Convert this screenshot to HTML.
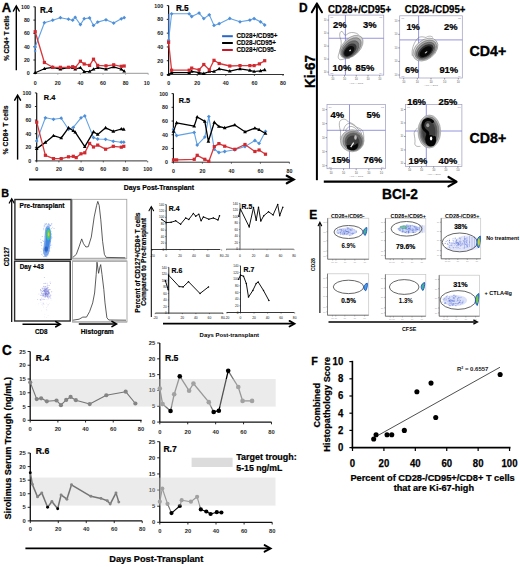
<!DOCTYPE html>
<html><head><meta charset="utf-8"><style>
html,body{margin:0;padding:0;background:#fff;}
body{width:520px;height:567px;overflow:hidden;}
svg{display:block;font-family:"Liberation Sans", sans-serif;}
</style></head><body>
<svg width="520" height="567" viewBox="0 0 520 567">
<defs><radialGradient id="gdark" cx="50%" cy="50%" r="50%"><stop offset="0" stop-color="#000" stop-opacity="1"/><stop offset="0.45" stop-color="#111" stop-opacity="1"/><stop offset="0.7" stop-color="#444" stop-opacity="0.9"/><stop offset="0.88" stop-color="#888" stop-opacity="0.6"/><stop offset="1" stop-color="#bbb" stop-opacity="0.2"/></radialGradient><radialGradient id="ggray" cx="50%" cy="50%" r="50%"><stop offset="0" stop-color="#222" stop-opacity="1"/><stop offset="0.5" stop-color="#555" stop-opacity="0.95"/><stop offset="0.8" stop-color="#999" stop-opacity="0.7"/><stop offset="1" stop-color="#ccc" stop-opacity="0.2"/></radialGradient></defs>
<rect width="520" height="567" fill="#fff"/>
<text x="1.70" y="11.50" font-size="13.65" font-weight="bold" fill="#000" textLength="9.39" lengthAdjust="spacingAndGlyphs" stroke="#000" stroke-width="0.34">A</text>
<line x1="16.30" y1="6.60" x2="16.30" y2="70.20" stroke="#000" stroke-width="1.4"/>
<polyline points="13.40,11.00 16.30,6.00 19.20,11.00" fill="none" stroke="#000" stroke-width="1.47" stroke-linecap="round" stroke-linejoin="miter"/>
<text x="9.30" y="38.20" font-size="6.66" font-weight="bold" text-anchor="middle" fill="#000" transform="rotate(-90 9.30 38.20)" textLength="45.28" lengthAdjust="spacingAndGlyphs" stroke="#000" stroke-width="0.17">% CD4+ T cells</text>
<line x1="17.60" y1="95.80" x2="17.60" y2="159.60" stroke="#000" stroke-width="1.4"/>
<polyline points="14.70,100.20 17.60,95.20 20.50,100.20" fill="none" stroke="#000" stroke-width="1.47" stroke-linecap="round" stroke-linejoin="miter"/>
<text x="8.40" y="129.90" font-size="7.2" font-weight="bold" text-anchor="middle" fill="#000" transform="rotate(-90 8.40 129.90)" textLength="48.99" lengthAdjust="spacingAndGlyphs" stroke="#000" stroke-width="0.18">% CD8+ T cells</text>
<line x1="35.20" y1="6.80" x2="35.20" y2="73.80" stroke="#111" stroke-width="1.2"/>
<line x1="33.40" y1="73.30" x2="35.20" y2="73.30" stroke="#111" stroke-width="0.9"/>
<text x="29.80" y="75.20" font-size="5.57" font-weight="bold" text-anchor="end" fill="#1a1a1a" textLength="2.95" lengthAdjust="spacingAndGlyphs">0</text>
<line x1="33.40" y1="60.00" x2="35.20" y2="60.00" stroke="#111" stroke-width="0.9"/>
<text x="29.80" y="61.90" font-size="5.57" font-weight="bold" text-anchor="end" fill="#1a1a1a" textLength="5.90" lengthAdjust="spacingAndGlyphs">20</text>
<line x1="33.40" y1="46.70" x2="35.20" y2="46.70" stroke="#111" stroke-width="0.9"/>
<text x="29.80" y="48.60" font-size="5.57" font-weight="bold" text-anchor="end" fill="#1a1a1a" textLength="5.90" lengthAdjust="spacingAndGlyphs">40</text>
<line x1="33.40" y1="33.40" x2="35.20" y2="33.40" stroke="#111" stroke-width="0.9"/>
<text x="29.80" y="35.30" font-size="5.57" font-weight="bold" text-anchor="end" fill="#1a1a1a" textLength="5.90" lengthAdjust="spacingAndGlyphs">60</text>
<line x1="33.40" y1="20.10" x2="35.20" y2="20.10" stroke="#111" stroke-width="0.9"/>
<text x="29.80" y="22.00" font-size="5.57" font-weight="bold" text-anchor="end" fill="#1a1a1a" textLength="5.90" lengthAdjust="spacingAndGlyphs">80</text>
<line x1="33.40" y1="6.80" x2="35.20" y2="6.80" stroke="#111" stroke-width="0.9"/>
<text x="29.80" y="8.70" font-size="5.57" font-weight="bold" text-anchor="end" fill="#1a1a1a" textLength="8.84" lengthAdjust="spacingAndGlyphs">100</text>
<line x1="35.20" y1="73.30" x2="148.20" y2="73.30" stroke="#999" stroke-width="1.0"/>
<line x1="35.20" y1="73.30" x2="35.20" y2="74.80" stroke="#999" stroke-width="0.8"/>
<text x="35.20" y="84.60" font-size="5.57" font-weight="bold" text-anchor="middle" fill="#1a1a1a" textLength="2.95" lengthAdjust="spacingAndGlyphs">0</text>
<line x1="57.80" y1="73.30" x2="57.80" y2="74.80" stroke="#999" stroke-width="0.8"/>
<text x="57.80" y="84.60" font-size="5.57" font-weight="bold" text-anchor="middle" fill="#1a1a1a" textLength="5.90" lengthAdjust="spacingAndGlyphs">20</text>
<line x1="80.40" y1="73.30" x2="80.40" y2="74.80" stroke="#999" stroke-width="0.8"/>
<text x="80.40" y="84.60" font-size="5.57" font-weight="bold" text-anchor="middle" fill="#1a1a1a" textLength="5.90" lengthAdjust="spacingAndGlyphs">40</text>
<line x1="103.00" y1="73.30" x2="103.00" y2="74.80" stroke="#999" stroke-width="0.8"/>
<text x="103.00" y="84.60" font-size="5.57" font-weight="bold" text-anchor="middle" fill="#1a1a1a" textLength="5.90" lengthAdjust="spacingAndGlyphs">60</text>
<line x1="125.60" y1="73.30" x2="125.60" y2="74.80" stroke="#999" stroke-width="0.8"/>
<text x="125.60" y="84.60" font-size="5.57" font-weight="bold" text-anchor="middle" fill="#1a1a1a" textLength="5.90" lengthAdjust="spacingAndGlyphs">80</text>
<line x1="148.20" y1="73.30" x2="148.20" y2="74.80" stroke="#999" stroke-width="0.8"/>
<text x="143.80" y="84.60" font-size="5.57" font-weight="bold" fill="#1a1a1a" textLength="5.90" lengthAdjust="spacingAndGlyphs">10</text>
<text x="40.00" y="13.00" font-size="8.4" font-weight="bold" fill="#000" textLength="12.45" lengthAdjust="spacingAndGlyphs" stroke="#000" stroke-width="0.21">R.4</text>
<polyline points="35.20,47.00 44.40,22.70 52.70,20.20 60.40,17.70 68.50,19.20 72.70,20.20 75.20,17.30 80.40,24.60 84.20,18.70 89.60,17.90 93.50,25.40 97.70,22.10 106.00,19.80 113.70,23.10 121.30,18.80 124.20,17.70" fill="none" stroke="#62a2e4" stroke-width="1.1" stroke-linejoin="round"/>
<polygon points="35.20,45.10 37.10,47.00 35.20,48.90 33.30,47.00" fill="#4f8fd8" stroke="none" stroke-width="1"/>
<polygon points="44.40,20.80 46.30,22.70 44.40,24.60 42.50,22.70" fill="#4f8fd8" stroke="none" stroke-width="1"/>
<polygon points="52.70,18.30 54.60,20.20 52.70,22.10 50.80,20.20" fill="#4f8fd8" stroke="none" stroke-width="1"/>
<polygon points="60.40,15.80 62.30,17.70 60.40,19.60 58.50,17.70" fill="#4f8fd8" stroke="none" stroke-width="1"/>
<polygon points="68.50,17.30 70.40,19.20 68.50,21.10 66.60,19.20" fill="#4f8fd8" stroke="none" stroke-width="1"/>
<polygon points="72.70,18.30 74.60,20.20 72.70,22.10 70.80,20.20" fill="#4f8fd8" stroke="none" stroke-width="1"/>
<polygon points="75.20,15.40 77.10,17.30 75.20,19.20 73.30,17.30" fill="#4f8fd8" stroke="none" stroke-width="1"/>
<polygon points="80.40,22.70 82.30,24.60 80.40,26.50 78.50,24.60" fill="#4f8fd8" stroke="none" stroke-width="1"/>
<polygon points="84.20,16.80 86.10,18.70 84.20,20.60 82.30,18.70" fill="#4f8fd8" stroke="none" stroke-width="1"/>
<polygon points="89.60,16.00 91.50,17.90 89.60,19.80 87.70,17.90" fill="#4f8fd8" stroke="none" stroke-width="1"/>
<polygon points="93.50,23.50 95.40,25.40 93.50,27.30 91.60,25.40" fill="#4f8fd8" stroke="none" stroke-width="1"/>
<polygon points="97.70,20.20 99.60,22.10 97.70,24.00 95.80,22.10" fill="#4f8fd8" stroke="none" stroke-width="1"/>
<polygon points="106.00,17.90 107.90,19.80 106.00,21.70 104.10,19.80" fill="#4f8fd8" stroke="none" stroke-width="1"/>
<polygon points="113.70,21.20 115.60,23.10 113.70,25.00 111.80,23.10" fill="#4f8fd8" stroke="none" stroke-width="1"/>
<polygon points="121.30,16.90 123.20,18.80 121.30,20.70 119.40,18.80" fill="#4f8fd8" stroke="none" stroke-width="1"/>
<polygon points="124.20,15.80 126.10,17.70 124.20,19.60 122.30,17.70" fill="#4f8fd8" stroke="none" stroke-width="1"/>
<polygon points="35.20,49.50 36.70,51.00 35.20,52.50 33.70,51.00" fill="#4f8fd8" stroke="none" stroke-width="1"/>
<polyline points="35.20,72.70 44.40,68.70 52.70,67.30 60.40,69.20 68.50,67.70 72.70,67.70 75.20,69.20 80.40,67.70 84.20,71.70 89.60,71.50 93.50,69.20 97.70,67.70 106.00,69.20 113.70,66.90 121.30,69.20 124.20,71.20" fill="none" stroke="#000" stroke-width="1.2" stroke-linejoin="round"/>
<polygon points="35.20,70.66 37.07,74.06 33.33,74.06" fill="#000" stroke="none" stroke-width="1"/>
<polygon points="44.40,66.66 46.27,70.06 42.53,70.06" fill="#000" stroke="none" stroke-width="1"/>
<polygon points="52.70,65.26 54.57,68.66 50.83,68.66" fill="#000" stroke="none" stroke-width="1"/>
<polygon points="60.40,67.16 62.27,70.56 58.53,70.56" fill="#000" stroke="none" stroke-width="1"/>
<polygon points="68.50,65.66 70.37,69.06 66.63,69.06" fill="#000" stroke="none" stroke-width="1"/>
<polygon points="72.70,65.66 74.57,69.06 70.83,69.06" fill="#000" stroke="none" stroke-width="1"/>
<polygon points="75.20,67.16 77.07,70.56 73.33,70.56" fill="#000" stroke="none" stroke-width="1"/>
<polygon points="80.40,65.66 82.27,69.06 78.53,69.06" fill="#000" stroke="none" stroke-width="1"/>
<polygon points="84.20,69.66 86.07,73.06 82.33,73.06" fill="#000" stroke="none" stroke-width="1"/>
<polygon points="89.60,69.46 91.47,72.86 87.73,72.86" fill="#000" stroke="none" stroke-width="1"/>
<polygon points="93.50,67.16 95.37,70.56 91.63,70.56" fill="#000" stroke="none" stroke-width="1"/>
<polygon points="97.70,65.66 99.57,69.06 95.83,69.06" fill="#000" stroke="none" stroke-width="1"/>
<polygon points="106.00,67.16 107.87,70.56 104.13,70.56" fill="#000" stroke="none" stroke-width="1"/>
<polygon points="113.70,64.86 115.57,68.26 111.83,68.26" fill="#000" stroke="none" stroke-width="1"/>
<polygon points="121.30,67.16 123.17,70.56 119.43,70.56" fill="#000" stroke="none" stroke-width="1"/>
<polygon points="124.20,69.16 126.07,72.56 122.33,72.56" fill="#000" stroke="none" stroke-width="1"/>
<polyline points="35.20,31.70 44.40,62.50 52.70,67.30 60.40,67.30 68.50,67.30 72.70,66.70 75.20,67.60 80.40,61.20 84.20,64.00 89.60,65.40 93.50,59.20 97.70,65.40 106.00,65.80 113.70,64.80 121.30,66.30 124.20,66.00" fill="none" stroke="#d8383c" stroke-width="1.3" stroke-linejoin="round"/>
<rect x="33.60" y="30.10" width="3.20" height="3.20" fill="#d02a30" stroke="none" stroke-width="1"/>
<rect x="42.80" y="60.90" width="3.20" height="3.20" fill="#d02a30" stroke="none" stroke-width="1"/>
<rect x="51.10" y="65.70" width="3.20" height="3.20" fill="#d02a30" stroke="none" stroke-width="1"/>
<rect x="58.80" y="65.70" width="3.20" height="3.20" fill="#d02a30" stroke="none" stroke-width="1"/>
<rect x="66.90" y="65.70" width="3.20" height="3.20" fill="#d02a30" stroke="none" stroke-width="1"/>
<rect x="71.10" y="65.10" width="3.20" height="3.20" fill="#d02a30" stroke="none" stroke-width="1"/>
<rect x="73.60" y="66.00" width="3.20" height="3.20" fill="#d02a30" stroke="none" stroke-width="1"/>
<rect x="78.80" y="59.60" width="3.20" height="3.20" fill="#d02a30" stroke="none" stroke-width="1"/>
<rect x="82.60" y="62.40" width="3.20" height="3.20" fill="#d02a30" stroke="none" stroke-width="1"/>
<rect x="88.00" y="63.80" width="3.20" height="3.20" fill="#d02a30" stroke="none" stroke-width="1"/>
<rect x="91.90" y="57.60" width="3.20" height="3.20" fill="#d02a30" stroke="none" stroke-width="1"/>
<rect x="96.10" y="63.80" width="3.20" height="3.20" fill="#d02a30" stroke="none" stroke-width="1"/>
<rect x="104.40" y="64.20" width="3.20" height="3.20" fill="#d02a30" stroke="none" stroke-width="1"/>
<rect x="112.10" y="63.20" width="3.20" height="3.20" fill="#d02a30" stroke="none" stroke-width="1"/>
<rect x="119.70" y="64.70" width="3.20" height="3.20" fill="#d02a30" stroke="none" stroke-width="1"/>
<rect x="122.60" y="64.40" width="3.20" height="3.20" fill="#d02a30" stroke="none" stroke-width="1"/>
<line x1="168.60" y1="5.60" x2="168.60" y2="75.00" stroke="#111" stroke-width="1.2"/>
<line x1="166.80" y1="74.50" x2="168.60" y2="74.50" stroke="#111" stroke-width="0.9"/>
<text x="163.20" y="76.40" font-size="5.57" font-weight="bold" text-anchor="end" fill="#1a1a1a" textLength="2.95" lengthAdjust="spacingAndGlyphs">0</text>
<line x1="166.80" y1="60.72" x2="168.60" y2="60.72" stroke="#111" stroke-width="0.9"/>
<text x="163.20" y="62.62" font-size="5.57" font-weight="bold" text-anchor="end" fill="#1a1a1a" textLength="5.90" lengthAdjust="spacingAndGlyphs">20</text>
<line x1="166.80" y1="46.94" x2="168.60" y2="46.94" stroke="#111" stroke-width="0.9"/>
<text x="163.20" y="48.84" font-size="5.57" font-weight="bold" text-anchor="end" fill="#1a1a1a" textLength="5.90" lengthAdjust="spacingAndGlyphs">40</text>
<line x1="166.80" y1="33.16" x2="168.60" y2="33.16" stroke="#111" stroke-width="0.9"/>
<text x="163.20" y="35.06" font-size="5.57" font-weight="bold" text-anchor="end" fill="#1a1a1a" textLength="5.90" lengthAdjust="spacingAndGlyphs">60</text>
<line x1="166.80" y1="19.38" x2="168.60" y2="19.38" stroke="#111" stroke-width="0.9"/>
<text x="163.20" y="21.28" font-size="5.57" font-weight="bold" text-anchor="end" fill="#1a1a1a" textLength="5.90" lengthAdjust="spacingAndGlyphs">80</text>
<line x1="166.80" y1="5.60" x2="168.60" y2="5.60" stroke="#111" stroke-width="0.9"/>
<text x="163.20" y="7.50" font-size="5.57" font-weight="bold" text-anchor="end" fill="#1a1a1a" textLength="8.84" lengthAdjust="spacingAndGlyphs">100</text>
<line x1="168.60" y1="74.50" x2="284.00" y2="74.50" stroke="#333" stroke-width="1.0"/>
<line x1="168.60" y1="74.50" x2="168.60" y2="76.00" stroke="#333" stroke-width="0.8"/>
<text x="168.60" y="84.80" font-size="5.57" font-weight="bold" text-anchor="middle" fill="#1a1a1a" textLength="2.95" lengthAdjust="spacingAndGlyphs">0</text>
<line x1="197.20" y1="74.50" x2="197.20" y2="76.00" stroke="#333" stroke-width="0.8"/>
<text x="197.20" y="84.80" font-size="5.57" font-weight="bold" text-anchor="middle" fill="#1a1a1a" textLength="5.90" lengthAdjust="spacingAndGlyphs">20</text>
<line x1="225.80" y1="74.50" x2="225.80" y2="76.00" stroke="#333" stroke-width="0.8"/>
<text x="225.80" y="84.80" font-size="5.57" font-weight="bold" text-anchor="middle" fill="#1a1a1a" textLength="5.90" lengthAdjust="spacingAndGlyphs">40</text>
<line x1="254.40" y1="74.50" x2="254.40" y2="76.00" stroke="#333" stroke-width="0.8"/>
<text x="254.40" y="84.80" font-size="5.57" font-weight="bold" text-anchor="middle" fill="#1a1a1a" textLength="5.90" lengthAdjust="spacingAndGlyphs">60</text>
<line x1="283.00" y1="74.50" x2="283.00" y2="76.00" stroke="#333" stroke-width="0.8"/>
<text x="283.00" y="84.80" font-size="5.57" font-weight="bold" text-anchor="middle" fill="#1a1a1a" textLength="5.90" lengthAdjust="spacingAndGlyphs">80</text>
<text x="175.90" y="10.90" font-size="8.61" font-weight="bold" fill="#000" textLength="12.76" lengthAdjust="spacingAndGlyphs" stroke="#000" stroke-width="0.22">R.5</text>
<line x1="168.60" y1="13.80" x2="168.60" y2="40.20" stroke="#2a5aa8" stroke-width="1.3"/>
<polyline points="168.60,40.20 171.60,13.80 189.20,13.80 191.70,16.50 199.10,13.10 203.80,18.60 209.30,14.80 214.00,25.40 219.20,23.70 229.80,18.40 240.00,21.80 249.90,20.10 254.10,18.60 260.50,21.80 264.70,25.00" fill="none" stroke="#62a2e4" stroke-width="1.1" stroke-linejoin="round"/>
<polygon points="168.60,38.30 170.50,40.20 168.60,42.10 166.70,40.20" fill="#4f8fd8" stroke="none" stroke-width="1"/>
<polygon points="171.60,11.90 173.50,13.80 171.60,15.70 169.70,13.80" fill="#4f8fd8" stroke="none" stroke-width="1"/>
<polygon points="189.20,11.90 191.10,13.80 189.20,15.70 187.30,13.80" fill="#4f8fd8" stroke="none" stroke-width="1"/>
<polygon points="191.70,14.60 193.60,16.50 191.70,18.40 189.80,16.50" fill="#4f8fd8" stroke="none" stroke-width="1"/>
<polygon points="199.10,11.20 201.00,13.10 199.10,15.00 197.20,13.10" fill="#4f8fd8" stroke="none" stroke-width="1"/>
<polygon points="203.80,16.70 205.70,18.60 203.80,20.50 201.90,18.60" fill="#4f8fd8" stroke="none" stroke-width="1"/>
<polygon points="209.30,12.90 211.20,14.80 209.30,16.70 207.40,14.80" fill="#4f8fd8" stroke="none" stroke-width="1"/>
<polygon points="214.00,23.50 215.90,25.40 214.00,27.30 212.10,25.40" fill="#4f8fd8" stroke="none" stroke-width="1"/>
<polygon points="219.20,21.80 221.10,23.70 219.20,25.60 217.30,23.70" fill="#4f8fd8" stroke="none" stroke-width="1"/>
<polygon points="229.80,16.50 231.70,18.40 229.80,20.30 227.90,18.40" fill="#4f8fd8" stroke="none" stroke-width="1"/>
<polygon points="240.00,19.90 241.90,21.80 240.00,23.70 238.10,21.80" fill="#4f8fd8" stroke="none" stroke-width="1"/>
<polygon points="249.90,18.20 251.80,20.10 249.90,22.00 248.00,20.10" fill="#4f8fd8" stroke="none" stroke-width="1"/>
<polygon points="254.10,16.70 256.00,18.60 254.10,20.50 252.20,18.60" fill="#4f8fd8" stroke="none" stroke-width="1"/>
<polygon points="260.50,19.90 262.40,21.80 260.50,23.70 258.60,21.80" fill="#4f8fd8" stroke="none" stroke-width="1"/>
<polygon points="264.70,23.10 266.60,25.00 264.70,26.90 262.80,25.00" fill="#4f8fd8" stroke="none" stroke-width="1"/>
<polyline points="168.60,74.50 171.60,72.60 189.20,72.60 191.70,71.30 199.10,72.60 203.80,73.60 209.30,71.50 214.00,71.50 219.20,68.80 229.80,71.10 240.00,68.80 249.90,70.40 254.10,71.50 260.50,70.90 264.70,69.80" fill="none" stroke="#000" stroke-width="1.2" stroke-linejoin="round"/>
<polygon points="168.60,72.46 170.47,75.86 166.73,75.86" fill="#000" stroke="none" stroke-width="1"/>
<polygon points="171.60,70.56 173.47,73.96 169.73,73.96" fill="#000" stroke="none" stroke-width="1"/>
<polygon points="189.20,70.56 191.07,73.96 187.33,73.96" fill="#000" stroke="none" stroke-width="1"/>
<polygon points="191.70,69.26 193.57,72.66 189.83,72.66" fill="#000" stroke="none" stroke-width="1"/>
<polygon points="199.10,70.56 200.97,73.96 197.23,73.96" fill="#000" stroke="none" stroke-width="1"/>
<polygon points="203.80,71.56 205.67,74.96 201.93,74.96" fill="#000" stroke="none" stroke-width="1"/>
<polygon points="209.30,69.46 211.17,72.86 207.43,72.86" fill="#000" stroke="none" stroke-width="1"/>
<polygon points="214.00,69.46 215.87,72.86 212.13,72.86" fill="#000" stroke="none" stroke-width="1"/>
<polygon points="219.20,66.76 221.07,70.16 217.33,70.16" fill="#000" stroke="none" stroke-width="1"/>
<polygon points="229.80,69.06 231.67,72.46 227.93,72.46" fill="#000" stroke="none" stroke-width="1"/>
<polygon points="240.00,66.76 241.87,70.16 238.13,70.16" fill="#000" stroke="none" stroke-width="1"/>
<polygon points="249.90,68.36 251.77,71.76 248.03,71.76" fill="#000" stroke="none" stroke-width="1"/>
<polygon points="254.10,69.46 255.97,72.86 252.23,72.86" fill="#000" stroke="none" stroke-width="1"/>
<polygon points="260.50,68.86 262.37,72.26 258.63,72.26" fill="#000" stroke="none" stroke-width="1"/>
<polygon points="264.70,67.76 266.57,71.16 262.83,71.16" fill="#000" stroke="none" stroke-width="1"/>
<polyline points="168.60,42.30 171.60,70.20 189.20,70.20 191.70,68.10 199.10,69.80 203.80,64.50 209.30,69.80 214.00,60.30 219.20,63.50 229.80,66.00 240.00,65.60 249.90,65.60 254.10,65.60 259.40,63.90 264.70,60.70" fill="none" stroke="#d8383c" stroke-width="1.3" stroke-linejoin="round"/>
<rect x="167.00" y="40.70" width="3.20" height="3.20" fill="#d02a30" stroke="none" stroke-width="1"/>
<rect x="170.00" y="68.60" width="3.20" height="3.20" fill="#d02a30" stroke="none" stroke-width="1"/>
<rect x="187.60" y="68.60" width="3.20" height="3.20" fill="#d02a30" stroke="none" stroke-width="1"/>
<rect x="190.10" y="66.50" width="3.20" height="3.20" fill="#d02a30" stroke="none" stroke-width="1"/>
<rect x="197.50" y="68.20" width="3.20" height="3.20" fill="#d02a30" stroke="none" stroke-width="1"/>
<rect x="202.20" y="62.90" width="3.20" height="3.20" fill="#d02a30" stroke="none" stroke-width="1"/>
<rect x="207.70" y="68.20" width="3.20" height="3.20" fill="#d02a30" stroke="none" stroke-width="1"/>
<rect x="212.40" y="58.70" width="3.20" height="3.20" fill="#d02a30" stroke="none" stroke-width="1"/>
<rect x="217.60" y="61.90" width="3.20" height="3.20" fill="#d02a30" stroke="none" stroke-width="1"/>
<rect x="228.20" y="64.40" width="3.20" height="3.20" fill="#d02a30" stroke="none" stroke-width="1"/>
<rect x="238.40" y="64.00" width="3.20" height="3.20" fill="#d02a30" stroke="none" stroke-width="1"/>
<rect x="248.30" y="64.00" width="3.20" height="3.20" fill="#d02a30" stroke="none" stroke-width="1"/>
<rect x="252.50" y="64.00" width="3.20" height="3.20" fill="#d02a30" stroke="none" stroke-width="1"/>
<rect x="257.80" y="62.30" width="3.20" height="3.20" fill="#d02a30" stroke="none" stroke-width="1"/>
<rect x="263.10" y="59.10" width="3.20" height="3.20" fill="#d02a30" stroke="none" stroke-width="1"/>
<line x1="222.10" y1="36.20" x2="232.80" y2="36.20" stroke="#2a66c8" stroke-width="2.0"/>
<line x1="222.10" y1="43.00" x2="232.80" y2="43.00" stroke="#000" stroke-width="2.0"/>
<line x1="222.10" y1="50.00" x2="232.80" y2="50.00" stroke="#c8182a" stroke-width="2.0"/>
<text x="236.50" y="38.40" font-size="6.56" font-weight="bold" fill="#000" textLength="41.00" lengthAdjust="spacingAndGlyphs" stroke="#000" stroke-width="0.16">CD28+/CD95+</text>
<text x="236.50" y="45.20" font-size="6.56" font-weight="bold" fill="#000" textLength="39.43" lengthAdjust="spacingAndGlyphs" stroke="#000" stroke-width="0.16">CD28-/CD95+</text>
<text x="236.50" y="52.20" font-size="6.56" font-weight="bold" fill="#000" textLength="39.43" lengthAdjust="spacingAndGlyphs" stroke="#000" stroke-width="0.16">CD28+/CD95-</text>
<line x1="36.70" y1="92.90" x2="36.70" y2="161.40" stroke="#111" stroke-width="1.2"/>
<line x1="34.90" y1="160.90" x2="36.70" y2="160.90" stroke="#111" stroke-width="0.9"/>
<text x="31.30" y="162.80" font-size="5.57" font-weight="bold" text-anchor="end" fill="#1a1a1a" textLength="2.95" lengthAdjust="spacingAndGlyphs">0</text>
<line x1="34.90" y1="147.30" x2="36.70" y2="147.30" stroke="#111" stroke-width="0.9"/>
<text x="31.30" y="149.20" font-size="5.57" font-weight="bold" text-anchor="end" fill="#1a1a1a" textLength="5.90" lengthAdjust="spacingAndGlyphs">20</text>
<line x1="34.90" y1="133.70" x2="36.70" y2="133.70" stroke="#111" stroke-width="0.9"/>
<text x="31.30" y="135.60" font-size="5.57" font-weight="bold" text-anchor="end" fill="#1a1a1a" textLength="5.90" lengthAdjust="spacingAndGlyphs">40</text>
<line x1="34.90" y1="120.10" x2="36.70" y2="120.10" stroke="#111" stroke-width="0.9"/>
<text x="31.30" y="122.00" font-size="5.57" font-weight="bold" text-anchor="end" fill="#1a1a1a" textLength="5.90" lengthAdjust="spacingAndGlyphs">60</text>
<line x1="34.90" y1="106.50" x2="36.70" y2="106.50" stroke="#111" stroke-width="0.9"/>
<text x="31.30" y="108.40" font-size="5.57" font-weight="bold" text-anchor="end" fill="#1a1a1a" textLength="5.90" lengthAdjust="spacingAndGlyphs">80</text>
<line x1="34.90" y1="92.90" x2="36.70" y2="92.90" stroke="#111" stroke-width="0.9"/>
<text x="31.30" y="94.80" font-size="5.57" font-weight="bold" text-anchor="end" fill="#1a1a1a" textLength="8.84" lengthAdjust="spacingAndGlyphs">100</text>
<line x1="36.70" y1="160.90" x2="147.10" y2="160.90" stroke="#333" stroke-width="1.0"/>
<line x1="36.70" y1="160.90" x2="36.70" y2="162.40" stroke="#333" stroke-width="0.8"/>
<text x="36.70" y="171.00" font-size="5.57" font-weight="bold" text-anchor="middle" fill="#1a1a1a" textLength="2.95" lengthAdjust="spacingAndGlyphs">0</text>
<line x1="58.90" y1="160.90" x2="58.90" y2="162.40" stroke="#333" stroke-width="0.8"/>
<text x="58.90" y="171.00" font-size="5.57" font-weight="bold" text-anchor="middle" fill="#1a1a1a" textLength="5.90" lengthAdjust="spacingAndGlyphs">20</text>
<line x1="81.10" y1="160.90" x2="81.10" y2="162.40" stroke="#333" stroke-width="0.8"/>
<text x="81.10" y="171.00" font-size="5.57" font-weight="bold" text-anchor="middle" fill="#1a1a1a" textLength="5.90" lengthAdjust="spacingAndGlyphs">40</text>
<line x1="103.30" y1="160.90" x2="103.30" y2="162.40" stroke="#333" stroke-width="0.8"/>
<text x="103.30" y="171.00" font-size="5.57" font-weight="bold" text-anchor="middle" fill="#1a1a1a" textLength="5.90" lengthAdjust="spacingAndGlyphs">60</text>
<line x1="125.50" y1="160.90" x2="125.50" y2="162.40" stroke="#333" stroke-width="0.8"/>
<text x="125.50" y="171.00" font-size="5.57" font-weight="bold" text-anchor="middle" fill="#1a1a1a" textLength="5.90" lengthAdjust="spacingAndGlyphs">80</text>
<line x1="147.70" y1="160.90" x2="147.70" y2="162.40" stroke="#333" stroke-width="0.8"/>
<text x="147.70" y="171.00" font-size="5.57" font-weight="bold" text-anchor="middle" fill="#1a1a1a" textLength="8.84" lengthAdjust="spacingAndGlyphs">100</text>
<text x="43.80" y="100.40" font-size="7.77" font-weight="bold" fill="#000" textLength="11.52" lengthAdjust="spacingAndGlyphs" stroke="#000" stroke-width="0.19">R.4</text>
<polyline points="36.70,140.90 45.40,117.80 53.50,119.30 61.20,118.20 68.50,129.30 73.30,127.40 81.00,117.80 84.80,115.90 93.50,137.60 97.70,139.00 105.60,139.30 113.30,141.30 121.30,142.20 123.80,142.20" fill="none" stroke="#62a2e4" stroke-width="1.1" stroke-linejoin="round"/>
<polygon points="36.70,139.00 38.60,140.90 36.70,142.80 34.80,140.90" fill="#4f8fd8" stroke="none" stroke-width="1"/>
<polygon points="45.40,115.90 47.30,117.80 45.40,119.70 43.50,117.80" fill="#4f8fd8" stroke="none" stroke-width="1"/>
<polygon points="53.50,117.40 55.40,119.30 53.50,121.20 51.60,119.30" fill="#4f8fd8" stroke="none" stroke-width="1"/>
<polygon points="61.20,116.30 63.10,118.20 61.20,120.10 59.30,118.20" fill="#4f8fd8" stroke="none" stroke-width="1"/>
<polygon points="68.50,127.40 70.40,129.30 68.50,131.20 66.60,129.30" fill="#4f8fd8" stroke="none" stroke-width="1"/>
<polygon points="73.30,125.50 75.20,127.40 73.30,129.30 71.40,127.40" fill="#4f8fd8" stroke="none" stroke-width="1"/>
<polygon points="81.00,115.90 82.90,117.80 81.00,119.70 79.10,117.80" fill="#4f8fd8" stroke="none" stroke-width="1"/>
<polygon points="84.80,114.00 86.70,115.90 84.80,117.80 82.90,115.90" fill="#4f8fd8" stroke="none" stroke-width="1"/>
<polygon points="93.50,135.70 95.40,137.60 93.50,139.50 91.60,137.60" fill="#4f8fd8" stroke="none" stroke-width="1"/>
<polygon points="97.70,137.10 99.60,139.00 97.70,140.90 95.80,139.00" fill="#4f8fd8" stroke="none" stroke-width="1"/>
<polygon points="105.60,137.40 107.50,139.30 105.60,141.20 103.70,139.30" fill="#4f8fd8" stroke="none" stroke-width="1"/>
<polygon points="113.30,139.40 115.20,141.30 113.30,143.20 111.40,141.30" fill="#4f8fd8" stroke="none" stroke-width="1"/>
<polygon points="121.30,140.30 123.20,142.20 121.30,144.10 119.40,142.20" fill="#4f8fd8" stroke="none" stroke-width="1"/>
<polygon points="123.80,140.30 125.70,142.20 123.80,144.10 121.90,142.20" fill="#4f8fd8" stroke="none" stroke-width="1"/>
<polyline points="36.70,148.60 45.40,142.40 53.50,135.70 61.20,138.00 68.50,127.80 73.30,130.70 75.20,132.20 84.80,146.70 93.50,131.80 97.70,134.50 105.60,127.80 113.30,131.30 121.30,129.00 123.80,129.30" fill="none" stroke="#000" stroke-width="1.3" stroke-linejoin="round"/>
<polygon points="36.70,146.56 38.57,149.96 34.83,149.96" fill="#000" stroke="none" stroke-width="1"/>
<polygon points="45.40,140.36 47.27,143.76 43.53,143.76" fill="#000" stroke="none" stroke-width="1"/>
<polygon points="53.50,133.66 55.37,137.06 51.63,137.06" fill="#000" stroke="none" stroke-width="1"/>
<polygon points="61.20,135.96 63.07,139.36 59.33,139.36" fill="#000" stroke="none" stroke-width="1"/>
<polygon points="68.50,125.76 70.37,129.16 66.63,129.16" fill="#000" stroke="none" stroke-width="1"/>
<polygon points="73.30,128.66 75.17,132.06 71.43,132.06" fill="#000" stroke="none" stroke-width="1"/>
<polygon points="75.20,130.16 77.07,133.56 73.33,133.56" fill="#000" stroke="none" stroke-width="1"/>
<polygon points="84.80,144.66 86.67,148.06 82.93,148.06" fill="#000" stroke="none" stroke-width="1"/>
<polygon points="93.50,129.76 95.37,133.16 91.63,133.16" fill="#000" stroke="none" stroke-width="1"/>
<polygon points="97.70,132.46 99.57,135.86 95.83,135.86" fill="#000" stroke="none" stroke-width="1"/>
<polygon points="105.60,125.76 107.47,129.16 103.73,129.16" fill="#000" stroke="none" stroke-width="1"/>
<polygon points="113.30,129.26 115.17,132.66 111.43,132.66" fill="#000" stroke="none" stroke-width="1"/>
<polygon points="121.30,126.96 123.17,130.36 119.43,130.36" fill="#000" stroke="none" stroke-width="1"/>
<polygon points="123.80,127.26 125.67,130.66 121.93,130.66" fill="#000" stroke="none" stroke-width="1"/>
<polyline points="36.70,122.20 45.40,155.30 53.50,158.60 61.20,158.60 68.50,156.80 73.30,156.30 76.20,157.60 81.00,153.80 84.80,152.80 89.60,143.40 93.50,147.00 97.70,145.10 105.60,149.20 113.30,146.30 121.30,147.20 123.80,146.30" fill="none" stroke="#d8383c" stroke-width="1.3" stroke-linejoin="round"/>
<rect x="35.10" y="120.60" width="3.20" height="3.20" fill="#d02a30" stroke="none" stroke-width="1"/>
<rect x="43.80" y="153.70" width="3.20" height="3.20" fill="#d02a30" stroke="none" stroke-width="1"/>
<rect x="51.90" y="157.00" width="3.20" height="3.20" fill="#d02a30" stroke="none" stroke-width="1"/>
<rect x="59.60" y="157.00" width="3.20" height="3.20" fill="#d02a30" stroke="none" stroke-width="1"/>
<rect x="66.90" y="155.20" width="3.20" height="3.20" fill="#d02a30" stroke="none" stroke-width="1"/>
<rect x="71.70" y="154.70" width="3.20" height="3.20" fill="#d02a30" stroke="none" stroke-width="1"/>
<rect x="74.60" y="156.00" width="3.20" height="3.20" fill="#d02a30" stroke="none" stroke-width="1"/>
<rect x="79.40" y="152.20" width="3.20" height="3.20" fill="#d02a30" stroke="none" stroke-width="1"/>
<rect x="83.20" y="151.20" width="3.20" height="3.20" fill="#d02a30" stroke="none" stroke-width="1"/>
<rect x="88.00" y="141.80" width="3.20" height="3.20" fill="#d02a30" stroke="none" stroke-width="1"/>
<rect x="91.90" y="145.40" width="3.20" height="3.20" fill="#d02a30" stroke="none" stroke-width="1"/>
<rect x="96.10" y="143.50" width="3.20" height="3.20" fill="#d02a30" stroke="none" stroke-width="1"/>
<rect x="104.00" y="147.60" width="3.20" height="3.20" fill="#d02a30" stroke="none" stroke-width="1"/>
<rect x="111.70" y="144.70" width="3.20" height="3.20" fill="#d02a30" stroke="none" stroke-width="1"/>
<rect x="119.70" y="145.60" width="3.20" height="3.20" fill="#d02a30" stroke="none" stroke-width="1"/>
<rect x="122.20" y="144.70" width="3.20" height="3.20" fill="#d02a30" stroke="none" stroke-width="1"/>
<line x1="173.40" y1="93.60" x2="173.40" y2="162.70" stroke="#111" stroke-width="1.2"/>
<line x1="171.60" y1="162.20" x2="173.40" y2="162.20" stroke="#111" stroke-width="0.9"/>
<text x="168.00" y="164.10" font-size="5.57" font-weight="bold" text-anchor="end" fill="#1a1a1a" textLength="2.95" lengthAdjust="spacingAndGlyphs">0</text>
<line x1="171.60" y1="148.48" x2="173.40" y2="148.48" stroke="#111" stroke-width="0.9"/>
<text x="168.00" y="150.38" font-size="5.57" font-weight="bold" text-anchor="end" fill="#1a1a1a" textLength="5.90" lengthAdjust="spacingAndGlyphs">20</text>
<line x1="171.60" y1="134.76" x2="173.40" y2="134.76" stroke="#111" stroke-width="0.9"/>
<text x="168.00" y="136.66" font-size="5.57" font-weight="bold" text-anchor="end" fill="#1a1a1a" textLength="5.90" lengthAdjust="spacingAndGlyphs">40</text>
<line x1="171.60" y1="121.04" x2="173.40" y2="121.04" stroke="#111" stroke-width="0.9"/>
<text x="168.00" y="122.94" font-size="5.57" font-weight="bold" text-anchor="end" fill="#1a1a1a" textLength="5.90" lengthAdjust="spacingAndGlyphs">60</text>
<line x1="171.60" y1="107.32" x2="173.40" y2="107.32" stroke="#111" stroke-width="0.9"/>
<text x="168.00" y="109.22" font-size="5.57" font-weight="bold" text-anchor="end" fill="#1a1a1a" textLength="5.90" lengthAdjust="spacingAndGlyphs">80</text>
<line x1="171.60" y1="93.60" x2="173.40" y2="93.60" stroke="#111" stroke-width="0.9"/>
<text x="168.00" y="95.50" font-size="5.57" font-weight="bold" text-anchor="end" fill="#1a1a1a" textLength="8.84" lengthAdjust="spacingAndGlyphs">100</text>
<line x1="173.40" y1="162.20" x2="289.50" y2="162.20" stroke="#333" stroke-width="1.0"/>
<line x1="173.40" y1="162.20" x2="173.40" y2="163.70" stroke="#333" stroke-width="0.8"/>
<text x="173.40" y="172.60" font-size="5.57" font-weight="bold" text-anchor="middle" fill="#1a1a1a" textLength="2.95" lengthAdjust="spacingAndGlyphs">0</text>
<line x1="202.40" y1="162.20" x2="202.40" y2="163.70" stroke="#333" stroke-width="0.8"/>
<text x="202.40" y="172.60" font-size="5.57" font-weight="bold" text-anchor="middle" fill="#1a1a1a" textLength="5.90" lengthAdjust="spacingAndGlyphs">20</text>
<line x1="231.40" y1="162.20" x2="231.40" y2="163.70" stroke="#333" stroke-width="0.8"/>
<text x="231.40" y="172.60" font-size="5.57" font-weight="bold" text-anchor="middle" fill="#1a1a1a" textLength="5.90" lengthAdjust="spacingAndGlyphs">40</text>
<line x1="260.40" y1="162.20" x2="260.40" y2="163.70" stroke="#333" stroke-width="0.8"/>
<text x="260.40" y="172.60" font-size="5.57" font-weight="bold" text-anchor="middle" fill="#1a1a1a" textLength="5.90" lengthAdjust="spacingAndGlyphs">60</text>
<line x1="289.40" y1="162.20" x2="289.40" y2="163.70" stroke="#333" stroke-width="0.8"/>
<text x="289.40" y="172.60" font-size="5.57" font-weight="bold" text-anchor="middle" fill="#1a1a1a" textLength="5.90" lengthAdjust="spacingAndGlyphs">80</text>
<text x="178.80" y="102.60" font-size="7.67" font-weight="bold" fill="#000" textLength="11.36" lengthAdjust="spacingAndGlyphs" stroke="#000" stroke-width="0.19">R.5</text>
<polyline points="173.50,129.30 176.60,135.60 194.20,132.40 197.20,145.10 204.80,137.10 208.80,116.60 214.30,149.30 218.90,152.50 224.70,151.50 234.80,149.80 245.00,146.60 254.90,140.50 259.10,143.40 265.50,131.40" fill="none" stroke="#62a2e4" stroke-width="1.1" stroke-linejoin="round"/>
<polygon points="173.50,127.40 175.40,129.30 173.50,131.20 171.60,129.30" fill="#4f8fd8" stroke="none" stroke-width="1"/>
<polygon points="176.60,133.70 178.50,135.60 176.60,137.50 174.70,135.60" fill="#4f8fd8" stroke="none" stroke-width="1"/>
<polygon points="194.20,130.50 196.10,132.40 194.20,134.30 192.30,132.40" fill="#4f8fd8" stroke="none" stroke-width="1"/>
<polygon points="197.20,143.20 199.10,145.10 197.20,147.00 195.30,145.10" fill="#4f8fd8" stroke="none" stroke-width="1"/>
<polygon points="204.80,135.20 206.70,137.10 204.80,139.00 202.90,137.10" fill="#4f8fd8" stroke="none" stroke-width="1"/>
<polygon points="208.80,114.70 210.70,116.60 208.80,118.50 206.90,116.60" fill="#4f8fd8" stroke="none" stroke-width="1"/>
<polygon points="214.30,147.40 216.20,149.30 214.30,151.20 212.40,149.30" fill="#4f8fd8" stroke="none" stroke-width="1"/>
<polygon points="218.90,150.60 220.80,152.50 218.90,154.40 217.00,152.50" fill="#4f8fd8" stroke="none" stroke-width="1"/>
<polygon points="224.70,149.60 226.60,151.50 224.70,153.40 222.80,151.50" fill="#4f8fd8" stroke="none" stroke-width="1"/>
<polygon points="234.80,147.90 236.70,149.80 234.80,151.70 232.90,149.80" fill="#4f8fd8" stroke="none" stroke-width="1"/>
<polygon points="245.00,144.70 246.90,146.60 245.00,148.50 243.10,146.60" fill="#4f8fd8" stroke="none" stroke-width="1"/>
<polygon points="254.90,138.60 256.80,140.50 254.90,142.40 253.00,140.50" fill="#4f8fd8" stroke="none" stroke-width="1"/>
<polygon points="259.10,141.50 261.00,143.40 259.10,145.30 257.20,143.40" fill="#4f8fd8" stroke="none" stroke-width="1"/>
<polygon points="265.50,129.50 267.40,131.40 265.50,133.30 263.60,131.40" fill="#4f8fd8" stroke="none" stroke-width="1"/>
<polyline points="173.50,131.40 176.60,122.90 194.20,126.10 197.20,117.00 204.80,121.40 208.40,141.30 214.30,122.30 218.90,126.50 224.70,127.80 234.80,125.00 245.00,131.80 254.90,128.20 259.10,129.70 265.50,133.50" fill="none" stroke="#000" stroke-width="1.3" stroke-linejoin="round"/>
<polygon points="173.50,129.36 175.37,132.76 171.63,132.76" fill="#000" stroke="none" stroke-width="1"/>
<polygon points="176.60,120.86 178.47,124.26 174.73,124.26" fill="#000" stroke="none" stroke-width="1"/>
<polygon points="194.20,124.06 196.07,127.46 192.33,127.46" fill="#000" stroke="none" stroke-width="1"/>
<polygon points="197.20,114.96 199.07,118.36 195.33,118.36" fill="#000" stroke="none" stroke-width="1"/>
<polygon points="204.80,119.36 206.67,122.76 202.93,122.76" fill="#000" stroke="none" stroke-width="1"/>
<polygon points="208.40,139.26 210.27,142.66 206.53,142.66" fill="#000" stroke="none" stroke-width="1"/>
<polygon points="214.30,120.26 216.17,123.66 212.43,123.66" fill="#000" stroke="none" stroke-width="1"/>
<polygon points="218.90,124.46 220.77,127.86 217.03,127.86" fill="#000" stroke="none" stroke-width="1"/>
<polygon points="224.70,125.76 226.57,129.16 222.83,129.16" fill="#000" stroke="none" stroke-width="1"/>
<polygon points="234.80,122.96 236.67,126.36 232.93,126.36" fill="#000" stroke="none" stroke-width="1"/>
<polygon points="245.00,129.76 246.87,133.16 243.13,133.16" fill="#000" stroke="none" stroke-width="1"/>
<polygon points="254.90,126.16 256.77,129.56 253.03,129.56" fill="#000" stroke="none" stroke-width="1"/>
<polygon points="259.10,127.66 260.97,131.06 257.23,131.06" fill="#000" stroke="none" stroke-width="1"/>
<polygon points="265.50,131.46 267.37,134.86 263.63,134.86" fill="#000" stroke="none" stroke-width="1"/>
<polyline points="173.50,159.90 176.60,159.90 194.20,159.30 197.20,155.30 204.80,159.30 208.80,161.40 214.30,146.60 218.90,143.60 224.70,146.20 234.80,149.30 245.00,144.50 254.90,151.50 259.10,150.00 265.50,154.20" fill="none" stroke="#d8383c" stroke-width="1.3" stroke-linejoin="round"/>
<rect x="171.90" y="158.30" width="3.20" height="3.20" fill="#d02a30" stroke="none" stroke-width="1"/>
<rect x="175.00" y="158.30" width="3.20" height="3.20" fill="#d02a30" stroke="none" stroke-width="1"/>
<rect x="192.60" y="157.70" width="3.20" height="3.20" fill="#d02a30" stroke="none" stroke-width="1"/>
<rect x="195.60" y="153.70" width="3.20" height="3.20" fill="#d02a30" stroke="none" stroke-width="1"/>
<rect x="203.20" y="157.70" width="3.20" height="3.20" fill="#d02a30" stroke="none" stroke-width="1"/>
<rect x="207.20" y="159.80" width="3.20" height="3.20" fill="#d02a30" stroke="none" stroke-width="1"/>
<rect x="212.70" y="145.00" width="3.20" height="3.20" fill="#d02a30" stroke="none" stroke-width="1"/>
<rect x="217.30" y="142.00" width="3.20" height="3.20" fill="#d02a30" stroke="none" stroke-width="1"/>
<rect x="223.10" y="144.60" width="3.20" height="3.20" fill="#d02a30" stroke="none" stroke-width="1"/>
<rect x="233.20" y="147.70" width="3.20" height="3.20" fill="#d02a30" stroke="none" stroke-width="1"/>
<rect x="243.40" y="142.90" width="3.20" height="3.20" fill="#d02a30" stroke="none" stroke-width="1"/>
<rect x="253.30" y="149.90" width="3.20" height="3.20" fill="#d02a30" stroke="none" stroke-width="1"/>
<rect x="257.50" y="148.40" width="3.20" height="3.20" fill="#d02a30" stroke="none" stroke-width="1"/>
<rect x="263.90" y="152.60" width="3.20" height="3.20" fill="#d02a30" stroke="none" stroke-width="1"/>
<line x1="29.00" y1="179.50" x2="293.00" y2="179.50" stroke="#000" stroke-width="2.2"/>
<polyline points="286.80,175.70 293.60,179.50 286.80,183.30" fill="none" stroke="#000" stroke-width="2.31" stroke-linecap="round" stroke-linejoin="miter"/>
<text x="123.80" y="190.20" font-size="7.21" font-weight="bold" fill="#000" textLength="70.25" lengthAdjust="spacingAndGlyphs" stroke="#000" stroke-width="0.18">Days Post-Transplant</text>
<text x="299.00" y="12.30" font-size="12.6" font-weight="bold" fill="#000" textLength="8.67" lengthAdjust="spacingAndGlyphs" stroke="#000" stroke-width="0.32">D</text>
<line x1="316.90" y1="4.00" x2="316.90" y2="180.20" stroke="#000" stroke-width="2.0"/>
<polyline points="311.8,12.3 316.9,3.4 322,12.3" fill="none" stroke="#000" stroke-width="2" stroke-linecap="round" stroke-linejoin="round"/>
<text x="314.50" y="71.50" font-size="14.07" font-weight="bold" text-anchor="middle" fill="#000" transform="rotate(-90 314.50 71.50)" textLength="32.77" lengthAdjust="spacingAndGlyphs" stroke="#000" stroke-width="0.35">Ki-67</text>
<line x1="323.80" y1="181.70" x2="455.50" y2="181.70" stroke="#000" stroke-width="2.2"/>
<polyline points="448.5,177 456.5,181.7 448.5,186.4" fill="none" stroke="#000" stroke-width="2.2" stroke-linecap="round" stroke-linejoin="round"/>
<text x="382.10" y="199.20" font-size="14.38" font-weight="bold" fill="#000" textLength="35.78" lengthAdjust="spacingAndGlyphs" stroke="#000" stroke-width="0.35">BCI-2</text>
<text x="328.00" y="12.60" font-size="10.09" font-weight="bold" fill="#000" textLength="63.03" lengthAdjust="spacingAndGlyphs" stroke="#000" stroke-width="0.25">CD28+/CD95+</text>
<text x="404.80" y="12.60" font-size="10.09" font-weight="bold" fill="#000" textLength="60.62" lengthAdjust="spacingAndGlyphs" stroke="#000" stroke-width="0.25">CD28-/CD95+</text>
<text x="469.50" y="55.50" font-size="14.91" font-weight="bold" fill="#000" textLength="36.70" lengthAdjust="spacingAndGlyphs" stroke="#000" stroke-width="0.35">CD4+</text>
<text x="469.50" y="143.00" font-size="14.91" font-weight="bold" fill="#000" textLength="36.70" lengthAdjust="spacingAndGlyphs" stroke="#000" stroke-width="0.35">CD8+</text>
<rect x="328.75" y="15.10" width="55.00" height="60.00" fill="none" stroke="#9a9ac0" stroke-width="0.7"/>
<line x1="345.40" y1="15.10" x2="345.40" y2="75.10" stroke="#7a7ad4" stroke-width="0.8"/>
<line x1="328.75" y1="38.25" x2="383.75" y2="38.25" stroke="#7a7ad4" stroke-width="0.8"/>
<line x1="327.25" y1="72.10" x2="328.75" y2="72.10" stroke="#555" stroke-width="0.6"/>
<text x="326.55" y="73.10" font-size="2.6" text-anchor="end" fill="#666">10</text>
<line x1="327.25" y1="59.10" x2="328.75" y2="59.10" stroke="#555" stroke-width="0.6"/>
<text x="326.55" y="60.10" font-size="2.6" text-anchor="end" fill="#666">10</text>
<line x1="327.25" y1="46.10" x2="328.75" y2="46.10" stroke="#555" stroke-width="0.6"/>
<text x="326.55" y="47.10" font-size="2.6" text-anchor="end" fill="#666">10</text>
<line x1="327.25" y1="33.10" x2="328.75" y2="33.10" stroke="#555" stroke-width="0.6"/>
<text x="326.55" y="34.10" font-size="2.6" text-anchor="end" fill="#666">10</text>
<line x1="327.25" y1="20.10" x2="328.75" y2="20.10" stroke="#555" stroke-width="0.6"/>
<text x="326.55" y="21.10" font-size="2.6" text-anchor="end" fill="#666">10</text>
<line x1="332.75" y1="75.10" x2="332.75" y2="76.60" stroke="#555" stroke-width="0.6"/>
<text x="332.75" y="79.90" font-size="2.8" text-anchor="middle" fill="#555">10</text>
<line x1="344.50" y1="75.10" x2="344.50" y2="76.60" stroke="#555" stroke-width="0.6"/>
<text x="344.50" y="79.90" font-size="2.8" text-anchor="middle" fill="#555">10</text>
<line x1="356.25" y1="75.10" x2="356.25" y2="76.60" stroke="#555" stroke-width="0.6"/>
<text x="356.25" y="79.90" font-size="2.8" text-anchor="middle" fill="#555">10</text>
<line x1="368.00" y1="75.10" x2="368.00" y2="76.60" stroke="#555" stroke-width="0.6"/>
<text x="368.00" y="79.90" font-size="2.8" text-anchor="middle" fill="#555">10</text>
<line x1="379.75" y1="75.10" x2="379.75" y2="76.60" stroke="#555" stroke-width="0.6"/>
<text x="379.75" y="79.90" font-size="2.8" text-anchor="middle" fill="#555">10</text>
<text x="356.25" y="83.50" font-size="2.4" text-anchor="middle" fill="#888">APC-A: BCl2</text>
<text x="330.25" y="18.10" font-size="2.2" fill="#8888bb">Q1</text>
<text x="382.25" y="18.10" font-size="2.2" text-anchor="end" fill="#8888bb">Q2</text>
<text x="330.25" y="74.10" font-size="2.2" fill="#8888bb">Q3</text>
<text x="382.25" y="74.10" font-size="2.2" text-anchor="end" fill="#8888bb">Q4</text>
<g transform="translate(351.50 46.80) rotate(-45)">
<ellipse cx="0.00" cy="0.00" rx="14.00" ry="8.60" fill="#cfcfcf" stroke="#6a6a6a" stroke-width="0.45"/>
<ellipse cx="-1.00" cy="0.40" rx="12.20" ry="7.40" fill="#a0a0a0" stroke="#555" stroke-width="0.45"/>
<ellipse cx="-2.40" cy="0.90" rx="10.20" ry="6.20" fill="#6e6e6e" stroke="#444" stroke-width="0.45"/>
<ellipse cx="-3.60" cy="1.20" rx="8.20" ry="5.00" fill="#383838"/>
<ellipse cx="-4.60" cy="1.40" rx="6.20" ry="3.80" fill="#0c0c0c"/>
<ellipse cx="-3.60" cy="1.60" rx="1.00" ry="0.60" fill="#f4f4f4"/>
</g>
<path d="M341.1,31.4 C339,33 339.5,37 341,40 C342,44 340,50 338.5,55 C337.5,58 339,60.5 342,59.5 C345,58.5 347,59 350,58 M341.1,31.4 C342.5,31 343.5,33 344.5,35 C346,36 347,34 349,33 C352,32 356,32.5 358.5,34.5" fill="none" stroke="#6a6a6a" stroke-width="0.5"/>
<text x="333.10" y="27.60" font-size="9.4" font-weight="bold" fill="#000" stroke="#000" stroke-width="0.24">2%</text>
<text x="363.10" y="27.60" font-size="9.4" font-weight="bold" fill="#000" stroke="#000" stroke-width="0.24">3%</text>
<text x="332.50" y="71.40" font-size="9.4" font-weight="bold" fill="#000" stroke="#000" stroke-width="0.24">10%</text>
<text x="355.60" y="71.40" font-size="9.4" font-weight="bold" fill="#000" stroke="#000" stroke-width="0.24">85%</text>
<rect x="399.70" y="15.80" width="62.60" height="62.20" fill="none" stroke="#9a9ac0" stroke-width="0.7"/>
<line x1="418.60" y1="15.80" x2="418.60" y2="78.00" stroke="#7a7ad4" stroke-width="0.8"/>
<line x1="399.70" y1="39.90" x2="462.30" y2="39.90" stroke="#7a7ad4" stroke-width="0.8"/>
<line x1="398.20" y1="75.00" x2="399.70" y2="75.00" stroke="#555" stroke-width="0.6"/>
<text x="397.50" y="76.00" font-size="2.6" text-anchor="end" fill="#666">10</text>
<line x1="398.20" y1="61.45" x2="399.70" y2="61.45" stroke="#555" stroke-width="0.6"/>
<text x="397.50" y="62.45" font-size="2.6" text-anchor="end" fill="#666">10</text>
<line x1="398.20" y1="47.90" x2="399.70" y2="47.90" stroke="#555" stroke-width="0.6"/>
<text x="397.50" y="48.90" font-size="2.6" text-anchor="end" fill="#666">10</text>
<line x1="398.20" y1="34.35" x2="399.70" y2="34.35" stroke="#555" stroke-width="0.6"/>
<text x="397.50" y="35.35" font-size="2.6" text-anchor="end" fill="#666">10</text>
<line x1="398.20" y1="20.80" x2="399.70" y2="20.80" stroke="#555" stroke-width="0.6"/>
<text x="397.50" y="21.80" font-size="2.6" text-anchor="end" fill="#666">10</text>
<line x1="403.70" y1="78.00" x2="403.70" y2="79.50" stroke="#555" stroke-width="0.6"/>
<text x="403.70" y="82.80" font-size="2.8" text-anchor="middle" fill="#555">10</text>
<line x1="417.35" y1="78.00" x2="417.35" y2="79.50" stroke="#555" stroke-width="0.6"/>
<text x="417.35" y="82.80" font-size="2.8" text-anchor="middle" fill="#555">10</text>
<line x1="431.00" y1="78.00" x2="431.00" y2="79.50" stroke="#555" stroke-width="0.6"/>
<text x="431.00" y="82.80" font-size="2.8" text-anchor="middle" fill="#555">10</text>
<line x1="444.65" y1="78.00" x2="444.65" y2="79.50" stroke="#555" stroke-width="0.6"/>
<text x="444.65" y="82.80" font-size="2.8" text-anchor="middle" fill="#555">10</text>
<line x1="458.30" y1="78.00" x2="458.30" y2="79.50" stroke="#555" stroke-width="0.6"/>
<text x="458.30" y="82.80" font-size="2.8" text-anchor="middle" fill="#555">10</text>
<text x="431.00" y="86.40" font-size="2.4" text-anchor="middle" fill="#888">APC-A: BCl2</text>
<text x="401.20" y="18.80" font-size="2.2" fill="#8888bb">Q1</text>
<text x="460.80" y="18.80" font-size="2.2" text-anchor="end" fill="#8888bb">Q2</text>
<text x="401.20" y="77.00" font-size="2.2" fill="#8888bb">Q3</text>
<text x="460.80" y="77.00" font-size="2.2" text-anchor="end" fill="#8888bb">Q4</text>
<g transform="translate(425.40 49.60) rotate(-38)">
<ellipse cx="0.00" cy="0.00" rx="14.00" ry="9.60" fill="#dadada" stroke="#666" stroke-width="0.45"/>
<ellipse cx="0.00" cy="0.50" rx="12.30" ry="8.20" fill="#acacac" stroke="#555" stroke-width="0.45"/>
<ellipse cx="-0.40" cy="1.00" rx="10.60" ry="6.80" fill="#767676" stroke="#444" stroke-width="0.45"/>
<ellipse cx="-0.70" cy="1.40" rx="9.00" ry="5.40" fill="#303030"/>
<ellipse cx="-1.00" cy="1.80" rx="7.20" ry="3.90" fill="#080808"/>
<ellipse cx="-1.20" cy="2.60" rx="1.60" ry="0.60" fill="#dcdcdc"/>
</g>
<path d="M412.4,56.2 C411,50 414,42 418,38 C420,36 424,37 426,37.5 C428,36 431,35.5 433,37.5" fill="none" stroke="#6a6a6a" stroke-width="0.5"/>
<text x="406.40" y="30.20" font-size="9.4" font-weight="bold" fill="#000" stroke="#000" stroke-width="0.24">1%</text>
<text x="444.10" y="30.20" font-size="9.4" font-weight="bold" fill="#000" stroke="#000" stroke-width="0.24">2%</text>
<text x="405.10" y="73.20" font-size="9.4" font-weight="bold" fill="#000" stroke="#000" stroke-width="0.24">6%</text>
<text x="439.40" y="73.20" font-size="9.4" font-weight="bold" fill="#000" stroke="#000" stroke-width="0.24">91%</text>
<rect x="327.00" y="104.60" width="58.40" height="64.10" fill="none" stroke="#9a9ac0" stroke-width="0.7"/>
<line x1="349.50" y1="104.60" x2="349.50" y2="168.70" stroke="#7a7ad4" stroke-width="0.8"/>
<line x1="327.00" y1="130.30" x2="385.40" y2="130.30" stroke="#7a7ad4" stroke-width="0.8"/>
<line x1="325.50" y1="165.70" x2="327.00" y2="165.70" stroke="#555" stroke-width="0.6"/>
<text x="324.80" y="166.70" font-size="2.6" text-anchor="end" fill="#666">10</text>
<line x1="325.50" y1="151.67" x2="327.00" y2="151.67" stroke="#555" stroke-width="0.6"/>
<text x="324.80" y="152.67" font-size="2.6" text-anchor="end" fill="#666">10</text>
<line x1="325.50" y1="137.65" x2="327.00" y2="137.65" stroke="#555" stroke-width="0.6"/>
<text x="324.80" y="138.65" font-size="2.6" text-anchor="end" fill="#666">10</text>
<line x1="325.50" y1="123.62" x2="327.00" y2="123.62" stroke="#555" stroke-width="0.6"/>
<text x="324.80" y="124.62" font-size="2.6" text-anchor="end" fill="#666">10</text>
<line x1="325.50" y1="109.60" x2="327.00" y2="109.60" stroke="#555" stroke-width="0.6"/>
<text x="324.80" y="110.60" font-size="2.6" text-anchor="end" fill="#666">10</text>
<line x1="331.00" y1="168.70" x2="331.00" y2="170.20" stroke="#555" stroke-width="0.6"/>
<text x="331.00" y="173.50" font-size="2.8" text-anchor="middle" fill="#555">10</text>
<line x1="343.60" y1="168.70" x2="343.60" y2="170.20" stroke="#555" stroke-width="0.6"/>
<text x="343.60" y="173.50" font-size="2.8" text-anchor="middle" fill="#555">10</text>
<line x1="356.20" y1="168.70" x2="356.20" y2="170.20" stroke="#555" stroke-width="0.6"/>
<text x="356.20" y="173.50" font-size="2.8" text-anchor="middle" fill="#555">10</text>
<line x1="368.80" y1="168.70" x2="368.80" y2="170.20" stroke="#555" stroke-width="0.6"/>
<text x="368.80" y="173.50" font-size="2.8" text-anchor="middle" fill="#555">10</text>
<line x1="381.40" y1="168.70" x2="381.40" y2="170.20" stroke="#555" stroke-width="0.6"/>
<text x="381.40" y="173.50" font-size="2.8" text-anchor="middle" fill="#555">10</text>
<text x="356.20" y="177.10" font-size="2.4" text-anchor="middle" fill="#888">APC-A: BCl2</text>
<text x="328.50" y="107.60" font-size="2.2" fill="#8888bb">Q1</text>
<text x="383.90" y="107.60" font-size="2.2" text-anchor="end" fill="#8888bb">Q2</text>
<text x="328.50" y="167.70" font-size="2.2" fill="#8888bb">Q3</text>
<text x="383.90" y="167.70" font-size="2.2" text-anchor="end" fill="#8888bb">Q4</text>
<path d="M341.4,119.9 C338.5,121 339,126 340.5,131 C341,134 340,137 340.5,140 M341.4,119.9 C344,118 347,120 348.5,122 C352,123 355,125 357,127.5 C359,128 361.5,129 362.8,131 C364,134 364,138 363.5,142 M343.5,131 C344,126 347,123 350,123.5 C353,124 356,127 358,129 C360,130 361.5,132 361.8,135 M345.5,131 C346.5,128 349,126 352,126.5 C355,127.5 357,129.5 358.5,131.5" fill="none" stroke="#6a6a6a" stroke-width="0.5"/>
<ellipse cx="352.2" cy="140.8" rx="11.8" ry="11.0" fill="#c4c4c4" stroke="#777" stroke-width="0.45"/>
<ellipse cx="353.0" cy="141.0" rx="10.0" ry="9.8" fill="#969696" stroke="#555" stroke-width="0.45"/>
<ellipse cx="353.4" cy="141.5" rx="8.4" ry="8.6" fill="#626262" stroke="#444" stroke-width="0.45"/>
<ellipse cx="353.0" cy="142.6" rx="6.6" ry="7.2" fill="#3c3c3c"/>
<path d="M346.5,145 C347,150 352,151.5 355.5,149.5 C358,148 358.5,145 357.5,143 C355,146 350,147 346.5,145 Z" fill="#050505"/>
<ellipse cx="350.2" cy="147.2" rx="3.2" ry="2.4" fill="#080808"/>
<path d="M350.2,146.8 L353.2,142.2 L354.2,143.0 L351.2,147.6 Z" fill="#f4f4f4"/>
<ellipse cx="355.5" cy="137.5" rx="1.3" ry="2.2" fill="#ddd" opacity="0.8"/>
<text x="330.50" y="117.70" font-size="9.4" font-weight="bold" fill="#000" stroke="#000" stroke-width="0.24">4%</text>
<text x="366.50" y="117.70" font-size="9.4" font-weight="bold" fill="#000" stroke="#000" stroke-width="0.24">5%</text>
<text x="331.20" y="163.40" font-size="9.4" font-weight="bold" fill="#000" stroke="#000" stroke-width="0.24">15%</text>
<text x="363.60" y="163.40" font-size="9.4" font-weight="bold" fill="#000" stroke="#000" stroke-width="0.24">76%</text>
<rect x="405.50" y="104.50" width="56.40" height="61.90" fill="none" stroke="#9a9ac0" stroke-width="0.7"/>
<line x1="426.30" y1="104.50" x2="426.30" y2="166.40" stroke="#7a7ad4" stroke-width="0.8"/>
<line x1="405.50" y1="131.00" x2="461.90" y2="131.00" stroke="#7a7ad4" stroke-width="0.8"/>
<line x1="404.00" y1="163.40" x2="405.50" y2="163.40" stroke="#555" stroke-width="0.6"/>
<text x="403.30" y="164.40" font-size="2.6" text-anchor="end" fill="#666">10</text>
<line x1="404.00" y1="149.93" x2="405.50" y2="149.93" stroke="#555" stroke-width="0.6"/>
<text x="403.30" y="150.93" font-size="2.6" text-anchor="end" fill="#666">10</text>
<line x1="404.00" y1="136.45" x2="405.50" y2="136.45" stroke="#555" stroke-width="0.6"/>
<text x="403.30" y="137.45" font-size="2.6" text-anchor="end" fill="#666">10</text>
<line x1="404.00" y1="122.97" x2="405.50" y2="122.97" stroke="#555" stroke-width="0.6"/>
<text x="403.30" y="123.97" font-size="2.6" text-anchor="end" fill="#666">10</text>
<line x1="404.00" y1="109.50" x2="405.50" y2="109.50" stroke="#555" stroke-width="0.6"/>
<text x="403.30" y="110.50" font-size="2.6" text-anchor="end" fill="#666">10</text>
<line x1="409.50" y1="166.40" x2="409.50" y2="167.90" stroke="#555" stroke-width="0.6"/>
<text x="409.50" y="171.20" font-size="2.8" text-anchor="middle" fill="#555">10</text>
<line x1="421.60" y1="166.40" x2="421.60" y2="167.90" stroke="#555" stroke-width="0.6"/>
<text x="421.60" y="171.20" font-size="2.8" text-anchor="middle" fill="#555">10</text>
<line x1="433.70" y1="166.40" x2="433.70" y2="167.90" stroke="#555" stroke-width="0.6"/>
<text x="433.70" y="171.20" font-size="2.8" text-anchor="middle" fill="#555">10</text>
<line x1="445.80" y1="166.40" x2="445.80" y2="167.90" stroke="#555" stroke-width="0.6"/>
<text x="445.80" y="171.20" font-size="2.8" text-anchor="middle" fill="#555">10</text>
<line x1="457.90" y1="166.40" x2="457.90" y2="167.90" stroke="#555" stroke-width="0.6"/>
<text x="457.90" y="171.20" font-size="2.8" text-anchor="middle" fill="#555">10</text>
<text x="433.70" y="174.80" font-size="2.4" text-anchor="middle" fill="#888">APC-A: BCl2</text>
<text x="407.00" y="107.50" font-size="2.2" fill="#8888bb">Q1</text>
<text x="460.40" y="107.50" font-size="2.2" text-anchor="end" fill="#8888bb">Q2</text>
<text x="407.00" y="165.40" font-size="2.2" fill="#8888bb">Q3</text>
<text x="460.40" y="165.40" font-size="2.2" text-anchor="end" fill="#8888bb">Q4</text>
<ellipse cx="429.3" cy="131.5" rx="11.4" ry="16.6" fill="#bdbdbd" stroke="#888" stroke-width="0.45"/>
<ellipse cx="429.3" cy="131.6" rx="9.8" ry="14.8" fill="#8c8c8c" stroke="#666" stroke-width="0.45"/>
<ellipse cx="429.0" cy="131.8" rx="8.2" ry="13.0" fill="#5c5c5c" stroke="#555" stroke-width="0.45"/>
<ellipse cx="428.8" cy="132.0" rx="6.6" ry="11.0" fill="#3e3e3e"/>
<path d="M432.5,121.5 C430,118.5 425,119 423.5,122.5 C422,126 423.5,129.5 426,131 C428.5,132.5 428,135 427,137 C426,140 427,144.5 430.5,145 C434,145.5 435.5,141 434.5,137.5" fill="none" stroke="#050505" stroke-width="3.0" stroke-linecap="round"/>
<ellipse cx="430.6" cy="139.5" rx="3.8" ry="4.6" fill="#050505"/>
<ellipse cx="431.1" cy="138.4" rx="1.2" ry="2.0" fill="#fff"/>
<ellipse cx="427.8" cy="125.2" rx="1.6" ry="2.0" fill="#9a9a9a"/>
<path d="M417.4,127.8 C416,130 414,131.5 414.1,133.7 C414.5,137 415.5,140 414.8,144 C415.5,147 418.5,146.5 420.4,146.3" fill="none" stroke="#6a6a6a" stroke-width="0.5"/>
<text x="407.20" y="105.20" font-size="9.4" font-weight="bold" fill="#000" stroke="#000" stroke-width="0.24">16%</text>
<text x="438.50" y="105.20" font-size="9.4" font-weight="bold" fill="#000" stroke="#000" stroke-width="0.24">25%</text>
<text x="408.60" y="163.60" font-size="9.4" font-weight="bold" fill="#000" stroke="#000" stroke-width="0.24">19%</text>
<text x="438.50" y="163.60" font-size="9.4" font-weight="bold" fill="#000" stroke="#000" stroke-width="0.24">40%</text>
<text x="1.30" y="196.50" font-size="11.34" font-weight="bold" fill="#000" textLength="7.80" lengthAdjust="spacingAndGlyphs" stroke="#000" stroke-width="0.28">B</text>
<line x1="11.70" y1="199.40" x2="11.70" y2="322.00" stroke="#000" stroke-width="1.2"/>
<polyline points="9.30,203.00 11.70,198.80 14.10,203.00" fill="none" stroke="#000" stroke-width="1.26" stroke-linecap="round" stroke-linejoin="miter"/>
<text x="8.60" y="256.60" font-size="6.54" font-weight="bold" text-anchor="middle" fill="#000" transform="rotate(-90 8.60 256.60)" textLength="19.39" lengthAdjust="spacingAndGlyphs" stroke="#000" stroke-width="0.16">CD127</text>
<rect x="14.90" y="199.50" width="56.20" height="60.00" fill="none" stroke="#2a2a2a" stroke-width="1.4"/>
<rect x="14.60" y="261.20" width="55.60" height="59.80" fill="none" stroke="#2a2a2a" stroke-width="1.4"/>
<rect x="72.20" y="199.30" width="54.60" height="59.30" fill="none" stroke="#9a9a9a" stroke-width="0.8"/>
<line x1="72.20" y1="258.60" x2="126.80" y2="258.60" stroke="#b0b0b0" stroke-width="1.8"/>
<rect x="72.40" y="260.90" width="54.60" height="61.10" fill="none" stroke="#9a9a9a" stroke-width="0.8"/>
<line x1="72.40" y1="261.20" x2="127.00" y2="261.20" stroke="#b0b0b0" stroke-width="1.6"/>
<line x1="72.40" y1="321.80" x2="127.00" y2="321.80" stroke="#b0b0b0" stroke-width="1.2"/>
<text x="19.60" y="207.80" font-size="6.94" font-weight="bold" fill="#000" textLength="44.81" lengthAdjust="spacingAndGlyphs" stroke="#000" stroke-width="0.17">Pre-transplant</text>
<text x="19.80" y="269.10" font-size="6.62" font-weight="bold" fill="#000" textLength="23.99" lengthAdjust="spacingAndGlyphs" stroke="#000" stroke-width="0.17">Day +43</text>
<circle cx="49.70" cy="234.01" r="0.5" fill="#7da0e8" opacity="0.55"/>
<circle cx="49.72" cy="250.92" r="0.5" fill="#7da0e8" opacity="0.55"/>
<circle cx="50.32" cy="235.43" r="0.5" fill="#7da0e8" opacity="0.55"/>
<circle cx="49.01" cy="225.92" r="0.5" fill="#9ab4ee" opacity="0.55"/>
<circle cx="50.23" cy="225.38" r="0.5" fill="#5a86e0" opacity="0.55"/>
<circle cx="49.31" cy="227.21" r="0.5" fill="#7da0e8" opacity="0.55"/>
<circle cx="46.17" cy="244.44" r="0.5" fill="#5a86e0" opacity="0.55"/>
<circle cx="46.91" cy="236.49" r="0.5" fill="#7da0e8" opacity="0.55"/>
<circle cx="49.33" cy="224.58" r="0.5" fill="#7da0e8" opacity="0.55"/>
<circle cx="45.46" cy="241.38" r="0.5" fill="#5a86e0" opacity="0.55"/>
<circle cx="48.19" cy="233.49" r="0.5" fill="#5a86e0" opacity="0.55"/>
<circle cx="45.58" cy="242.42" r="0.5" fill="#7da0e8" opacity="0.55"/>
<circle cx="46.52" cy="235.66" r="0.5" fill="#7da0e8" opacity="0.55"/>
<circle cx="46.72" cy="244.05" r="0.5" fill="#9ab4ee" opacity="0.55"/>
<circle cx="44.87" cy="246.13" r="0.5" fill="#5a86e0" opacity="0.55"/>
<circle cx="47.47" cy="254.40" r="0.5" fill="#9ab4ee" opacity="0.55"/>
<circle cx="48.65" cy="233.19" r="0.5" fill="#7da0e8" opacity="0.55"/>
<circle cx="44.04" cy="225.78" r="0.5" fill="#9ab4ee" opacity="0.55"/>
<circle cx="50.13" cy="240.86" r="0.5" fill="#9ab4ee" opacity="0.55"/>
<circle cx="44.04" cy="243.70" r="0.5" fill="#7da0e8" opacity="0.55"/>
<circle cx="44.04" cy="227.01" r="0.5" fill="#7da0e8" opacity="0.55"/>
<circle cx="48.62" cy="254.73" r="0.5" fill="#9ab4ee" opacity="0.55"/>
<circle cx="45.81" cy="224.33" r="0.5" fill="#5a86e0" opacity="0.55"/>
<circle cx="42.86" cy="249.83" r="0.5" fill="#9ab4ee" opacity="0.55"/>
<circle cx="45.68" cy="234.56" r="0.5" fill="#9ab4ee" opacity="0.55"/>
<circle cx="50.40" cy="225.34" r="0.5" fill="#7da0e8" opacity="0.55"/>
<circle cx="42.65" cy="255.12" r="0.5" fill="#7da0e8" opacity="0.55"/>
<circle cx="47.43" cy="247.86" r="0.5" fill="#9ab4ee" opacity="0.55"/>
<circle cx="51.78" cy="245.00" r="0.5" fill="#9ab4ee" opacity="0.55"/>
<circle cx="46.62" cy="247.37" r="0.5" fill="#5a86e0" opacity="0.55"/>
<circle cx="49.73" cy="234.80" r="0.5" fill="#5a86e0" opacity="0.55"/>
<circle cx="46.96" cy="226.98" r="0.5" fill="#7da0e8" opacity="0.55"/>
<circle cx="46.69" cy="230.42" r="0.5" fill="#9ab4ee" opacity="0.55"/>
<circle cx="51.53" cy="236.29" r="0.5" fill="#9ab4ee" opacity="0.55"/>
<circle cx="44.80" cy="225.74" r="0.5" fill="#7da0e8" opacity="0.55"/>
<circle cx="47.69" cy="250.86" r="0.5" fill="#5a86e0" opacity="0.55"/>
<circle cx="45.46" cy="232.47" r="0.5" fill="#9ab4ee" opacity="0.55"/>
<circle cx="47.67" cy="255.56" r="0.5" fill="#7da0e8" opacity="0.55"/>
<circle cx="50.12" cy="225.82" r="0.5" fill="#7da0e8" opacity="0.55"/>
<circle cx="50.33" cy="239.49" r="0.5" fill="#5a86e0" opacity="0.55"/>
<circle cx="47.45" cy="229.20" r="0.5" fill="#5a86e0" opacity="0.55"/>
<circle cx="48.85" cy="235.55" r="0.5" fill="#5a86e0" opacity="0.55"/>
<circle cx="51.14" cy="233.83" r="0.5" fill="#5a86e0" opacity="0.55"/>
<circle cx="50.59" cy="245.27" r="0.5" fill="#5a86e0" opacity="0.55"/>
<circle cx="51.61" cy="224.84" r="0.5" fill="#5a86e0" opacity="0.55"/>
<circle cx="44.02" cy="250.13" r="0.5" fill="#9ab4ee" opacity="0.55"/>
<circle cx="45.03" cy="236.53" r="0.5" fill="#9ab4ee" opacity="0.55"/>
<circle cx="49.78" cy="225.12" r="0.5" fill="#7da0e8" opacity="0.55"/>
<circle cx="45.21" cy="256.48" r="0.5" fill="#5a86e0" opacity="0.55"/>
<circle cx="48.42" cy="224.79" r="0.5" fill="#7da0e8" opacity="0.55"/>
<circle cx="40.91" cy="242.27" r="0.5" fill="#5a86e0" opacity="0.55"/>
<circle cx="46.56" cy="223.87" r="0.5" fill="#7da0e8" opacity="0.55"/>
<circle cx="48.19" cy="243.88" r="0.5" fill="#9ab4ee" opacity="0.55"/>
<circle cx="48.62" cy="243.48" r="0.5" fill="#9ab4ee" opacity="0.55"/>
<circle cx="52.62" cy="227.18" r="0.5" fill="#9ab4ee" opacity="0.55"/>
<circle cx="40.57" cy="239.33" r="0.5" fill="#9ab4ee" opacity="0.55"/>
<circle cx="49.81" cy="225.92" r="0.5" fill="#9ab4ee" opacity="0.55"/>
<circle cx="48.66" cy="239.27" r="0.5" fill="#5a86e0" opacity="0.55"/>
<circle cx="54.09" cy="228.49" r="0.5" fill="#5a86e0" opacity="0.55"/>
<circle cx="48.36" cy="235.30" r="0.5" fill="#5a86e0" opacity="0.55"/>
<circle cx="50.27" cy="241.47" r="0.5" fill="#5a86e0" opacity="0.55"/>
<circle cx="47.12" cy="252.35" r="0.5" fill="#5a86e0" opacity="0.55"/>
<circle cx="40.97" cy="251.75" r="0.5" fill="#9ab4ee" opacity="0.55"/>
<circle cx="46.08" cy="249.25" r="0.5" fill="#5a86e0" opacity="0.55"/>
<circle cx="43.43" cy="241.41" r="0.5" fill="#5a86e0" opacity="0.55"/>
<circle cx="46.61" cy="250.59" r="0.5" fill="#7da0e8" opacity="0.55"/>
<circle cx="48.46" cy="250.41" r="0.5" fill="#7da0e8" opacity="0.55"/>
<circle cx="43.83" cy="229.80" r="0.5" fill="#9ab4ee" opacity="0.55"/>
<circle cx="48.05" cy="235.09" r="0.5" fill="#9ab4ee" opacity="0.55"/>
<circle cx="47.36" cy="239.06" r="0.5" fill="#7da0e8" opacity="0.55"/>
<circle cx="49.60" cy="246.55" r="0.5" fill="#5a86e0" opacity="0.55"/>
<circle cx="45.61" cy="256.59" r="0.5" fill="#9ab4ee" opacity="0.55"/>
<circle cx="50.26" cy="225.74" r="0.5" fill="#9ab4ee" opacity="0.55"/>
<circle cx="49.46" cy="229.95" r="0.5" fill="#5a86e0" opacity="0.55"/>
<circle cx="46.25" cy="256.50" r="0.5" fill="#5a86e0" opacity="0.55"/>
<circle cx="47.36" cy="234.70" r="0.5" fill="#5a86e0" opacity="0.55"/>
<circle cx="44.87" cy="225.88" r="0.5" fill="#5a86e0" opacity="0.55"/>
<circle cx="41.95" cy="248.50" r="0.5" fill="#9ab4ee" opacity="0.55"/>
<circle cx="43.16" cy="253.23" r="0.5" fill="#7da0e8" opacity="0.55"/>
<circle cx="48.18" cy="250.23" r="0.5" fill="#5a86e0" opacity="0.55"/>
<circle cx="42.25" cy="236.46" r="0.5" fill="#5a86e0" opacity="0.55"/>
<circle cx="51.44" cy="228.40" r="0.5" fill="#7da0e8" opacity="0.55"/>
<circle cx="45.55" cy="223.94" r="0.5" fill="#5a86e0" opacity="0.55"/>
<circle cx="46.23" cy="227.97" r="0.5" fill="#5a86e0" opacity="0.55"/>
<circle cx="45.05" cy="256.33" r="0.5" fill="#5a86e0" opacity="0.55"/>
<circle cx="45.10" cy="241.64" r="0.5" fill="#7da0e8" opacity="0.55"/>
<circle cx="51.73" cy="223.48" r="0.5" fill="#5a86e0" opacity="0.55"/>
<circle cx="46.09" cy="248.48" r="0.5" fill="#7da0e8" opacity="0.55"/>
<circle cx="50.68" cy="237.75" r="0.5" fill="#7da0e8" opacity="0.55"/>
<circle cx="44.49" cy="223.95" r="0.5" fill="#7da0e8" opacity="0.55"/>
<circle cx="47.76" cy="232.96" r="0.5" fill="#9ab4ee" opacity="0.55"/>
<circle cx="50.57" cy="241.51" r="0.5" fill="#7da0e8" opacity="0.55"/>
<circle cx="47.60" cy="225.07" r="0.5" fill="#5a86e0" opacity="0.55"/>
<circle cx="41.52" cy="242.83" r="0.5" fill="#5a86e0" opacity="0.55"/>
<circle cx="50.00" cy="237.30" r="0.5" fill="#5a86e0" opacity="0.55"/>
<circle cx="46.28" cy="228.16" r="0.5" fill="#5a86e0" opacity="0.55"/>
<circle cx="46.48" cy="223.64" r="0.5" fill="#7da0e8" opacity="0.55"/>
<circle cx="47.34" cy="249.39" r="0.5" fill="#7da0e8" opacity="0.55"/>
<circle cx="43.64" cy="228.86" r="0.5" fill="#5a86e0" opacity="0.55"/>
<circle cx="48.64" cy="225.10" r="0.5" fill="#5a86e0" opacity="0.55"/>
<circle cx="42.89" cy="240.62" r="0.5" fill="#7da0e8" opacity="0.55"/>
<circle cx="44.99" cy="253.03" r="0.5" fill="#7da0e8" opacity="0.55"/>
<circle cx="46.87" cy="231.45" r="0.5" fill="#5a86e0" opacity="0.55"/>
<circle cx="51.69" cy="238.37" r="0.5" fill="#7da0e8" opacity="0.55"/>
<circle cx="49.16" cy="248.84" r="0.5" fill="#5a86e0" opacity="0.55"/>
<circle cx="44.92" cy="256.09" r="0.5" fill="#5a86e0" opacity="0.55"/>
<circle cx="46.17" cy="240.41" r="0.5" fill="#5a86e0" opacity="0.55"/>
<circle cx="44.01" cy="250.45" r="0.5" fill="#5a86e0" opacity="0.55"/>
<circle cx="44.78" cy="255.01" r="0.5" fill="#9ab4ee" opacity="0.55"/>
<circle cx="41.43" cy="254.37" r="0.5" fill="#7da0e8" opacity="0.55"/>
<circle cx="47.48" cy="251.56" r="0.5" fill="#9ab4ee" opacity="0.55"/>
<circle cx="48.52" cy="233.74" r="0.5" fill="#5a86e0" opacity="0.55"/>
<circle cx="51.11" cy="231.18" r="0.5" fill="#7da0e8" opacity="0.55"/>
<circle cx="48.24" cy="253.50" r="0.5" fill="#7da0e8" opacity="0.55"/>
<circle cx="44.91" cy="254.94" r="0.5" fill="#9ab4ee" opacity="0.55"/>
<circle cx="44.60" cy="253.02" r="0.5" fill="#9ab4ee" opacity="0.55"/>
<circle cx="50.18" cy="230.47" r="0.5" fill="#9ab4ee" opacity="0.55"/>
<circle cx="47.00" cy="228.54" r="0.5" fill="#5a86e0" opacity="0.55"/>
<circle cx="48.09" cy="251.30" r="0.5" fill="#5a86e0" opacity="0.55"/>
<circle cx="49.71" cy="236.73" r="0.5" fill="#9ab4ee" opacity="0.55"/>
<circle cx="45.98" cy="229.66" r="0.5" fill="#7da0e8" opacity="0.55"/>
<circle cx="51.26" cy="234.49" r="0.5" fill="#9ab4ee" opacity="0.55"/>
<circle cx="49.62" cy="237.98" r="0.5" fill="#5a86e0" opacity="0.55"/>
<circle cx="47.81" cy="233.05" r="0.5" fill="#7da0e8" opacity="0.55"/>
<circle cx="49.49" cy="226.84" r="0.5" fill="#7da0e8" opacity="0.55"/>
<circle cx="46.99" cy="225.86" r="0.5" fill="#9ab4ee" opacity="0.55"/>
<circle cx="48.36" cy="224.35" r="0.5" fill="#7da0e8" opacity="0.55"/>
<circle cx="44.63" cy="250.87" r="0.5" fill="#5a86e0" opacity="0.55"/>
<circle cx="46.58" cy="250.85" r="0.5" fill="#5a86e0" opacity="0.55"/>
<circle cx="48.56" cy="242.40" r="0.5" fill="#5a86e0" opacity="0.55"/>
<circle cx="46.65" cy="234.12" r="0.5" fill="#7da0e8" opacity="0.55"/>
<circle cx="51.91" cy="237.46" r="0.5" fill="#7da0e8" opacity="0.55"/>
<circle cx="48.71" cy="232.14" r="0.5" fill="#9ab4ee" opacity="0.55"/>
<circle cx="48.03" cy="225.85" r="0.5" fill="#7da0e8" opacity="0.55"/>
<circle cx="49.80" cy="225.27" r="0.5" fill="#9ab4ee" opacity="0.55"/>
<circle cx="44.19" cy="256.81" r="0.5" fill="#9ab4ee" opacity="0.55"/>
<circle cx="46.32" cy="254.51" r="0.5" fill="#5a86e0" opacity="0.55"/>
<circle cx="48.20" cy="247.12" r="0.5" fill="#7da0e8" opacity="0.55"/>
<circle cx="46.28" cy="255.95" r="0.5" fill="#9ab4ee" opacity="0.55"/>
<circle cx="48.62" cy="244.37" r="0.5" fill="#5a86e0" opacity="0.55"/>
<circle cx="46.00" cy="248.82" r="0.5" fill="#7da0e8" opacity="0.55"/>
<circle cx="50.56" cy="232.20" r="0.5" fill="#7da0e8" opacity="0.55"/>
<circle cx="46.85" cy="256.81" r="0.5" fill="#5a86e0" opacity="0.55"/>
<circle cx="47.23" cy="241.74" r="0.5" fill="#7da0e8" opacity="0.55"/>
<circle cx="47.25" cy="240.48" r="0.5" fill="#5a86e0" opacity="0.55"/>
<circle cx="49.49" cy="250.84" r="0.5" fill="#9ab4ee" opacity="0.55"/>
<circle cx="41.71" cy="245.32" r="0.5" fill="#5a86e0" opacity="0.55"/>
<circle cx="45.98" cy="233.46" r="0.5" fill="#7da0e8" opacity="0.55"/>
<circle cx="43.68" cy="256.40" r="0.5" fill="#5a86e0" opacity="0.55"/>
<circle cx="50.91" cy="247.78" r="0.5" fill="#7da0e8" opacity="0.55"/>
<circle cx="46.86" cy="236.76" r="0.5" fill="#7da0e8" opacity="0.55"/>
<circle cx="48.74" cy="223.48" r="0.5" fill="#5a86e0" opacity="0.55"/>
<circle cx="46.74" cy="248.19" r="0.5" fill="#7da0e8" opacity="0.55"/>
<circle cx="48.47" cy="245.62" r="0.5" fill="#9ab4ee" opacity="0.55"/>
<circle cx="45.56" cy="252.60" r="0.5" fill="#7da0e8" opacity="0.55"/>
<circle cx="45.01" cy="246.55" r="0.5" fill="#7da0e8" opacity="0.55"/>
<circle cx="48.82" cy="238.62" r="0.5" fill="#9ab4ee" opacity="0.55"/>
<circle cx="49.79" cy="235.38" r="0.5" fill="#9ab4ee" opacity="0.55"/>
<circle cx="44.53" cy="256.07" r="0.5" fill="#9ab4ee" opacity="0.55"/>
<circle cx="47.11" cy="230.41" r="0.5" fill="#7da0e8" opacity="0.55"/>
<path d="M48.5,226 C51.5,228 52,238 50.5,244 C49.5,250 49.5,255 46.5,256 C43,256.5 42.5,251 43.5,247 C44.5,242 44.5,236 45,231 C45.5,227 46.5,225.5 48.5,226 Z" fill="#6a9ae8" opacity="0.85"/>
<path d="M48.6,228 C50.8,230 51,237 49.8,242 C49,246 48.5,250 46.8,252.5 C45,253.5 44.5,250 45.3,246 C46,242 46,236 46.5,231 C47,228.5 47.5,227.5 48.6,228 Z" fill="#3a82e0" opacity="0.9"/>
<ellipse cx="46.2" cy="249" rx="1.8" ry="2.4" fill="#2a62c8" opacity="0.9"/>
<ellipse cx="48.4" cy="234.5" rx="2.1" ry="6.0" fill="#30c0b8"/>
<ellipse cx="48.5" cy="234" rx="1.4" ry="4.0" fill="#6ccc48"/>
<ellipse cx="48.6" cy="234.2" rx="0.7" ry="2.0" fill="#d8d040"/>
<circle cx="48.44" cy="293.03" r="0.5" fill="#9a9ae8" opacity="0.55"/>
<circle cx="44.71" cy="299.47" r="0.5" fill="#8a8ae0" opacity="0.55"/>
<circle cx="45.20" cy="292.99" r="0.5" fill="#5a70d0" opacity="0.55"/>
<circle cx="46.18" cy="290.71" r="0.5" fill="#b0b0f0" opacity="0.55"/>
<circle cx="46.12" cy="293.25" r="0.5" fill="#5a70d0" opacity="0.55"/>
<circle cx="44.64" cy="291.62" r="0.5" fill="#b0b0f0" opacity="0.55"/>
<circle cx="46.55" cy="290.92" r="0.5" fill="#b0b0f0" opacity="0.55"/>
<circle cx="43.45" cy="295.56" r="0.5" fill="#9a9ae8" opacity="0.55"/>
<circle cx="48.34" cy="298.83" r="0.5" fill="#8a8ae0" opacity="0.55"/>
<circle cx="50.98" cy="295.32" r="0.5" fill="#b0b0f0" opacity="0.55"/>
<circle cx="42.10" cy="287.75" r="0.5" fill="#b0b0f0" opacity="0.55"/>
<circle cx="47.84" cy="297.21" r="0.5" fill="#b0b0f0" opacity="0.55"/>
<circle cx="40.51" cy="289.56" r="0.5" fill="#6a6ad8" opacity="0.55"/>
<circle cx="47.34" cy="287.71" r="0.5" fill="#8a8ae0" opacity="0.55"/>
<circle cx="46.25" cy="293.67" r="0.5" fill="#5a70d0" opacity="0.55"/>
<circle cx="48.32" cy="291.90" r="0.5" fill="#9a9ae8" opacity="0.55"/>
<circle cx="41.56" cy="290.73" r="0.5" fill="#b0b0f0" opacity="0.55"/>
<circle cx="44.03" cy="288.27" r="0.5" fill="#6a6ad8" opacity="0.55"/>
<circle cx="44.40" cy="293.46" r="0.5" fill="#b0b0f0" opacity="0.55"/>
<circle cx="46.56" cy="291.82" r="0.5" fill="#b0b0f0" opacity="0.55"/>
<circle cx="49.99" cy="295.96" r="0.5" fill="#5a70d0" opacity="0.55"/>
<circle cx="47.61" cy="284.89" r="0.5" fill="#8a8ae0" opacity="0.55"/>
<circle cx="45.24" cy="289.98" r="0.5" fill="#9a9ae8" opacity="0.55"/>
<circle cx="42.56" cy="293.17" r="0.5" fill="#9a9ae8" opacity="0.55"/>
<circle cx="47.59" cy="291.02" r="0.5" fill="#6a6ad8" opacity="0.55"/>
<circle cx="42.31" cy="288.67" r="0.5" fill="#6a6ad8" opacity="0.55"/>
<circle cx="43.32" cy="290.63" r="0.5" fill="#5a70d0" opacity="0.55"/>
<circle cx="44.34" cy="291.34" r="0.5" fill="#9a9ae8" opacity="0.55"/>
<circle cx="47.70" cy="294.32" r="0.5" fill="#6a6ad8" opacity="0.55"/>
<circle cx="43.90" cy="286.69" r="0.5" fill="#5a70d0" opacity="0.55"/>
<circle cx="44.87" cy="289.43" r="0.5" fill="#9a9ae8" opacity="0.55"/>
<circle cx="44.03" cy="293.47" r="0.5" fill="#b0b0f0" opacity="0.55"/>
<circle cx="48.10" cy="304.82" r="0.5" fill="#9a9ae8" opacity="0.55"/>
<circle cx="48.81" cy="293.55" r="0.5" fill="#b0b0f0" opacity="0.55"/>
<circle cx="48.71" cy="292.02" r="0.5" fill="#5a70d0" opacity="0.55"/>
<circle cx="40.43" cy="299.54" r="0.5" fill="#8a8ae0" opacity="0.55"/>
<circle cx="46.66" cy="293.88" r="0.5" fill="#b0b0f0" opacity="0.55"/>
<circle cx="45.29" cy="297.24" r="0.5" fill="#b0b0f0" opacity="0.55"/>
<circle cx="47.03" cy="288.15" r="0.5" fill="#6a6ad8" opacity="0.55"/>
<circle cx="44.87" cy="289.87" r="0.5" fill="#9a9ae8" opacity="0.55"/>
<circle cx="44.11" cy="294.64" r="0.5" fill="#9a9ae8" opacity="0.55"/>
<circle cx="44.23" cy="288.83" r="0.5" fill="#8a8ae0" opacity="0.55"/>
<circle cx="42.98" cy="295.20" r="0.5" fill="#6a6ad8" opacity="0.55"/>
<circle cx="45.60" cy="292.78" r="0.5" fill="#5a70d0" opacity="0.55"/>
<circle cx="46.31" cy="291.07" r="0.5" fill="#8a8ae0" opacity="0.55"/>
<circle cx="44.01" cy="283.57" r="0.5" fill="#5a70d0" opacity="0.55"/>
<circle cx="45.48" cy="294.65" r="0.5" fill="#9a9ae8" opacity="0.55"/>
<circle cx="49.50" cy="292.95" r="0.5" fill="#5a70d0" opacity="0.55"/>
<circle cx="49.99" cy="289.59" r="0.5" fill="#6a6ad8" opacity="0.55"/>
<circle cx="45.31" cy="294.44" r="0.5" fill="#5a70d0" opacity="0.55"/>
<circle cx="44.37" cy="291.08" r="0.5" fill="#5a70d0" opacity="0.55"/>
<circle cx="43.09" cy="294.53" r="0.5" fill="#5a70d0" opacity="0.55"/>
<circle cx="46.19" cy="288.36" r="0.5" fill="#6a6ad8" opacity="0.55"/>
<circle cx="47.11" cy="287.12" r="0.5" fill="#b0b0f0" opacity="0.55"/>
<circle cx="40.94" cy="290.82" r="0.5" fill="#6a6ad8" opacity="0.55"/>
<circle cx="48.32" cy="291.12" r="0.5" fill="#b0b0f0" opacity="0.55"/>
<circle cx="45.57" cy="286.53" r="0.5" fill="#5a70d0" opacity="0.55"/>
<circle cx="38.91" cy="293.90" r="0.5" fill="#b0b0f0" opacity="0.55"/>
<circle cx="47.86" cy="296.65" r="0.5" fill="#5a70d0" opacity="0.55"/>
<circle cx="45.04" cy="296.39" r="0.5" fill="#5a70d0" opacity="0.55"/>
<circle cx="43.66" cy="294.85" r="0.5" fill="#9a9ae8" opacity="0.55"/>
<circle cx="42.69" cy="291.41" r="0.5" fill="#8a8ae0" opacity="0.55"/>
<circle cx="44.76" cy="291.61" r="0.5" fill="#b0b0f0" opacity="0.55"/>
<circle cx="48.42" cy="290.06" r="0.5" fill="#8a8ae0" opacity="0.55"/>
<circle cx="42.92" cy="294.18" r="0.5" fill="#9a9ae8" opacity="0.55"/>
<circle cx="42.11" cy="295.50" r="0.5" fill="#8a8ae0" opacity="0.55"/>
<circle cx="47.81" cy="295.22" r="0.5" fill="#6a6ad8" opacity="0.55"/>
<circle cx="44.29" cy="296.91" r="0.5" fill="#b0b0f0" opacity="0.55"/>
<circle cx="45.68" cy="293.87" r="0.5" fill="#9a9ae8" opacity="0.55"/>
<circle cx="41.82" cy="298.00" r="0.5" fill="#8a8ae0" opacity="0.55"/>
<circle cx="43.55" cy="295.86" r="0.5" fill="#6a6ad8" opacity="0.55"/>
<circle cx="41.58" cy="293.07" r="0.5" fill="#5a70d0" opacity="0.55"/>
<circle cx="48.00" cy="296.79" r="0.5" fill="#8a8ae0" opacity="0.55"/>
<circle cx="50.84" cy="298.27" r="0.5" fill="#9a9ae8" opacity="0.55"/>
<circle cx="42.87" cy="295.88" r="0.5" fill="#5a70d0" opacity="0.55"/>
<circle cx="49.04" cy="285.56" r="0.5" fill="#6a6ad8" opacity="0.55"/>
<circle cx="47.70" cy="296.40" r="0.5" fill="#9a9ae8" opacity="0.55"/>
<circle cx="48.91" cy="291.97" r="0.5" fill="#6a6ad8" opacity="0.55"/>
<circle cx="40.17" cy="299.48" r="0.5" fill="#b0b0f0" opacity="0.55"/>
<circle cx="50.44" cy="283.50" r="0.5" fill="#8a8ae0" opacity="0.55"/>
<circle cx="45.94" cy="289.87" r="0.5" fill="#8a8ae0" opacity="0.55"/>
<circle cx="41.00" cy="292.05" r="0.5" fill="#9a9ae8" opacity="0.55"/>
<circle cx="49.97" cy="296.97" r="0.5" fill="#6a6ad8" opacity="0.55"/>
<circle cx="45.94" cy="289.79" r="0.5" fill="#6a6ad8" opacity="0.55"/>
<circle cx="43.94" cy="289.97" r="0.5" fill="#8a8ae0" opacity="0.55"/>
<circle cx="42.92" cy="289.06" r="0.5" fill="#9a9ae8" opacity="0.55"/>
<circle cx="45.04" cy="290.92" r="0.5" fill="#6a6ad8" opacity="0.55"/>
<circle cx="43.26" cy="303.25" r="0.5" fill="#8a8ae0" opacity="0.55"/>
<circle cx="43.87" cy="295.07" r="0.5" fill="#b0b0f0" opacity="0.55"/>
<circle cx="49.23" cy="293.04" r="0.5" fill="#9a9ae8" opacity="0.55"/>
<circle cx="45.03" cy="296.86" r="0.5" fill="#8a8ae0" opacity="0.55"/>
<circle cx="43.33" cy="293.51" r="0.5" fill="#8a8ae0" opacity="0.55"/>
<circle cx="48.54" cy="293.85" r="0.5" fill="#5a70d0" opacity="0.55"/>
<circle cx="47.35" cy="294.01" r="0.5" fill="#9a9ae8" opacity="0.55"/>
<circle cx="47.38" cy="294.58" r="0.5" fill="#9a9ae8" opacity="0.55"/>
<circle cx="47.42" cy="291.54" r="0.5" fill="#6a6ad8" opacity="0.55"/>
<circle cx="43.91" cy="286.25" r="0.5" fill="#5a70d0" opacity="0.55"/>
<circle cx="44.68" cy="290.27" r="0.5" fill="#5a70d0" opacity="0.55"/>
<circle cx="45.26" cy="287.68" r="0.5" fill="#8a8ae0" opacity="0.55"/>
<circle cx="43.49" cy="293.08" r="0.5" fill="#8a8ae0" opacity="0.55"/>
<circle cx="45.76" cy="296.16" r="0.5" fill="#5a70d0" opacity="0.55"/>
<circle cx="48.75" cy="296.98" r="0.5" fill="#b0b0f0" opacity="0.55"/>
<circle cx="46.32" cy="295.95" r="0.5" fill="#9a9ae8" opacity="0.55"/>
<circle cx="46.36" cy="292.18" r="0.5" fill="#b0b0f0" opacity="0.55"/>
<circle cx="47.32" cy="296.58" r="0.5" fill="#8a8ae0" opacity="0.55"/>
<circle cx="49.50" cy="293.90" r="0.5" fill="#9a9ae8" opacity="0.55"/>
<circle cx="46.50" cy="293.51" r="0.5" fill="#9a9ae8" opacity="0.55"/>
<circle cx="41.00" cy="295.21" r="0.5" fill="#5a70d0" opacity="0.55"/>
<circle cx="44.37" cy="277.50" r="0.5" fill="#8a8ae0" opacity="0.55"/>
<circle cx="44.58" cy="295.53" r="0.5" fill="#b0b0f0" opacity="0.55"/>
<circle cx="45.48" cy="291.85" r="0.5" fill="#9a9ae8" opacity="0.55"/>
<circle cx="50.12" cy="281.95" r="0.5" fill="#9a9ae8" opacity="0.55"/>
<circle cx="45.61" cy="293.30" r="0.5" fill="#5a70d0" opacity="0.55"/>
<circle cx="48.24" cy="295.28" r="0.5" fill="#6a6ad8" opacity="0.55"/>
<circle cx="40.81" cy="290.16" r="0.5" fill="#9a9ae8" opacity="0.55"/>
<circle cx="42.04" cy="299.55" r="0.5" fill="#9a9ae8" opacity="0.55"/>
<circle cx="49.49" cy="296.69" r="0.5" fill="#8a8ae0" opacity="0.55"/>
<circle cx="40.81" cy="300.24" r="0.5" fill="#8a8ae0" opacity="0.55"/>
<circle cx="43.32" cy="299.59" r="0.5" fill="#9a9ae8" opacity="0.55"/>
<circle cx="48.53" cy="293.88" r="0.5" fill="#9a9ae8" opacity="0.55"/>
<circle cx="46.27" cy="293.30" r="0.5" fill="#6a6ad8" opacity="0.55"/>
<circle cx="45.85" cy="291.48" r="0.5" fill="#8a8ae0" opacity="0.55"/>
<circle cx="45.39" cy="283.37" r="0.5" fill="#5a70d0" opacity="0.55"/>
<circle cx="43.73" cy="296.08" r="0.5" fill="#b0b0f0" opacity="0.55"/>
<circle cx="50.28" cy="295.02" r="0.5" fill="#5a70d0" opacity="0.55"/>
<circle cx="47.74" cy="291.27" r="0.5" fill="#b0b0f0" opacity="0.55"/>
<circle cx="49.18" cy="289.80" r="0.5" fill="#6a6ad8" opacity="0.55"/>
<circle cx="47.66" cy="293.50" r="0.5" fill="#9a9ae8" opacity="0.55"/>
<circle cx="44.78" cy="288.08" r="0.5" fill="#9a9ae8" opacity="0.55"/>
<circle cx="47.14" cy="283.35" r="0.5" fill="#9a9ae8" opacity="0.55"/>
<circle cx="47.86" cy="296.90" r="0.5" fill="#6a6ad8" opacity="0.55"/>
<circle cx="47.09" cy="286.03" r="0.5" fill="#8a8ae0" opacity="0.55"/>
<circle cx="43.41" cy="290.50" r="0.5" fill="#5a70d0" opacity="0.55"/>
<circle cx="40.41" cy="294.92" r="0.5" fill="#b0b0f0" opacity="0.55"/>
<circle cx="47.25" cy="294.42" r="0.5" fill="#8a8ae0" opacity="0.55"/>
<circle cx="45.52" cy="294.65" r="0.5" fill="#6a6ad8" opacity="0.55"/>
<circle cx="41.76" cy="293.65" r="0.5" fill="#8a8ae0" opacity="0.55"/>
<circle cx="51.67" cy="291.85" r="0.5" fill="#6a6ad8" opacity="0.55"/>
<circle cx="45.38" cy="294.88" r="0.5" fill="#6a6ad8" opacity="0.55"/>
<circle cx="37.62" cy="299.40" r="0.5" fill="#9a9ae8" opacity="0.55"/>
<circle cx="46.24" cy="295.13" r="0.5" fill="#9a9ae8" opacity="0.55"/>
<circle cx="42.23" cy="288.38" r="0.5" fill="#b0b0f0" opacity="0.55"/>
<circle cx="48.04" cy="287.55" r="0.5" fill="#6a6ad8" opacity="0.55"/>
<circle cx="45.97" cy="289.31" r="0.5" fill="#5a70d0" opacity="0.55"/>
<circle cx="42.85" cy="291.23" r="0.5" fill="#5a70d0" opacity="0.55"/>
<circle cx="46.21" cy="296.22" r="0.5" fill="#8a8ae0" opacity="0.55"/>
<circle cx="45.72" cy="296.64" r="0.5" fill="#b0b0f0" opacity="0.55"/>
<circle cx="45.92" cy="294.52" r="0.5" fill="#5a70d0" opacity="0.55"/>
<circle cx="49.07" cy="292.75" r="0.5" fill="#8a8ae0" opacity="0.55"/>
<circle cx="44.69" cy="291.33" r="0.5" fill="#9a9ae8" opacity="0.55"/>
<ellipse cx="46.5" cy="292" rx="2.5" ry="4" fill="#6060c8" opacity="0.35"/>
<circle cx="46.62" cy="307.50" r="0.4" fill="#c8c8e8" opacity="0.6"/>
<circle cx="44.91" cy="314.38" r="0.4" fill="#c8c8e8" opacity="0.6"/>
<circle cx="49.18" cy="298.81" r="0.4" fill="#c8c8e8" opacity="0.6"/>
<circle cx="38.46" cy="303.87" r="0.4" fill="#c8c8e8" opacity="0.6"/>
<circle cx="46.66" cy="317.46" r="0.4" fill="#c8c8e8" opacity="0.6"/>
<circle cx="46.55" cy="309.66" r="0.4" fill="#c8c8e8" opacity="0.6"/>
<circle cx="48.06" cy="315.32" r="0.4" fill="#c8c8e8" opacity="0.6"/>
<circle cx="43.57" cy="306.98" r="0.4" fill="#c8c8e8" opacity="0.6"/>
<circle cx="44.62" cy="316.91" r="0.4" fill="#c8c8e8" opacity="0.6"/>
<circle cx="51.06" cy="300.12" r="0.4" fill="#c8c8e8" opacity="0.6"/>
<circle cx="40.99" cy="302.35" r="0.4" fill="#c8c8e8" opacity="0.6"/>
<circle cx="42.23" cy="305.37" r="0.4" fill="#c8c8e8" opacity="0.6"/>
<circle cx="46.49" cy="303.10" r="0.4" fill="#c8c8e8" opacity="0.6"/>
<circle cx="46.83" cy="309.99" r="0.4" fill="#c8c8e8" opacity="0.6"/>
<circle cx="43.63" cy="298.23" r="0.4" fill="#c8c8e8" opacity="0.6"/>
<circle cx="43.08" cy="304.54" r="0.4" fill="#c8c8e8" opacity="0.6"/>
<circle cx="44.03" cy="304.24" r="0.4" fill="#c8c8e8" opacity="0.6"/>
<circle cx="42.98" cy="302.07" r="0.4" fill="#c8c8e8" opacity="0.6"/>
<circle cx="46.24" cy="299.27" r="0.4" fill="#c8c8e8" opacity="0.6"/>
<circle cx="40.77" cy="300.03" r="0.4" fill="#c8c8e8" opacity="0.6"/>
<circle cx="41.50" cy="310.78" r="0.4" fill="#c8c8e8" opacity="0.6"/>
<circle cx="47.70" cy="299.82" r="0.4" fill="#c8c8e8" opacity="0.6"/>
<circle cx="47.79" cy="306.20" r="0.4" fill="#c8c8e8" opacity="0.6"/>
<circle cx="49.62" cy="303.67" r="0.4" fill="#c8c8e8" opacity="0.6"/>
<circle cx="41.93" cy="304.25" r="0.4" fill="#c8c8e8" opacity="0.6"/>
<polyline points="72.80,257.40 76.30,254.40 79.30,246.10 81.70,238.90 83.50,243.70 85.90,247.00 88.30,246.70 91.30,237.10 94.20,216.90 96.60,205.50 97.80,201.40 99.20,205.50 100.80,219.80 102.60,241.30 104.40,254.40 106.20,257.40 125.20,257.80" fill="none" stroke="#333" stroke-width="0.8" stroke-linejoin="round"/>
<polyline points="72.90,320.20 79.10,319.20 82.80,317.10 86.50,317.10 89.60,311.60 92.70,302.90 94.60,293.00 96.20,274.50 97.00,262.20 98.60,273.30 99.90,267.10 100.70,264.60 102.00,274.50 103.80,289.30 105.00,302.90 106.90,317.80 108.80,320.00 126.00,320.20" fill="none" stroke="#333" stroke-width="0.8" stroke-linejoin="round"/>
<line x1="22.50" y1="324.20" x2="59.60" y2="324.20" stroke="#000" stroke-width="1.6"/>
<polyline points="55.80,321.60 60.20,324.20 55.80,326.80" fill="none" stroke="#000" stroke-width="1.68" stroke-linecap="round" stroke-linejoin="miter"/>
<line x1="78.80" y1="324.00" x2="115.80" y2="324.00" stroke="#000" stroke-width="1.6"/>
<polyline points="112.00,321.40 116.40,324.00 112.00,326.60" fill="none" stroke="#000" stroke-width="1.68" stroke-linecap="round" stroke-linejoin="miter"/>
<text x="35.00" y="334.00" font-size="6.56" font-weight="bold" fill="#000" textLength="12.50" lengthAdjust="spacingAndGlyphs" stroke="#000" stroke-width="0.16">CD8</text>
<text x="80.80" y="333.80" font-size="7.0" font-weight="bold" fill="#000" textLength="32.99" lengthAdjust="spacingAndGlyphs" stroke="#000" stroke-width="0.18">Histogram</text>
<line x1="151.00" y1="249.50" x2="220.30" y2="249.50" stroke="#222" stroke-width="0.9"/>
<line x1="166.20" y1="204.50" x2="166.20" y2="249.50" stroke="#222" stroke-width="0.9"/>
<line x1="152.34" y1="249.50" x2="152.34" y2="250.50" stroke="#222" stroke-width="0.6"/>
<text x="152.34" y="256.90" font-size="3.3" text-anchor="middle" fill="#111">-20</text>
<line x1="166.20" y1="249.50" x2="166.20" y2="250.50" stroke="#222" stroke-width="0.6"/>
<text x="166.20" y="256.90" font-size="3.3" text-anchor="middle" fill="#111">0</text>
<line x1="180.06" y1="249.50" x2="180.06" y2="250.50" stroke="#222" stroke-width="0.6"/>
<text x="180.06" y="256.90" font-size="3.3" text-anchor="middle" fill="#111">20</text>
<line x1="193.92" y1="249.50" x2="193.92" y2="250.50" stroke="#222" stroke-width="0.6"/>
<text x="193.92" y="256.90" font-size="3.3" text-anchor="middle" fill="#111">40</text>
<line x1="207.78" y1="249.50" x2="207.78" y2="250.50" stroke="#222" stroke-width="0.6"/>
<text x="207.78" y="256.90" font-size="3.3" text-anchor="middle" fill="#111">60</text>
<line x1="221.64" y1="249.50" x2="221.64" y2="250.50" stroke="#222" stroke-width="0.6"/>
<text x="221.64" y="256.90" font-size="3.3" text-anchor="middle" fill="#111">80</text>
<line x1="165.20" y1="249.50" x2="166.20" y2="249.50" stroke="#222" stroke-width="0.6"/>
<text x="164.20" y="250.60" font-size="3.1" text-anchor="end" fill="#111">0</text>
<line x1="165.20" y1="243.07" x2="166.20" y2="243.07" stroke="#222" stroke-width="0.6"/>
<text x="164.20" y="244.17" font-size="3.1" text-anchor="end" fill="#111">20</text>
<line x1="165.20" y1="236.64" x2="166.20" y2="236.64" stroke="#222" stroke-width="0.6"/>
<text x="164.20" y="237.74" font-size="3.1" text-anchor="end" fill="#111">40</text>
<line x1="165.20" y1="230.21" x2="166.20" y2="230.21" stroke="#222" stroke-width="0.6"/>
<text x="164.20" y="231.31" font-size="3.1" text-anchor="end" fill="#111">60</text>
<line x1="165.20" y1="223.79" x2="166.20" y2="223.79" stroke="#222" stroke-width="0.6"/>
<text x="164.20" y="224.89" font-size="3.1" text-anchor="end" fill="#111">80</text>
<line x1="165.20" y1="217.36" x2="166.20" y2="217.36" stroke="#222" stroke-width="0.6"/>
<text x="164.20" y="218.46" font-size="3.1" text-anchor="end" fill="#111">100</text>
<line x1="165.20" y1="210.93" x2="166.20" y2="210.93" stroke="#222" stroke-width="0.6"/>
<text x="164.20" y="212.03" font-size="3.1" text-anchor="end" fill="#111">120</text>
<line x1="165.20" y1="204.50" x2="166.20" y2="204.50" stroke="#222" stroke-width="0.6"/>
<text x="164.20" y="205.60" font-size="3.1" text-anchor="end" fill="#111">140</text>
<text x="168.80" y="211.20" font-size="7.25" font-weight="bold" fill="#000" textLength="10.74" lengthAdjust="spacingAndGlyphs" stroke="#000" stroke-width="0.18">R.4</text>
<polyline points="161.80,219.50 166.20,222.60 171.10,222.30 175.70,220.80 180.60,224.20 185.70,218.00 188.80,219.50 193.40,213.40 195.70,216.20 198.80,214.20 201.10,220.80 203.40,216.90 208.80,219.20 213.40,218.00 218.00,220.00 219.50,215.70" fill="none" stroke="#111" stroke-width="1.0" stroke-linejoin="round"/>
<circle cx="161.80" cy="219.50" r="0.75" fill="#000"/>
<circle cx="166.20" cy="222.60" r="0.75" fill="#000"/>
<circle cx="171.10" cy="222.30" r="0.75" fill="#000"/>
<circle cx="175.70" cy="220.80" r="0.75" fill="#000"/>
<circle cx="180.60" cy="224.20" r="0.75" fill="#000"/>
<circle cx="185.70" cy="218.00" r="0.75" fill="#000"/>
<circle cx="188.80" cy="219.50" r="0.75" fill="#000"/>
<circle cx="193.40" cy="213.40" r="0.75" fill="#000"/>
<circle cx="195.70" cy="216.20" r="0.75" fill="#000"/>
<circle cx="198.80" cy="214.20" r="0.75" fill="#000"/>
<circle cx="201.10" cy="220.80" r="0.75" fill="#000"/>
<circle cx="203.40" cy="216.90" r="0.75" fill="#000"/>
<circle cx="208.80" cy="219.20" r="0.75" fill="#000"/>
<circle cx="213.40" cy="218.00" r="0.75" fill="#000"/>
<circle cx="218.00" cy="220.00" r="0.75" fill="#000"/>
<circle cx="219.50" cy="215.70" r="0.75" fill="#000"/>
<line x1="226.20" y1="249.20" x2="293.80" y2="249.20" stroke="#555" stroke-width="0.9"/>
<line x1="240.00" y1="203.40" x2="240.00" y2="249.20" stroke="#555" stroke-width="0.9"/>
<line x1="226.48" y1="249.20" x2="226.48" y2="250.20" stroke="#555" stroke-width="0.6"/>
<text x="226.48" y="256.50" font-size="3.3" text-anchor="middle" fill="#111">-20</text>
<line x1="240.00" y1="249.20" x2="240.00" y2="250.20" stroke="#555" stroke-width="0.6"/>
<text x="240.00" y="256.50" font-size="3.3" text-anchor="middle" fill="#111">0</text>
<line x1="253.52" y1="249.20" x2="253.52" y2="250.20" stroke="#555" stroke-width="0.6"/>
<text x="253.52" y="256.50" font-size="3.3" text-anchor="middle" fill="#111">20</text>
<line x1="267.04" y1="249.20" x2="267.04" y2="250.20" stroke="#555" stroke-width="0.6"/>
<text x="267.04" y="256.50" font-size="3.3" text-anchor="middle" fill="#111">40</text>
<line x1="280.56" y1="249.20" x2="280.56" y2="250.20" stroke="#555" stroke-width="0.6"/>
<text x="280.56" y="256.50" font-size="3.3" text-anchor="middle" fill="#111">60</text>
<line x1="294.08" y1="249.20" x2="294.08" y2="250.20" stroke="#555" stroke-width="0.6"/>
<text x="294.08" y="256.50" font-size="3.3" text-anchor="middle" fill="#111">80</text>
<line x1="239.00" y1="249.20" x2="240.00" y2="249.20" stroke="#555" stroke-width="0.6"/>
<text x="238.00" y="250.30" font-size="3.1" text-anchor="end" fill="#111">0</text>
<line x1="239.00" y1="242.66" x2="240.00" y2="242.66" stroke="#555" stroke-width="0.6"/>
<text x="238.00" y="243.76" font-size="3.1" text-anchor="end" fill="#111">20</text>
<line x1="239.00" y1="236.11" x2="240.00" y2="236.11" stroke="#555" stroke-width="0.6"/>
<text x="238.00" y="237.21" font-size="3.1" text-anchor="end" fill="#111">40</text>
<line x1="239.00" y1="229.57" x2="240.00" y2="229.57" stroke="#555" stroke-width="0.6"/>
<text x="238.00" y="230.67" font-size="3.1" text-anchor="end" fill="#111">60</text>
<line x1="239.00" y1="223.03" x2="240.00" y2="223.03" stroke="#555" stroke-width="0.6"/>
<text x="238.00" y="224.13" font-size="3.1" text-anchor="end" fill="#111">80</text>
<line x1="239.00" y1="216.49" x2="240.00" y2="216.49" stroke="#555" stroke-width="0.6"/>
<text x="238.00" y="217.59" font-size="3.1" text-anchor="end" fill="#111">100</text>
<line x1="239.00" y1="209.94" x2="240.00" y2="209.94" stroke="#555" stroke-width="0.6"/>
<text x="238.00" y="211.04" font-size="3.1" text-anchor="end" fill="#111">120</text>
<line x1="239.00" y1="203.40" x2="240.00" y2="203.40" stroke="#555" stroke-width="0.6"/>
<text x="238.00" y="204.50" font-size="3.1" text-anchor="end" fill="#111">140</text>
<text x="241.50" y="209.00" font-size="7.25" font-weight="bold" fill="#000" textLength="10.74" lengthAdjust="spacingAndGlyphs" stroke="#000" stroke-width="0.18">R.5</text>
<polyline points="238.80,216.20 240.50,209.10 249.20,226.90 253.50,207.50 256.20,220.30 258.50,207.20 260.80,221.10 263.80,215.70 268.50,211.80 273.10,214.90 277.70,204.50 279.70,215.70 282.80,207.20" fill="none" stroke="#111" stroke-width="1.0" stroke-linejoin="round"/>
<circle cx="238.80" cy="216.20" r="0.75" fill="#000"/>
<circle cx="240.50" cy="209.10" r="0.75" fill="#000"/>
<circle cx="249.20" cy="226.90" r="0.75" fill="#000"/>
<circle cx="253.50" cy="207.50" r="0.75" fill="#000"/>
<circle cx="256.20" cy="220.30" r="0.75" fill="#000"/>
<circle cx="258.50" cy="207.20" r="0.75" fill="#000"/>
<circle cx="260.80" cy="221.10" r="0.75" fill="#000"/>
<circle cx="263.80" cy="215.70" r="0.75" fill="#000"/>
<circle cx="268.50" cy="211.80" r="0.75" fill="#000"/>
<circle cx="273.10" cy="214.90" r="0.75" fill="#000"/>
<circle cx="277.70" cy="204.50" r="0.75" fill="#000"/>
<circle cx="279.70" cy="215.70" r="0.75" fill="#000"/>
<circle cx="282.80" cy="207.20" r="0.75" fill="#000"/>
<line x1="155.40" y1="313.10" x2="223.10" y2="313.10" stroke="#222" stroke-width="0.9"/>
<line x1="168.80" y1="267.40" x2="168.80" y2="313.10" stroke="#222" stroke-width="0.9"/>
<line x1="155.26" y1="313.10" x2="155.26" y2="314.10" stroke="#222" stroke-width="0.6"/>
<text x="155.26" y="319.40" font-size="3.3" text-anchor="middle" fill="#111">-20</text>
<line x1="168.80" y1="313.10" x2="168.80" y2="314.10" stroke="#222" stroke-width="0.6"/>
<text x="168.80" y="319.40" font-size="3.3" text-anchor="middle" fill="#111">0</text>
<line x1="182.34" y1="313.10" x2="182.34" y2="314.10" stroke="#222" stroke-width="0.6"/>
<text x="182.34" y="319.40" font-size="3.3" text-anchor="middle" fill="#111">20</text>
<line x1="195.88" y1="313.10" x2="195.88" y2="314.10" stroke="#222" stroke-width="0.6"/>
<text x="195.88" y="319.40" font-size="3.3" text-anchor="middle" fill="#111">40</text>
<line x1="209.42" y1="313.10" x2="209.42" y2="314.10" stroke="#222" stroke-width="0.6"/>
<text x="209.42" y="319.40" font-size="3.3" text-anchor="middle" fill="#111">60</text>
<line x1="222.96" y1="313.10" x2="222.96" y2="314.10" stroke="#222" stroke-width="0.6"/>
<text x="222.96" y="319.40" font-size="3.3" text-anchor="middle" fill="#111">80</text>
<line x1="167.80" y1="313.10" x2="168.80" y2="313.10" stroke="#222" stroke-width="0.6"/>
<text x="166.80" y="314.20" font-size="3.1" text-anchor="end" fill="#111">0</text>
<line x1="167.80" y1="306.57" x2="168.80" y2="306.57" stroke="#222" stroke-width="0.6"/>
<text x="166.80" y="307.67" font-size="3.1" text-anchor="end" fill="#111">20</text>
<line x1="167.80" y1="300.04" x2="168.80" y2="300.04" stroke="#222" stroke-width="0.6"/>
<text x="166.80" y="301.14" font-size="3.1" text-anchor="end" fill="#111">40</text>
<line x1="167.80" y1="293.51" x2="168.80" y2="293.51" stroke="#222" stroke-width="0.6"/>
<text x="166.80" y="294.61" font-size="3.1" text-anchor="end" fill="#111">60</text>
<line x1="167.80" y1="286.99" x2="168.80" y2="286.99" stroke="#222" stroke-width="0.6"/>
<text x="166.80" y="288.09" font-size="3.1" text-anchor="end" fill="#111">80</text>
<line x1="167.80" y1="280.46" x2="168.80" y2="280.46" stroke="#222" stroke-width="0.6"/>
<text x="166.80" y="281.56" font-size="3.1" text-anchor="end" fill="#111">100</text>
<line x1="167.80" y1="273.93" x2="168.80" y2="273.93" stroke="#222" stroke-width="0.6"/>
<text x="166.80" y="275.03" font-size="3.1" text-anchor="end" fill="#111">120</text>
<line x1="167.80" y1="267.40" x2="168.80" y2="267.40" stroke="#222" stroke-width="0.6"/>
<text x="166.80" y="268.50" font-size="3.1" text-anchor="end" fill="#111">140</text>
<text x="171.50" y="272.60" font-size="7.25" font-weight="bold" fill="#000" textLength="10.74" lengthAdjust="spacingAndGlyphs" stroke="#000" stroke-width="0.18">R.6</text>
<polyline points="165.40,280.80 168.20,289.70 168.50,275.10 179.20,286.60 183.10,286.90 188.50,281.70 200.00,293.50 208.50,286.90" fill="none" stroke="#111" stroke-width="1.0" stroke-linejoin="round"/>
<circle cx="165.40" cy="280.80" r="0.75" fill="#000"/>
<circle cx="168.20" cy="289.70" r="0.75" fill="#000"/>
<circle cx="168.50" cy="275.10" r="0.75" fill="#000"/>
<circle cx="179.20" cy="286.60" r="0.75" fill="#000"/>
<circle cx="183.10" cy="286.90" r="0.75" fill="#000"/>
<circle cx="188.50" cy="281.70" r="0.75" fill="#000"/>
<circle cx="200.00" cy="293.50" r="0.75" fill="#000"/>
<circle cx="208.50" cy="286.90" r="0.75" fill="#000"/>
<line x1="226.60" y1="312.50" x2="294.30" y2="312.50" stroke="#222" stroke-width="0.9"/>
<line x1="240.50" y1="265.80" x2="240.50" y2="312.50" stroke="#222" stroke-width="0.9"/>
<line x1="226.96" y1="312.50" x2="226.96" y2="313.50" stroke="#222" stroke-width="0.6"/>
<text x="226.96" y="318.90" font-size="3.3" text-anchor="middle" fill="#111">-20</text>
<line x1="240.50" y1="312.50" x2="240.50" y2="313.50" stroke="#222" stroke-width="0.6"/>
<text x="240.50" y="318.90" font-size="3.3" text-anchor="middle" fill="#111">0</text>
<line x1="254.04" y1="312.50" x2="254.04" y2="313.50" stroke="#222" stroke-width="0.6"/>
<text x="254.04" y="318.90" font-size="3.3" text-anchor="middle" fill="#111">20</text>
<line x1="267.58" y1="312.50" x2="267.58" y2="313.50" stroke="#222" stroke-width="0.6"/>
<text x="267.58" y="318.90" font-size="3.3" text-anchor="middle" fill="#111">40</text>
<line x1="281.12" y1="312.50" x2="281.12" y2="313.50" stroke="#222" stroke-width="0.6"/>
<text x="281.12" y="318.90" font-size="3.3" text-anchor="middle" fill="#111">60</text>
<line x1="294.66" y1="312.50" x2="294.66" y2="313.50" stroke="#222" stroke-width="0.6"/>
<text x="294.66" y="318.90" font-size="3.3" text-anchor="middle" fill="#111">80</text>
<line x1="239.50" y1="312.50" x2="240.50" y2="312.50" stroke="#222" stroke-width="0.6"/>
<text x="238.50" y="313.60" font-size="3.1" text-anchor="end" fill="#111">0</text>
<line x1="239.50" y1="305.83" x2="240.50" y2="305.83" stroke="#222" stroke-width="0.6"/>
<text x="238.50" y="306.93" font-size="3.1" text-anchor="end" fill="#111">20</text>
<line x1="239.50" y1="299.16" x2="240.50" y2="299.16" stroke="#222" stroke-width="0.6"/>
<text x="238.50" y="300.26" font-size="3.1" text-anchor="end" fill="#111">40</text>
<line x1="239.50" y1="292.49" x2="240.50" y2="292.49" stroke="#222" stroke-width="0.6"/>
<text x="238.50" y="293.59" font-size="3.1" text-anchor="end" fill="#111">60</text>
<line x1="239.50" y1="285.81" x2="240.50" y2="285.81" stroke="#222" stroke-width="0.6"/>
<text x="238.50" y="286.91" font-size="3.1" text-anchor="end" fill="#111">80</text>
<line x1="239.50" y1="279.14" x2="240.50" y2="279.14" stroke="#222" stroke-width="0.6"/>
<text x="238.50" y="280.24" font-size="3.1" text-anchor="end" fill="#111">100</text>
<line x1="239.50" y1="272.47" x2="240.50" y2="272.47" stroke="#222" stroke-width="0.6"/>
<text x="238.50" y="273.57" font-size="3.1" text-anchor="end" fill="#111">120</text>
<line x1="239.50" y1="265.80" x2="240.50" y2="265.80" stroke="#222" stroke-width="0.6"/>
<text x="238.50" y="266.90" font-size="3.1" text-anchor="end" fill="#111">140</text>
<text x="243.50" y="272.20" font-size="7.25" font-weight="bold" fill="#000" textLength="10.74" lengthAdjust="spacingAndGlyphs" stroke="#000" stroke-width="0.18">R.7</text>
<polyline points="238.60,279.20 240.50,275.10 243.50,276.20 246.30,283.50 248.50,297.10 252.80,290.50 256.20,283.50 258.20,282.00 263.50,290.50 268.90,300.50" fill="none" stroke="#111" stroke-width="1.0" stroke-linejoin="round"/>
<circle cx="238.60" cy="279.20" r="0.75" fill="#000"/>
<circle cx="240.50" cy="275.10" r="0.75" fill="#000"/>
<circle cx="243.50" cy="276.20" r="0.75" fill="#000"/>
<circle cx="246.30" cy="283.50" r="0.75" fill="#000"/>
<circle cx="248.50" cy="297.10" r="0.75" fill="#000"/>
<circle cx="252.80" cy="290.50" r="0.75" fill="#000"/>
<circle cx="256.20" cy="283.50" r="0.75" fill="#000"/>
<circle cx="258.20" cy="282.00" r="0.75" fill="#000"/>
<circle cx="263.50" cy="290.50" r="0.75" fill="#000"/>
<circle cx="268.90" cy="300.50" r="0.75" fill="#000"/>
<line x1="151.30" y1="207.10" x2="151.30" y2="317.00" stroke="#000" stroke-width="1.0"/>
<polyline points="149.00,210.70 151.30,206.50 153.60,210.70" fill="none" stroke="#000" stroke-width="1.05" stroke-linecap="round" stroke-linejoin="miter"/>
<text x="139.60" y="262.60" font-size="6.64" font-weight="bold" text-anchor="middle" fill="#000" transform="rotate(-90 139.60 262.60)" stroke="#000" stroke-width="0.17">Percent of CD127+/CD8+ T cells</text>
<text x="145.80" y="261.90" font-size="6.64" font-weight="bold" text-anchor="middle" fill="#000" transform="rotate(-90 145.80 261.90)" stroke="#000" stroke-width="0.17">Compared to Pre-transplant</text>
<line x1="163.00" y1="323.70" x2="293.90" y2="323.70" stroke="#000" stroke-width="1.7"/>
<polyline points="289.50,320.90 294.50,323.70 289.50,326.50" fill="none" stroke="#000" stroke-width="1.78" stroke-linecap="round" stroke-linejoin="miter"/>
<text x="199.60" y="336.60" font-size="6.24" font-weight="bold" fill="#000" textLength="59.42" lengthAdjust="spacingAndGlyphs">Days Post-transplant</text>
<text x="2.00" y="354.60" font-size="14.07" font-weight="bold" fill="#000" textLength="9.68" lengthAdjust="spacingAndGlyphs" stroke="#000" stroke-width="0.35">C</text>
<text x="10.60" y="448.25" font-size="9.62" font-weight="bold" text-anchor="middle" fill="#000" transform="rotate(-90 10.60 448.25)" textLength="142.50" lengthAdjust="spacingAndGlyphs" stroke="#000" stroke-width="0.24">Sirolimus Serum Trough (ng/mL)</text>
<line x1="159.80" y1="343.00" x2="159.80" y2="422.10" stroke="#111" stroke-width="1.3"/>
<line x1="159.80" y1="422.10" x2="271.50" y2="422.10" stroke="#111" stroke-width="1.3"/>
<line x1="157.20" y1="422.10" x2="159.80" y2="422.10" stroke="#111" stroke-width="0.9"/>
<text x="155.30" y="424.10" font-size="6.09" font-weight="bold" text-anchor="end" fill="#2a2a2a" textLength="3.23" lengthAdjust="spacingAndGlyphs">0</text>
<line x1="157.20" y1="406.28" x2="159.80" y2="406.28" stroke="#111" stroke-width="0.9"/>
<text x="155.30" y="408.28" font-size="6.09" font-weight="bold" text-anchor="end" fill="#2a2a2a" textLength="3.23" lengthAdjust="spacingAndGlyphs">5</text>
<line x1="157.20" y1="390.46" x2="159.80" y2="390.46" stroke="#111" stroke-width="0.9"/>
<text x="155.30" y="392.46" font-size="6.09" font-weight="bold" text-anchor="end" fill="#2a2a2a" textLength="6.45" lengthAdjust="spacingAndGlyphs">10</text>
<line x1="157.20" y1="374.64" x2="159.80" y2="374.64" stroke="#111" stroke-width="0.9"/>
<text x="155.30" y="376.64" font-size="6.09" font-weight="bold" text-anchor="end" fill="#2a2a2a" textLength="6.45" lengthAdjust="spacingAndGlyphs">15</text>
<line x1="157.20" y1="358.82" x2="159.80" y2="358.82" stroke="#111" stroke-width="0.9"/>
<text x="155.30" y="360.82" font-size="6.09" font-weight="bold" text-anchor="end" fill="#2a2a2a" textLength="6.45" lengthAdjust="spacingAndGlyphs">20</text>
<line x1="157.20" y1="343.00" x2="159.80" y2="343.00" stroke="#111" stroke-width="0.9"/>
<text x="155.30" y="345.00" font-size="6.09" font-weight="bold" text-anchor="end" fill="#2a2a2a" textLength="6.45" lengthAdjust="spacingAndGlyphs">25</text>
<line x1="159.80" y1="422.10" x2="159.80" y2="424.30" stroke="#111" stroke-width="0.9"/>
<text x="159.80" y="433.60" font-size="6.09" font-weight="bold" text-anchor="middle" fill="#2a2a2a" textLength="3.23" lengthAdjust="spacingAndGlyphs">0</text>
<line x1="187.72" y1="422.10" x2="187.72" y2="424.30" stroke="#111" stroke-width="0.9"/>
<text x="187.72" y="433.60" font-size="6.09" font-weight="bold" text-anchor="middle" fill="#2a2a2a" textLength="6.45" lengthAdjust="spacingAndGlyphs">20</text>
<line x1="215.64" y1="422.10" x2="215.64" y2="424.30" stroke="#111" stroke-width="0.9"/>
<text x="215.64" y="433.60" font-size="6.09" font-weight="bold" text-anchor="middle" fill="#2a2a2a" textLength="6.45" lengthAdjust="spacingAndGlyphs">40</text>
<line x1="243.56" y1="422.10" x2="243.56" y2="424.30" stroke="#111" stroke-width="0.9"/>
<text x="243.56" y="433.60" font-size="6.09" font-weight="bold" text-anchor="middle" fill="#2a2a2a" textLength="6.45" lengthAdjust="spacingAndGlyphs">60</text>
<line x1="271.48" y1="422.10" x2="271.48" y2="424.30" stroke="#111" stroke-width="0.9"/>
<text x="271.48" y="433.60" font-size="6.09" font-weight="bold" text-anchor="middle" fill="#2a2a2a" textLength="6.45" lengthAdjust="spacingAndGlyphs">80</text>
<text x="165.00" y="361.00" font-size="9.03" font-weight="bold" fill="#000" textLength="13.38" lengthAdjust="spacingAndGlyphs" stroke="#000" stroke-width="0.23">R.5</text>
<line x1="159.80" y1="388.56" x2="162.59" y2="404.07" stroke="#747474" stroke-width="1.3"/>
<line x1="162.59" y1="404.07" x2="170.55" y2="411.03" stroke="#747474" stroke-width="1.3"/>
<line x1="170.55" y1="411.03" x2="174.18" y2="394.26" stroke="#747474" stroke-width="1.3"/>
<line x1="174.18" y1="394.26" x2="179.76" y2="376.22" stroke="#747474" stroke-width="1.3"/>
<line x1="179.76" y1="376.22" x2="189.12" y2="390.78" stroke="#747474" stroke-width="1.3"/>
<line x1="189.12" y1="390.78" x2="193.44" y2="383.50" stroke="#747474" stroke-width="1.3"/>
<line x1="193.44" y1="383.50" x2="208.80" y2="402.17" stroke="#747474" stroke-width="1.3"/>
<line x1="208.80" y1="402.17" x2="213.69" y2="411.98" stroke="#747474" stroke-width="1.3"/>
<line x1="213.69" y1="411.98" x2="218.85" y2="410.71" stroke="#000" stroke-width="1.3"/>
<line x1="218.85" y1="410.71" x2="228.20" y2="370.84" stroke="#000" stroke-width="1.3"/>
<line x1="228.20" y1="370.84" x2="238.26" y2="386.98" stroke="#747474" stroke-width="1.3"/>
<line x1="238.26" y1="386.98" x2="242.58" y2="400.90" stroke="#747474" stroke-width="1.3"/>
<line x1="242.58" y1="400.90" x2="252.08" y2="400.90" stroke="#747474" stroke-width="1.3"/>
<circle cx="159.80" cy="388.56" r="2.3" fill="#848484"/>
<circle cx="162.59" cy="404.07" r="2.3" fill="#848484"/>
<circle cx="170.55" cy="411.03" r="2.3" fill="#000"/>
<circle cx="174.18" cy="394.26" r="2.3" fill="#848484"/>
<circle cx="179.76" cy="376.22" r="2.3" fill="#000"/>
<circle cx="189.12" cy="390.78" r="2.3" fill="#848484"/>
<circle cx="193.44" cy="383.50" r="2.3" fill="#848484"/>
<circle cx="208.80" cy="402.17" r="2.3" fill="#848484"/>
<circle cx="213.69" cy="411.98" r="2.3" fill="#000"/>
<circle cx="218.85" cy="410.71" r="2.3" fill="#000"/>
<circle cx="228.20" cy="370.84" r="2.3" fill="#000"/>
<circle cx="238.26" cy="386.98" r="2.3" fill="#848484"/>
<circle cx="242.58" cy="400.90" r="2.3" fill="#848484"/>
<circle cx="252.08" cy="400.90" r="2.3" fill="#848484"/>
<line x1="159.80" y1="441.70" x2="159.80" y2="522.30" stroke="#111" stroke-width="1.3"/>
<line x1="159.80" y1="522.30" x2="272.20" y2="522.30" stroke="#111" stroke-width="1.3"/>
<line x1="157.20" y1="522.30" x2="159.80" y2="522.30" stroke="#111" stroke-width="0.9"/>
<text x="155.30" y="524.30" font-size="6.09" font-weight="bold" text-anchor="end" fill="#2a2a2a" textLength="3.23" lengthAdjust="spacingAndGlyphs">0</text>
<line x1="157.20" y1="506.18" x2="159.80" y2="506.18" stroke="#111" stroke-width="0.9"/>
<text x="155.30" y="508.18" font-size="6.09" font-weight="bold" text-anchor="end" fill="#2a2a2a" textLength="3.23" lengthAdjust="spacingAndGlyphs">5</text>
<line x1="157.20" y1="490.06" x2="159.80" y2="490.06" stroke="#111" stroke-width="0.9"/>
<text x="155.30" y="492.06" font-size="6.09" font-weight="bold" text-anchor="end" fill="#2a2a2a" textLength="6.45" lengthAdjust="spacingAndGlyphs">10</text>
<line x1="157.20" y1="473.94" x2="159.80" y2="473.94" stroke="#111" stroke-width="0.9"/>
<text x="155.30" y="475.94" font-size="6.09" font-weight="bold" text-anchor="end" fill="#2a2a2a" textLength="6.45" lengthAdjust="spacingAndGlyphs">15</text>
<line x1="157.20" y1="457.82" x2="159.80" y2="457.82" stroke="#111" stroke-width="0.9"/>
<text x="155.30" y="459.82" font-size="6.09" font-weight="bold" text-anchor="end" fill="#2a2a2a" textLength="6.45" lengthAdjust="spacingAndGlyphs">20</text>
<line x1="157.20" y1="441.70" x2="159.80" y2="441.70" stroke="#111" stroke-width="0.9"/>
<text x="155.30" y="443.70" font-size="6.09" font-weight="bold" text-anchor="end" fill="#2a2a2a" textLength="6.45" lengthAdjust="spacingAndGlyphs">25</text>
<line x1="159.80" y1="522.30" x2="159.80" y2="524.50" stroke="#111" stroke-width="0.9"/>
<text x="159.80" y="532.60" font-size="6.09" font-weight="bold" text-anchor="middle" fill="#2a2a2a" textLength="3.23" lengthAdjust="spacingAndGlyphs">0</text>
<line x1="187.90" y1="522.30" x2="187.90" y2="524.50" stroke="#111" stroke-width="0.9"/>
<text x="187.90" y="532.60" font-size="6.09" font-weight="bold" text-anchor="middle" fill="#2a2a2a" textLength="6.45" lengthAdjust="spacingAndGlyphs">20</text>
<line x1="216.00" y1="522.30" x2="216.00" y2="524.50" stroke="#111" stroke-width="0.9"/>
<text x="216.00" y="532.60" font-size="6.09" font-weight="bold" text-anchor="middle" fill="#2a2a2a" textLength="6.45" lengthAdjust="spacingAndGlyphs">40</text>
<line x1="244.10" y1="522.30" x2="244.10" y2="524.50" stroke="#111" stroke-width="0.9"/>
<text x="244.10" y="532.60" font-size="6.09" font-weight="bold" text-anchor="middle" fill="#2a2a2a" textLength="6.45" lengthAdjust="spacingAndGlyphs">60</text>
<line x1="272.20" y1="522.30" x2="272.20" y2="524.50" stroke="#111" stroke-width="0.9"/>
<text x="272.20" y="532.60" font-size="6.09" font-weight="bold" text-anchor="middle" fill="#2a2a2a" textLength="6.45" lengthAdjust="spacingAndGlyphs">80</text>
<text x="163.40" y="451.60" font-size="9.03" font-weight="bold" fill="#000" textLength="13.38" lengthAdjust="spacingAndGlyphs" stroke="#000" stroke-width="0.23">R.7</text>
<line x1="159.80" y1="501.70" x2="162.30" y2="488.50" stroke="#747474" stroke-width="1.1"/>
<line x1="162.30" y1="488.50" x2="167.50" y2="503.80" stroke="#747474" stroke-width="1.1"/>
<line x1="167.50" y1="503.80" x2="171.50" y2="513.10" stroke="#747474" stroke-width="1.1"/>
<line x1="171.50" y1="513.10" x2="179.80" y2="506.00" stroke="#000" stroke-width="1.1"/>
<line x1="179.80" y1="506.00" x2="181.70" y2="500.20" stroke="#747474" stroke-width="1.1"/>
<line x1="181.70" y1="500.20" x2="190.90" y2="501.70" stroke="#747474" stroke-width="1.1"/>
<line x1="190.90" y1="501.70" x2="197.10" y2="496.80" stroke="#747474" stroke-width="1.1"/>
<line x1="197.10" y1="496.80" x2="200.80" y2="509.40" stroke="#747474" stroke-width="1.1"/>
<line x1="200.80" y1="509.40" x2="206.30" y2="511.50" stroke="#000" stroke-width="1.1"/>
<line x1="206.30" y1="511.50" x2="210.60" y2="514.00" stroke="#000" stroke-width="1.1"/>
<line x1="210.60" y1="514.00" x2="216.80" y2="512.20" stroke="#000" stroke-width="1.1"/>
<line x1="216.80" y1="512.20" x2="221.40" y2="512.50" stroke="#000" stroke-width="1.1"/>
<circle cx="159.80" cy="501.70" r="2.1" fill="#848484"/>
<circle cx="162.30" cy="488.50" r="2.1" fill="#848484"/>
<circle cx="167.50" cy="503.80" r="2.1" fill="#848484"/>
<circle cx="171.50" cy="513.10" r="2.1" fill="#000"/>
<circle cx="179.80" cy="506.00" r="2.1" fill="#000"/>
<circle cx="181.70" cy="500.20" r="2.1" fill="#848484"/>
<circle cx="190.90" cy="501.70" r="2.1" fill="#848484"/>
<circle cx="197.10" cy="496.80" r="2.1" fill="#848484"/>
<circle cx="200.80" cy="509.40" r="2.1" fill="#000"/>
<circle cx="206.30" cy="511.50" r="2.1" fill="#000"/>
<circle cx="210.60" cy="514.00" r="2.1" fill="#000"/>
<circle cx="216.80" cy="512.20" r="2.1" fill="#000"/>
<circle cx="221.40" cy="512.50" r="2.1" fill="#000"/>
<rect x="30.20" y="379.00" width="245.50" height="27.60" fill="#cdcdcd" stroke="none" stroke-width="1" opacity="0.4"/>
<rect x="30.30" y="477.60" width="245.20" height="28.00" fill="#cdcdcd" stroke="none" stroke-width="1" opacity="0.4"/>
<line x1="30.20" y1="351.50" x2="30.20" y2="420.30" stroke="#111" stroke-width="1.3"/>
<line x1="30.20" y1="420.30" x2="141.60" y2="420.30" stroke="#111" stroke-width="1.3"/>
<line x1="27.60" y1="420.30" x2="30.20" y2="420.30" stroke="#111" stroke-width="0.9"/>
<text x="25.70" y="422.30" font-size="6.09" font-weight="bold" text-anchor="end" fill="#2a2a2a" textLength="3.23" lengthAdjust="spacingAndGlyphs">0</text>
<line x1="27.60" y1="406.54" x2="30.20" y2="406.54" stroke="#111" stroke-width="0.9"/>
<text x="25.70" y="408.54" font-size="6.09" font-weight="bold" text-anchor="end" fill="#2a2a2a" textLength="3.23" lengthAdjust="spacingAndGlyphs">5</text>
<line x1="27.60" y1="392.78" x2="30.20" y2="392.78" stroke="#111" stroke-width="0.9"/>
<text x="25.70" y="394.78" font-size="6.09" font-weight="bold" text-anchor="end" fill="#2a2a2a" textLength="6.45" lengthAdjust="spacingAndGlyphs">10</text>
<line x1="27.60" y1="379.02" x2="30.20" y2="379.02" stroke="#111" stroke-width="0.9"/>
<text x="25.70" y="381.02" font-size="6.09" font-weight="bold" text-anchor="end" fill="#2a2a2a" textLength="6.45" lengthAdjust="spacingAndGlyphs">15</text>
<line x1="27.60" y1="365.26" x2="30.20" y2="365.26" stroke="#111" stroke-width="0.9"/>
<text x="25.70" y="367.26" font-size="6.09" font-weight="bold" text-anchor="end" fill="#2a2a2a" textLength="6.45" lengthAdjust="spacingAndGlyphs">20</text>
<line x1="27.60" y1="351.50" x2="30.20" y2="351.50" stroke="#111" stroke-width="0.9"/>
<text x="25.70" y="353.50" font-size="6.09" font-weight="bold" text-anchor="end" fill="#2a2a2a" textLength="6.45" lengthAdjust="spacingAndGlyphs">25</text>
<line x1="30.20" y1="420.30" x2="30.20" y2="422.50" stroke="#111" stroke-width="0.9"/>
<text x="30.20" y="431.20" font-size="6.09" font-weight="bold" text-anchor="middle" fill="#2a2a2a" textLength="3.23" lengthAdjust="spacingAndGlyphs">0</text>
<line x1="57.88" y1="420.30" x2="57.88" y2="422.50" stroke="#111" stroke-width="0.9"/>
<text x="57.88" y="431.20" font-size="6.09" font-weight="bold" text-anchor="middle" fill="#2a2a2a" textLength="6.45" lengthAdjust="spacingAndGlyphs">20</text>
<line x1="85.56" y1="420.30" x2="85.56" y2="422.50" stroke="#111" stroke-width="0.9"/>
<text x="85.56" y="431.20" font-size="6.09" font-weight="bold" text-anchor="middle" fill="#2a2a2a" textLength="6.45" lengthAdjust="spacingAndGlyphs">40</text>
<line x1="113.24" y1="420.30" x2="113.24" y2="422.50" stroke="#111" stroke-width="0.9"/>
<text x="113.24" y="431.20" font-size="6.09" font-weight="bold" text-anchor="middle" fill="#2a2a2a" textLength="6.45" lengthAdjust="spacingAndGlyphs">60</text>
<line x1="140.92" y1="420.30" x2="140.92" y2="422.50" stroke="#111" stroke-width="0.9"/>
<text x="140.92" y="431.20" font-size="6.09" font-weight="bold" text-anchor="middle" fill="#2a2a2a" textLength="6.45" lengthAdjust="spacingAndGlyphs">80</text>
<text x="35.80" y="361.20" font-size="9.03" font-weight="bold" fill="#000" textLength="13.38" lengthAdjust="spacingAndGlyphs" stroke="#000" stroke-width="0.23">R.4</text>
<line x1="30.20" y1="382.32" x2="36.70" y2="399.11" stroke="#747474" stroke-width="1.1"/>
<line x1="36.70" y1="399.11" x2="41.13" y2="398.28" stroke="#747474" stroke-width="1.1"/>
<line x1="41.13" y1="398.28" x2="46.81" y2="401.31" stroke="#747474" stroke-width="1.1"/>
<line x1="46.81" y1="401.31" x2="56.50" y2="400.49" stroke="#747474" stroke-width="1.1"/>
<line x1="56.50" y1="400.49" x2="60.92" y2="405.16" stroke="#747474" stroke-width="1.1"/>
<line x1="60.92" y1="405.16" x2="66.18" y2="399.94" stroke="#747474" stroke-width="1.1"/>
<line x1="66.18" y1="399.94" x2="70.61" y2="396.91" stroke="#747474" stroke-width="1.1"/>
<line x1="70.61" y1="396.91" x2="75.87" y2="400.21" stroke="#747474" stroke-width="1.1"/>
<line x1="75.87" y1="400.21" x2="89.71" y2="404.06" stroke="#747474" stroke-width="1.1"/>
<line x1="89.71" y1="404.06" x2="106.32" y2="395.26" stroke="#747474" stroke-width="1.1"/>
<line x1="106.32" y1="395.26" x2="125.70" y2="391.68" stroke="#747474" stroke-width="1.1"/>
<line x1="125.70" y1="391.68" x2="135.38" y2="403.51" stroke="#747474" stroke-width="1.1"/>
<circle cx="30.20" cy="382.32" r="2.1" fill="#848484"/>
<circle cx="36.70" cy="399.11" r="2.1" fill="#848484"/>
<circle cx="41.13" cy="398.28" r="2.1" fill="#848484"/>
<circle cx="46.81" cy="401.31" r="2.1" fill="#848484"/>
<circle cx="56.50" cy="400.49" r="2.1" fill="#848484"/>
<circle cx="60.92" cy="405.16" r="2.1" fill="#848484"/>
<circle cx="66.18" cy="399.94" r="2.1" fill="#848484"/>
<circle cx="70.61" cy="396.91" r="2.1" fill="#848484"/>
<circle cx="75.87" cy="400.21" r="2.1" fill="#848484"/>
<circle cx="89.71" cy="404.06" r="2.1" fill="#848484"/>
<circle cx="106.32" cy="395.26" r="2.1" fill="#848484"/>
<circle cx="125.70" cy="391.68" r="2.1" fill="#848484"/>
<circle cx="135.38" cy="403.51" r="2.1" fill="#848484"/>
<line x1="30.30" y1="453.00" x2="30.30" y2="520.90" stroke="#111" stroke-width="1.3"/>
<line x1="30.30" y1="520.90" x2="142.20" y2="520.90" stroke="#111" stroke-width="1.3"/>
<line x1="27.70" y1="520.90" x2="30.30" y2="520.90" stroke="#111" stroke-width="0.9"/>
<text x="25.80" y="522.90" font-size="6.09" font-weight="bold" text-anchor="end" fill="#2a2a2a" textLength="3.23" lengthAdjust="spacingAndGlyphs">0</text>
<line x1="27.70" y1="507.32" x2="30.30" y2="507.32" stroke="#111" stroke-width="0.9"/>
<text x="25.80" y="509.32" font-size="6.09" font-weight="bold" text-anchor="end" fill="#2a2a2a" textLength="3.23" lengthAdjust="spacingAndGlyphs">5</text>
<line x1="27.70" y1="493.74" x2="30.30" y2="493.74" stroke="#111" stroke-width="0.9"/>
<text x="25.80" y="495.74" font-size="6.09" font-weight="bold" text-anchor="end" fill="#2a2a2a" textLength="6.45" lengthAdjust="spacingAndGlyphs">10</text>
<line x1="27.70" y1="480.16" x2="30.30" y2="480.16" stroke="#111" stroke-width="0.9"/>
<text x="25.80" y="482.16" font-size="6.09" font-weight="bold" text-anchor="end" fill="#2a2a2a" textLength="6.45" lengthAdjust="spacingAndGlyphs">15</text>
<line x1="27.70" y1="466.58" x2="30.30" y2="466.58" stroke="#111" stroke-width="0.9"/>
<text x="25.80" y="468.58" font-size="6.09" font-weight="bold" text-anchor="end" fill="#2a2a2a" textLength="6.45" lengthAdjust="spacingAndGlyphs">20</text>
<line x1="27.70" y1="453.00" x2="30.30" y2="453.00" stroke="#111" stroke-width="0.9"/>
<text x="25.80" y="455.00" font-size="6.09" font-weight="bold" text-anchor="end" fill="#2a2a2a" textLength="6.45" lengthAdjust="spacingAndGlyphs">25</text>
<line x1="30.30" y1="520.90" x2="30.30" y2="523.10" stroke="#111" stroke-width="0.9"/>
<text x="30.30" y="531.20" font-size="6.09" font-weight="bold" text-anchor="middle" fill="#2a2a2a" textLength="3.23" lengthAdjust="spacingAndGlyphs">0</text>
<line x1="58.28" y1="520.90" x2="58.28" y2="523.10" stroke="#111" stroke-width="0.9"/>
<text x="58.28" y="531.20" font-size="6.09" font-weight="bold" text-anchor="middle" fill="#2a2a2a" textLength="6.45" lengthAdjust="spacingAndGlyphs">20</text>
<line x1="86.26" y1="520.90" x2="86.26" y2="523.10" stroke="#111" stroke-width="0.9"/>
<text x="86.26" y="531.20" font-size="6.09" font-weight="bold" text-anchor="middle" fill="#2a2a2a" textLength="6.45" lengthAdjust="spacingAndGlyphs">40</text>
<line x1="114.24" y1="520.90" x2="114.24" y2="523.10" stroke="#111" stroke-width="0.9"/>
<text x="114.24" y="531.20" font-size="6.09" font-weight="bold" text-anchor="middle" fill="#2a2a2a" textLength="6.45" lengthAdjust="spacingAndGlyphs">60</text>
<line x1="142.22" y1="520.90" x2="142.22" y2="523.10" stroke="#111" stroke-width="0.9"/>
<text x="142.22" y="531.20" font-size="6.09" font-weight="bold" text-anchor="middle" fill="#2a2a2a" textLength="6.45" lengthAdjust="spacingAndGlyphs">80</text>
<text x="35.80" y="453.80" font-size="9.03" font-weight="bold" fill="#000" textLength="13.38" lengthAdjust="spacingAndGlyphs" stroke="#000" stroke-width="0.23">R.6</text>
<line x1="30.30" y1="472.70" x2="32.30" y2="484.20" stroke="#747474" stroke-width="1.5"/>
<line x1="32.30" y1="484.20" x2="37.50" y2="496.90" stroke="#747474" stroke-width="1.5"/>
<line x1="37.50" y1="496.90" x2="41.80" y2="492.90" stroke="#747474" stroke-width="1.5"/>
<line x1="41.80" y1="492.90" x2="47.60" y2="507.30" stroke="#747474" stroke-width="1.5"/>
<line x1="47.60" y1="507.30" x2="51.90" y2="501.50" stroke="#747474" stroke-width="1.5"/>
<line x1="51.90" y1="501.50" x2="57.70" y2="508.70" stroke="#747474" stroke-width="1.5"/>
<line x1="57.70" y1="508.70" x2="61.10" y2="494.90" stroke="#747474" stroke-width="1.5"/>
<line x1="61.10" y1="494.90" x2="66.90" y2="499.20" stroke="#747474" stroke-width="1.5"/>
<line x1="66.90" y1="499.20" x2="71.50" y2="484.80" stroke="#747474" stroke-width="1.5"/>
<line x1="71.50" y1="484.80" x2="90.90" y2="496.30" stroke="#747474" stroke-width="1.5"/>
<line x1="90.90" y1="496.30" x2="101.00" y2="498.40" stroke="#747474" stroke-width="1.5"/>
<line x1="101.00" y1="498.40" x2="107.30" y2="500.70" stroke="#747474" stroke-width="1.5"/>
<line x1="107.30" y1="500.70" x2="110.20" y2="504.10" stroke="#747474" stroke-width="1.5"/>
<line x1="110.20" y1="504.10" x2="116.00" y2="492.90" stroke="#747474" stroke-width="1.5"/>
<line x1="116.00" y1="492.90" x2="118.80" y2="502.10" stroke="#747474" stroke-width="1.5"/>
<circle cx="30.30" cy="472.70" r="1.45" fill="#000"/>
<circle cx="32.30" cy="484.20" r="1.45" fill="#848484"/>
<circle cx="37.50" cy="496.90" r="1.45" fill="#848484"/>
<circle cx="41.80" cy="492.90" r="1.45" fill="#848484"/>
<circle cx="47.60" cy="507.30" r="1.45" fill="#000"/>
<circle cx="51.90" cy="501.50" r="1.45" fill="#848484"/>
<circle cx="57.70" cy="508.70" r="1.45" fill="#000"/>
<circle cx="61.10" cy="494.90" r="1.45" fill="#848484"/>
<circle cx="66.90" cy="499.20" r="1.45" fill="#848484"/>
<circle cx="71.50" cy="484.80" r="1.45" fill="#848484"/>
<circle cx="90.90" cy="496.30" r="1.45" fill="#848484"/>
<circle cx="101.00" cy="498.40" r="1.45" fill="#848484"/>
<circle cx="107.30" cy="500.70" r="1.45" fill="#848484"/>
<circle cx="110.20" cy="504.10" r="1.45" fill="#848484"/>
<circle cx="116.00" cy="492.90" r="1.45" fill="#848484"/>
<circle cx="118.80" cy="502.10" r="1.45" fill="#848484"/>
<rect x="191.60" y="457.70" width="41.00" height="9.30" fill="#dcdcdc" stroke="none" stroke-width="1"/>
<text x="236.30" y="459.50" font-size="9.39" font-weight="bold" fill="#000" textLength="60.42" lengthAdjust="spacingAndGlyphs" stroke="#000" stroke-width="0.23">Target trough:</text>
<text x="236.30" y="471.00" font-size="9.15" font-weight="bold" fill="#000" textLength="45.98" lengthAdjust="spacingAndGlyphs" stroke="#000" stroke-width="0.23">5-15 ng/mL</text>
<line x1="25.40" y1="548.40" x2="270.00" y2="548.40" stroke="#000" stroke-width="1.8"/>
<polyline points="264.60,545.10 270.60,548.40 264.60,551.70" fill="none" stroke="#000" stroke-width="1.89" stroke-linecap="round" stroke-linejoin="miter"/>
<text x="109.30" y="562.20" font-size="9.65" font-weight="bold" fill="#000" textLength="93.97" lengthAdjust="spacingAndGlyphs" stroke="#000" stroke-width="0.24">Days Post-Transplant</text>
<text x="309.20" y="219.20" font-size="12.6" font-weight="bold" fill="#000" textLength="8.00" lengthAdjust="spacingAndGlyphs" stroke="#000" stroke-width="0.32">E</text>
<line x1="319.90" y1="222.90" x2="319.90" y2="313.00" stroke="#000" stroke-width="1.1"/>
<polyline points="318.20,225.70 319.90,222.30 321.60,225.70" fill="none" stroke="#000" stroke-width="1.16" stroke-linecap="round" stroke-linejoin="miter"/>
<text x="315.50" y="264.60" font-size="5.42" font-weight="bold" text-anchor="middle" fill="#000" transform="rotate(-90 315.50 264.60)" textLength="13.19" lengthAdjust="spacingAndGlyphs">CD28</text>
<line x1="328.50" y1="322.00" x2="476.80" y2="322.00" stroke="#000" stroke-width="1.3"/>
<polyline points="473.80,320.10 477.40,322.00 473.80,323.90" fill="none" stroke="#000" stroke-width="1.37" stroke-linecap="round" stroke-linejoin="miter"/>
<text x="402.00" y="331.20" font-size="5.63" font-weight="bold" fill="#000" textLength="14.30" lengthAdjust="spacingAndGlyphs">CFSE</text>
<text x="331.00" y="217.50" font-size="5.58" font-weight="bold" fill="#000" textLength="33.50" lengthAdjust="spacingAndGlyphs">CD28+/CD95-</text>
<text x="390.50" y="217.50" font-size="5.68" font-weight="bold" fill="#000" textLength="35.49" lengthAdjust="spacingAndGlyphs">CD28+/CD95+</text>
<text x="445.00" y="217.50" font-size="5.74" font-weight="bold" fill="#000" textLength="34.51" lengthAdjust="spacingAndGlyphs">CD28-/CD95+</text>
<text x="486.20" y="239.50" font-size="5.6" font-weight="bold" fill="#000" textLength="32.87" lengthAdjust="spacingAndGlyphs">No treatment</text>
<text x="484.50" y="295.00" font-size="5.81" font-weight="bold" fill="#000" textLength="27.50" lengthAdjust="spacingAndGlyphs">+ CTLA4Ig</text>
<rect x="327.70" y="218.20" width="41.10" height="41.00" fill="none" stroke="#c4c4c4" stroke-width="0.7"/>
<line x1="327.70" y1="218.20" x2="327.70" y2="259.20" stroke="#555" stroke-width="0.7"/>
<line x1="327.70" y1="259.20" x2="368.80" y2="259.20" stroke="#555" stroke-width="0.7"/>
<line x1="326.50" y1="222.30" x2="327.70" y2="222.30" stroke="#666" stroke-width="0.5"/>
<text x="325.70" y="223.10" font-size="2.3" text-anchor="end" fill="#999">10</text>
<line x1="326.50" y1="231.73" x2="327.70" y2="231.73" stroke="#666" stroke-width="0.5"/>
<text x="325.70" y="232.53" font-size="2.3" text-anchor="end" fill="#999">10</text>
<line x1="326.50" y1="240.75" x2="327.70" y2="240.75" stroke="#666" stroke-width="0.5"/>
<text x="325.70" y="241.55" font-size="2.3" text-anchor="end" fill="#999">10</text>
<line x1="326.50" y1="251.00" x2="327.70" y2="251.00" stroke="#666" stroke-width="0.5"/>
<text x="325.70" y="251.80" font-size="2.3" text-anchor="end" fill="#999">10</text>
<line x1="326.50" y1="255.92" x2="327.70" y2="255.92" stroke="#666" stroke-width="0.5"/>
<text x="325.70" y="256.72" font-size="2.3" text-anchor="end" fill="#999">10</text>
<line x1="332.63" y1="259.20" x2="332.63" y2="260.40" stroke="#666" stroke-width="0.5"/>
<text x="332.63" y="262.80" font-size="2.3" text-anchor="middle" fill="#999">10</text>
<line x1="335.92" y1="259.20" x2="335.92" y2="260.40" stroke="#666" stroke-width="0.5"/>
<text x="335.92" y="262.80" font-size="2.3" text-anchor="middle" fill="#999">10</text>
<line x1="344.96" y1="259.20" x2="344.96" y2="260.40" stroke="#666" stroke-width="0.5"/>
<text x="344.96" y="262.80" font-size="2.3" text-anchor="middle" fill="#999">10</text>
<line x1="354.83" y1="259.20" x2="354.83" y2="260.40" stroke="#666" stroke-width="0.5"/>
<text x="354.83" y="262.80" font-size="2.3" text-anchor="middle" fill="#999">10</text>
<line x1="364.69" y1="259.20" x2="364.69" y2="260.40" stroke="#666" stroke-width="0.5"/>
<text x="364.69" y="262.80" font-size="2.3" text-anchor="middle" fill="#999">10</text>
<ellipse cx="346.5" cy="231.5" rx="10.0" ry="3.8" fill="#b0bef2" opacity="0.55"/>
<circle cx="352.71" cy="234.30" r="0.5" fill="#3a5ad8" opacity="0.5"/>
<circle cx="346.30" cy="234.07" r="0.5" fill="#2a40c0" opacity="0.5"/>
<circle cx="341.25" cy="231.87" r="0.5" fill="#6a80e0" opacity="0.5"/>
<circle cx="347.22" cy="231.69" r="0.5" fill="#2a40c0" opacity="0.5"/>
<circle cx="338.58" cy="232.92" r="0.5" fill="#3a5ad8" opacity="0.5"/>
<circle cx="345.11" cy="229.93" r="0.5" fill="#6a80e0" opacity="0.5"/>
<circle cx="344.71" cy="231.04" r="0.5" fill="#8a9ae8" opacity="0.5"/>
<circle cx="347.29" cy="231.56" r="0.5" fill="#a0b0f0" opacity="0.5"/>
<circle cx="356.09" cy="231.72" r="0.5" fill="#6a80e0" opacity="0.5"/>
<circle cx="354.73" cy="230.85" r="0.5" fill="#a0b0f0" opacity="0.5"/>
<circle cx="347.54" cy="233.82" r="0.5" fill="#2a40c0" opacity="0.5"/>
<circle cx="341.78" cy="230.85" r="0.5" fill="#6a80e0" opacity="0.5"/>
<circle cx="347.20" cy="227.45" r="0.5" fill="#3a5ad8" opacity="0.5"/>
<circle cx="337.96" cy="233.49" r="0.5" fill="#3a5ad8" opacity="0.5"/>
<circle cx="350.59" cy="235.34" r="0.5" fill="#8a9ae8" opacity="0.5"/>
<circle cx="350.02" cy="232.84" r="0.5" fill="#a0b0f0" opacity="0.5"/>
<circle cx="351.79" cy="230.61" r="0.5" fill="#6a80e0" opacity="0.5"/>
<circle cx="344.12" cy="234.23" r="0.5" fill="#2a40c0" opacity="0.5"/>
<circle cx="350.20" cy="229.36" r="0.5" fill="#a0b0f0" opacity="0.5"/>
<circle cx="350.30" cy="229.50" r="0.5" fill="#2a40c0" opacity="0.5"/>
<circle cx="343.86" cy="232.13" r="0.5" fill="#a0b0f0" opacity="0.5"/>
<circle cx="353.01" cy="229.14" r="0.5" fill="#8a9ae8" opacity="0.5"/>
<circle cx="353.25" cy="233.13" r="0.5" fill="#3a5ad8" opacity="0.5"/>
<circle cx="347.68" cy="228.88" r="0.5" fill="#2a40c0" opacity="0.5"/>
<circle cx="340.70" cy="233.96" r="0.5" fill="#2a40c0" opacity="0.5"/>
<circle cx="354.40" cy="232.39" r="0.5" fill="#a0b0f0" opacity="0.5"/>
<circle cx="341.94" cy="230.29" r="0.5" fill="#6a80e0" opacity="0.5"/>
<circle cx="348.32" cy="232.80" r="0.5" fill="#3a5ad8" opacity="0.5"/>
<circle cx="347.38" cy="228.80" r="0.5" fill="#a0b0f0" opacity="0.5"/>
<circle cx="347.24" cy="234.12" r="0.5" fill="#a0b0f0" opacity="0.5"/>
<circle cx="340.56" cy="234.63" r="0.5" fill="#a0b0f0" opacity="0.5"/>
<circle cx="339.98" cy="229.37" r="0.5" fill="#2a40c0" opacity="0.5"/>
<circle cx="348.42" cy="227.92" r="0.5" fill="#a0b0f0" opacity="0.5"/>
<circle cx="348.91" cy="229.03" r="0.5" fill="#a0b0f0" opacity="0.5"/>
<circle cx="349.30" cy="235.39" r="0.5" fill="#2a40c0" opacity="0.5"/>
<circle cx="351.35" cy="229.43" r="0.5" fill="#6a80e0" opacity="0.5"/>
<circle cx="351.77" cy="230.68" r="0.5" fill="#8a9ae8" opacity="0.5"/>
<circle cx="346.40" cy="231.52" r="0.5" fill="#a0b0f0" opacity="0.5"/>
<circle cx="341.18" cy="229.41" r="0.5" fill="#2a40c0" opacity="0.5"/>
<circle cx="339.20" cy="229.38" r="0.5" fill="#6a80e0" opacity="0.5"/>
<circle cx="343.49" cy="231.10" r="0.5" fill="#3a5ad8" opacity="0.5"/>
<circle cx="349.18" cy="228.08" r="0.5" fill="#8a9ae8" opacity="0.5"/>
<circle cx="356.37" cy="232.32" r="0.5" fill="#3a5ad8" opacity="0.5"/>
<circle cx="347.02" cy="231.62" r="0.5" fill="#3a5ad8" opacity="0.5"/>
<circle cx="346.61" cy="229.77" r="0.5" fill="#8a9ae8" opacity="0.5"/>
<circle cx="352.34" cy="233.42" r="0.5" fill="#8a9ae8" opacity="0.5"/>
<circle cx="345.75" cy="232.66" r="0.5" fill="#8a9ae8" opacity="0.5"/>
<circle cx="343.53" cy="231.29" r="0.5" fill="#8a9ae8" opacity="0.5"/>
<circle cx="343.84" cy="230.07" r="0.5" fill="#8a9ae8" opacity="0.5"/>
<circle cx="344.20" cy="231.52" r="0.5" fill="#8a9ae8" opacity="0.5"/>
<circle cx="342.17" cy="233.00" r="0.5" fill="#6a80e0" opacity="0.5"/>
<circle cx="346.29" cy="233.10" r="0.5" fill="#a0b0f0" opacity="0.5"/>
<circle cx="356.64" cy="230.90" r="0.5" fill="#2a40c0" opacity="0.5"/>
<circle cx="346.79" cy="231.25" r="0.5" fill="#3a5ad8" opacity="0.5"/>
<circle cx="345.69" cy="231.74" r="0.5" fill="#6a80e0" opacity="0.5"/>
<circle cx="340.36" cy="232.37" r="0.5" fill="#2a40c0" opacity="0.5"/>
<circle cx="343.00" cy="231.10" r="0.5" fill="#a0b0f0" opacity="0.5"/>
<circle cx="340.14" cy="232.31" r="0.5" fill="#3a5ad8" opacity="0.5"/>
<circle cx="340.87" cy="233.25" r="0.5" fill="#8a9ae8" opacity="0.5"/>
<circle cx="343.40" cy="229.55" r="0.5" fill="#8a9ae8" opacity="0.5"/>
<circle cx="349.00" cy="232.51" r="0.5" fill="#3a5ad8" opacity="0.5"/>
<circle cx="343.23" cy="235.04" r="0.5" fill="#8a9ae8" opacity="0.5"/>
<circle cx="350.40" cy="230.61" r="0.5" fill="#6a80e0" opacity="0.5"/>
<circle cx="343.04" cy="232.31" r="0.5" fill="#3a5ad8" opacity="0.5"/>
<circle cx="337.80" cy="230.10" r="0.5" fill="#a0b0f0" opacity="0.5"/>
<circle cx="350.82" cy="227.79" r="0.5" fill="#a0b0f0" opacity="0.5"/>
<circle cx="337.58" cy="232.40" r="0.5" fill="#a0b0f0" opacity="0.5"/>
<circle cx="341.19" cy="231.38" r="0.5" fill="#8a9ae8" opacity="0.5"/>
<circle cx="352.28" cy="233.16" r="0.5" fill="#2a40c0" opacity="0.5"/>
<circle cx="341.13" cy="230.11" r="0.5" fill="#2a40c0" opacity="0.5"/>
<circle cx="344.66" cy="233.98" r="0.5" fill="#8a9ae8" opacity="0.5"/>
<circle cx="342.27" cy="230.06" r="0.5" fill="#8a9ae8" opacity="0.5"/>
<circle cx="349.89" cy="231.65" r="0.5" fill="#8a9ae8" opacity="0.5"/>
<circle cx="349.13" cy="228.89" r="0.5" fill="#6a80e0" opacity="0.5"/>
<circle cx="344.61" cy="232.71" r="0.5" fill="#3a5ad8" opacity="0.5"/>
<circle cx="351.73" cy="228.09" r="0.5" fill="#8a9ae8" opacity="0.5"/>
<circle cx="354.47" cy="229.60" r="0.5" fill="#a0b0f0" opacity="0.5"/>
<circle cx="336.16" cy="231.90" r="0.5" fill="#6a80e0" opacity="0.5"/>
<circle cx="347.52" cy="231.68" r="0.5" fill="#6a80e0" opacity="0.5"/>
<circle cx="351.26" cy="234.94" r="0.5" fill="#6a80e0" opacity="0.5"/>
<circle cx="345.95" cy="233.43" r="0.5" fill="#a0b0f0" opacity="0.5"/>
<circle cx="349.33" cy="229.75" r="0.5" fill="#8a9ae8" opacity="0.5"/>
<circle cx="349.38" cy="232.50" r="0.5" fill="#a0b0f0" opacity="0.5"/>
<circle cx="348.03" cy="228.24" r="0.5" fill="#2a40c0" opacity="0.5"/>
<circle cx="351.06" cy="233.58" r="0.5" fill="#3a5ad8" opacity="0.5"/>
<circle cx="344.10" cy="233.52" r="0.5" fill="#2a40c0" opacity="0.5"/>
<circle cx="352.43" cy="228.85" r="0.5" fill="#6a80e0" opacity="0.5"/>
<circle cx="342.46" cy="234.01" r="0.5" fill="#2a40c0" opacity="0.5"/>
<circle cx="352.63" cy="232.78" r="0.5" fill="#a0b0f0" opacity="0.5"/>
<circle cx="350.13" cy="232.32" r="0.5" fill="#8a9ae8" opacity="0.5"/>
<circle cx="337.36" cy="229.93" r="0.5" fill="#2a40c0" opacity="0.5"/>
<circle cx="348.26" cy="230.97" r="0.5" fill="#3a5ad8" opacity="0.5"/>
<circle cx="346.73" cy="231.33" r="0.5" fill="#3a5ad8" opacity="0.5"/>
<circle cx="348.44" cy="232.00" r="0.5" fill="#3a5ad8" opacity="0.5"/>
<circle cx="349.87" cy="234.78" r="0.5" fill="#a0b0f0" opacity="0.5"/>
<circle cx="344.46" cy="231.94" r="0.5" fill="#6a80e0" opacity="0.5"/>
<circle cx="345.28" cy="230.45" r="0.5" fill="#3a5ad8" opacity="0.5"/>
<circle cx="337.10" cy="233.12" r="0.5" fill="#a0b0f0" opacity="0.5"/>
<circle cx="350.25" cy="230.54" r="0.5" fill="#8a9ae8" opacity="0.5"/>
<circle cx="345.38" cy="229.69" r="0.5" fill="#6a80e0" opacity="0.5"/>
<circle cx="345.87" cy="231.14" r="0.5" fill="#3a5ad8" opacity="0.5"/>
<circle cx="348.78" cy="227.63" r="0.5" fill="#a0b0f0" opacity="0.5"/>
<circle cx="344.17" cy="233.47" r="0.5" fill="#2a40c0" opacity="0.5"/>
<circle cx="355.59" cy="233.02" r="0.5" fill="#a0b0f0" opacity="0.5"/>
<circle cx="348.72" cy="231.33" r="0.5" fill="#6a80e0" opacity="0.5"/>
<circle cx="348.43" cy="228.06" r="0.5" fill="#a0b0f0" opacity="0.5"/>
<circle cx="350.66" cy="229.67" r="0.5" fill="#8a9ae8" opacity="0.5"/>
<circle cx="346.11" cy="234.23" r="0.5" fill="#8a9ae8" opacity="0.5"/>
<circle cx="348.11" cy="233.45" r="0.5" fill="#8a9ae8" opacity="0.5"/>
<circle cx="353.79" cy="233.33" r="0.5" fill="#3a5ad8" opacity="0.5"/>
<ellipse cx="348.5" cy="232.0" rx="14.5" ry="6.5" fill="none" stroke="#555" stroke-width="0.9"/>
<path d="M366.80,227.50 C362.80,228.70 362.40,233.90 365.20,235.50 C366.40,233.50 367.20,229.90 366.80,227.50 Z" fill="#40b0a0" stroke="#1a4ec0" stroke-width="0.9"/>
<text x="341.50" y="248.00" font-size="6.45" font-weight="bold" fill="#000" textLength="13.99" lengthAdjust="spacingAndGlyphs">6.9%</text>
<rect x="385.40" y="218.30" width="40.40" height="40.60" fill="none" stroke="#c4c4c4" stroke-width="0.7"/>
<line x1="385.40" y1="218.30" x2="385.40" y2="258.90" stroke="#555" stroke-width="0.7"/>
<line x1="385.40" y1="258.90" x2="425.80" y2="258.90" stroke="#555" stroke-width="0.7"/>
<line x1="384.20" y1="222.36" x2="385.40" y2="222.36" stroke="#666" stroke-width="0.5"/>
<text x="383.40" y="223.16" font-size="2.3" text-anchor="end" fill="#999">10</text>
<line x1="384.20" y1="231.70" x2="385.40" y2="231.70" stroke="#666" stroke-width="0.5"/>
<text x="383.40" y="232.50" font-size="2.3" text-anchor="end" fill="#999">10</text>
<line x1="384.20" y1="240.63" x2="385.40" y2="240.63" stroke="#666" stroke-width="0.5"/>
<text x="383.40" y="241.43" font-size="2.3" text-anchor="end" fill="#999">10</text>
<line x1="384.20" y1="250.78" x2="385.40" y2="250.78" stroke="#666" stroke-width="0.5"/>
<text x="383.40" y="251.58" font-size="2.3" text-anchor="end" fill="#999">10</text>
<line x1="384.20" y1="255.65" x2="385.40" y2="255.65" stroke="#666" stroke-width="0.5"/>
<text x="383.40" y="256.45" font-size="2.3" text-anchor="end" fill="#999">10</text>
<line x1="390.25" y1="258.90" x2="390.25" y2="260.10" stroke="#666" stroke-width="0.5"/>
<text x="390.25" y="262.50" font-size="2.3" text-anchor="middle" fill="#999">10</text>
<line x1="393.48" y1="258.90" x2="393.48" y2="260.10" stroke="#666" stroke-width="0.5"/>
<text x="393.48" y="262.50" font-size="2.3" text-anchor="middle" fill="#999">10</text>
<line x1="402.37" y1="258.90" x2="402.37" y2="260.10" stroke="#666" stroke-width="0.5"/>
<text x="402.37" y="262.50" font-size="2.3" text-anchor="middle" fill="#999">10</text>
<line x1="412.06" y1="258.90" x2="412.06" y2="260.10" stroke="#666" stroke-width="0.5"/>
<text x="412.06" y="262.50" font-size="2.3" text-anchor="middle" fill="#999">10</text>
<line x1="421.76" y1="258.90" x2="421.76" y2="260.10" stroke="#666" stroke-width="0.5"/>
<text x="421.76" y="262.50" font-size="2.3" text-anchor="middle" fill="#999">10</text>
<ellipse cx="409.0" cy="229.0" rx="11.0" ry="4.2" fill="#a8b8f0" opacity="0.55"/>
<circle cx="419.19" cy="227.90" r="0.5" fill="#3a5ad8" opacity="0.5"/>
<circle cx="413.52" cy="230.12" r="0.5" fill="#6a80e0" opacity="0.5"/>
<circle cx="408.27" cy="225.84" r="0.5" fill="#8a9ae8" opacity="0.5"/>
<circle cx="408.96" cy="230.42" r="0.5" fill="#3a5ad8" opacity="0.5"/>
<circle cx="406.36" cy="228.44" r="0.5" fill="#2a40c0" opacity="0.5"/>
<circle cx="402.91" cy="226.25" r="0.5" fill="#a0b0f0" opacity="0.5"/>
<circle cx="415.82" cy="228.14" r="0.5" fill="#2a40c0" opacity="0.5"/>
<circle cx="398.77" cy="228.95" r="0.5" fill="#3a5ad8" opacity="0.5"/>
<circle cx="402.13" cy="232.02" r="0.5" fill="#2a40c0" opacity="0.5"/>
<circle cx="400.05" cy="230.78" r="0.5" fill="#6a80e0" opacity="0.5"/>
<circle cx="405.28" cy="228.43" r="0.5" fill="#3a5ad8" opacity="0.5"/>
<circle cx="410.43" cy="230.10" r="0.5" fill="#a0b0f0" opacity="0.5"/>
<circle cx="398.03" cy="228.73" r="0.5" fill="#a0b0f0" opacity="0.5"/>
<circle cx="413.22" cy="232.53" r="0.5" fill="#2a40c0" opacity="0.5"/>
<circle cx="407.99" cy="225.10" r="0.5" fill="#8a9ae8" opacity="0.5"/>
<circle cx="410.31" cy="227.03" r="0.5" fill="#2a40c0" opacity="0.5"/>
<circle cx="413.78" cy="231.92" r="0.5" fill="#2a40c0" opacity="0.5"/>
<circle cx="406.66" cy="227.68" r="0.5" fill="#8a9ae8" opacity="0.5"/>
<circle cx="415.04" cy="227.82" r="0.5" fill="#8a9ae8" opacity="0.5"/>
<circle cx="405.66" cy="226.94" r="0.5" fill="#2a40c0" opacity="0.5"/>
<circle cx="403.80" cy="231.71" r="0.5" fill="#a0b0f0" opacity="0.5"/>
<circle cx="407.91" cy="226.50" r="0.5" fill="#6a80e0" opacity="0.5"/>
<circle cx="417.87" cy="227.67" r="0.5" fill="#6a80e0" opacity="0.5"/>
<circle cx="414.60" cy="226.91" r="0.5" fill="#2a40c0" opacity="0.5"/>
<circle cx="405.10" cy="232.79" r="0.5" fill="#a0b0f0" opacity="0.5"/>
<circle cx="402.67" cy="228.01" r="0.5" fill="#a0b0f0" opacity="0.5"/>
<circle cx="404.86" cy="228.03" r="0.5" fill="#6a80e0" opacity="0.5"/>
<circle cx="403.56" cy="229.15" r="0.5" fill="#a0b0f0" opacity="0.5"/>
<circle cx="415.85" cy="226.61" r="0.5" fill="#8a9ae8" opacity="0.5"/>
<circle cx="407.45" cy="225.12" r="0.5" fill="#6a80e0" opacity="0.5"/>
<circle cx="411.29" cy="228.98" r="0.5" fill="#a0b0f0" opacity="0.5"/>
<circle cx="406.46" cy="227.61" r="0.5" fill="#6a80e0" opacity="0.5"/>
<circle cx="404.74" cy="225.40" r="0.5" fill="#a0b0f0" opacity="0.5"/>
<circle cx="411.85" cy="230.26" r="0.5" fill="#6a80e0" opacity="0.5"/>
<circle cx="410.45" cy="228.80" r="0.5" fill="#3a5ad8" opacity="0.5"/>
<circle cx="414.04" cy="229.72" r="0.5" fill="#6a80e0" opacity="0.5"/>
<circle cx="408.10" cy="228.35" r="0.5" fill="#3a5ad8" opacity="0.5"/>
<circle cx="417.71" cy="229.53" r="0.5" fill="#3a5ad8" opacity="0.5"/>
<circle cx="407.18" cy="229.71" r="0.5" fill="#6a80e0" opacity="0.5"/>
<circle cx="408.33" cy="226.34" r="0.5" fill="#3a5ad8" opacity="0.5"/>
<circle cx="408.08" cy="229.31" r="0.5" fill="#6a80e0" opacity="0.5"/>
<circle cx="409.63" cy="229.34" r="0.5" fill="#8a9ae8" opacity="0.5"/>
<circle cx="416.35" cy="227.86" r="0.5" fill="#3a5ad8" opacity="0.5"/>
<circle cx="407.50" cy="231.48" r="0.5" fill="#8a9ae8" opacity="0.5"/>
<circle cx="400.34" cy="230.11" r="0.5" fill="#3a5ad8" opacity="0.5"/>
<circle cx="416.38" cy="227.01" r="0.5" fill="#a0b0f0" opacity="0.5"/>
<circle cx="407.20" cy="226.61" r="0.5" fill="#6a80e0" opacity="0.5"/>
<circle cx="416.04" cy="230.79" r="0.5" fill="#3a5ad8" opacity="0.5"/>
<circle cx="418.21" cy="229.54" r="0.5" fill="#6a80e0" opacity="0.5"/>
<circle cx="399.81" cy="228.60" r="0.5" fill="#2a40c0" opacity="0.5"/>
<circle cx="406.18" cy="228.90" r="0.5" fill="#8a9ae8" opacity="0.5"/>
<circle cx="408.56" cy="231.95" r="0.5" fill="#2a40c0" opacity="0.5"/>
<circle cx="404.11" cy="226.32" r="0.5" fill="#6a80e0" opacity="0.5"/>
<circle cx="406.99" cy="227.59" r="0.5" fill="#6a80e0" opacity="0.5"/>
<circle cx="410.13" cy="229.69" r="0.5" fill="#6a80e0" opacity="0.5"/>
<circle cx="398.14" cy="228.79" r="0.5" fill="#3a5ad8" opacity="0.5"/>
<circle cx="412.96" cy="228.95" r="0.5" fill="#2a40c0" opacity="0.5"/>
<circle cx="410.69" cy="229.32" r="0.5" fill="#6a80e0" opacity="0.5"/>
<circle cx="402.31" cy="226.47" r="0.5" fill="#8a9ae8" opacity="0.5"/>
<circle cx="408.75" cy="231.30" r="0.5" fill="#a0b0f0" opacity="0.5"/>
<circle cx="409.01" cy="227.88" r="0.5" fill="#2a40c0" opacity="0.5"/>
<circle cx="407.01" cy="229.49" r="0.5" fill="#3a5ad8" opacity="0.5"/>
<circle cx="409.13" cy="229.84" r="0.5" fill="#6a80e0" opacity="0.5"/>
<circle cx="409.01" cy="228.13" r="0.5" fill="#3a5ad8" opacity="0.5"/>
<circle cx="402.62" cy="228.68" r="0.5" fill="#8a9ae8" opacity="0.5"/>
<circle cx="403.55" cy="228.53" r="0.5" fill="#6a80e0" opacity="0.5"/>
<circle cx="408.19" cy="226.68" r="0.5" fill="#a0b0f0" opacity="0.5"/>
<circle cx="416.55" cy="229.39" r="0.5" fill="#2a40c0" opacity="0.5"/>
<circle cx="415.79" cy="227.76" r="0.5" fill="#3a5ad8" opacity="0.5"/>
<circle cx="405.59" cy="226.85" r="0.5" fill="#3a5ad8" opacity="0.5"/>
<circle cx="398.69" cy="228.52" r="0.5" fill="#a0b0f0" opacity="0.5"/>
<circle cx="403.33" cy="231.41" r="0.5" fill="#8a9ae8" opacity="0.5"/>
<circle cx="405.42" cy="232.57" r="0.5" fill="#2a40c0" opacity="0.5"/>
<circle cx="412.86" cy="230.09" r="0.5" fill="#3a5ad8" opacity="0.5"/>
<circle cx="409.58" cy="228.46" r="0.5" fill="#2a40c0" opacity="0.5"/>
<circle cx="399.13" cy="229.88" r="0.5" fill="#a0b0f0" opacity="0.5"/>
<circle cx="413.08" cy="229.78" r="0.5" fill="#8a9ae8" opacity="0.5"/>
<circle cx="405.99" cy="232.14" r="0.5" fill="#6a80e0" opacity="0.5"/>
<circle cx="409.11" cy="227.68" r="0.5" fill="#a0b0f0" opacity="0.5"/>
<circle cx="402.91" cy="231.37" r="0.5" fill="#6a80e0" opacity="0.5"/>
<circle cx="409.13" cy="226.81" r="0.5" fill="#3a5ad8" opacity="0.5"/>
<circle cx="408.93" cy="229.97" r="0.5" fill="#a0b0f0" opacity="0.5"/>
<circle cx="413.74" cy="226.51" r="0.5" fill="#6a80e0" opacity="0.5"/>
<circle cx="408.71" cy="228.71" r="0.5" fill="#2a40c0" opacity="0.5"/>
<circle cx="410.49" cy="225.70" r="0.5" fill="#2a40c0" opacity="0.5"/>
<circle cx="406.29" cy="232.95" r="0.5" fill="#6a80e0" opacity="0.5"/>
<circle cx="410.32" cy="227.40" r="0.5" fill="#a0b0f0" opacity="0.5"/>
<circle cx="414.81" cy="226.51" r="0.5" fill="#2a40c0" opacity="0.5"/>
<circle cx="417.83" cy="227.47" r="0.5" fill="#8a9ae8" opacity="0.5"/>
<circle cx="406.63" cy="229.70" r="0.5" fill="#a0b0f0" opacity="0.5"/>
<circle cx="408.64" cy="231.31" r="0.5" fill="#3a5ad8" opacity="0.5"/>
<circle cx="400.80" cy="227.13" r="0.5" fill="#3a5ad8" opacity="0.5"/>
<circle cx="411.94" cy="229.54" r="0.5" fill="#a0b0f0" opacity="0.5"/>
<circle cx="412.61" cy="230.81" r="0.5" fill="#3a5ad8" opacity="0.5"/>
<circle cx="412.10" cy="225.25" r="0.5" fill="#3a5ad8" opacity="0.5"/>
<circle cx="412.25" cy="230.30" r="0.5" fill="#6a80e0" opacity="0.5"/>
<circle cx="406.39" cy="225.27" r="0.5" fill="#8a9ae8" opacity="0.5"/>
<circle cx="402.51" cy="230.00" r="0.5" fill="#3a5ad8" opacity="0.5"/>
<circle cx="415.07" cy="232.46" r="0.5" fill="#2a40c0" opacity="0.5"/>
<circle cx="414.70" cy="230.50" r="0.5" fill="#a0b0f0" opacity="0.5"/>
<circle cx="408.54" cy="232.88" r="0.5" fill="#2a40c0" opacity="0.5"/>
<circle cx="412.77" cy="228.51" r="0.5" fill="#8a9ae8" opacity="0.5"/>
<circle cx="410.52" cy="226.21" r="0.5" fill="#6a80e0" opacity="0.5"/>
<circle cx="400.46" cy="229.69" r="0.5" fill="#a0b0f0" opacity="0.5"/>
<circle cx="402.40" cy="231.27" r="0.5" fill="#2a40c0" opacity="0.5"/>
<circle cx="402.41" cy="228.84" r="0.5" fill="#2a40c0" opacity="0.5"/>
<circle cx="408.79" cy="232.37" r="0.5" fill="#2a40c0" opacity="0.5"/>
<circle cx="407.20" cy="226.61" r="0.5" fill="#a0b0f0" opacity="0.5"/>
<circle cx="404.65" cy="231.99" r="0.5" fill="#3a5ad8" opacity="0.5"/>
<circle cx="409.72" cy="225.26" r="0.5" fill="#6a80e0" opacity="0.5"/>
<circle cx="405.66" cy="228.73" r="0.5" fill="#2a40c0" opacity="0.5"/>
<circle cx="416.92" cy="228.56" r="0.5" fill="#3a5ad8" opacity="0.5"/>
<circle cx="406.31" cy="231.46" r="0.5" fill="#2a40c0" opacity="0.5"/>
<circle cx="403.40" cy="226.05" r="0.5" fill="#3a5ad8" opacity="0.5"/>
<circle cx="405.91" cy="229.82" r="0.5" fill="#a0b0f0" opacity="0.5"/>
<circle cx="400.95" cy="226.57" r="0.5" fill="#3a5ad8" opacity="0.5"/>
<circle cx="403.37" cy="230.78" r="0.5" fill="#6a80e0" opacity="0.5"/>
<circle cx="407.41" cy="232.92" r="0.5" fill="#a0b0f0" opacity="0.5"/>
<circle cx="412.39" cy="232.36" r="0.5" fill="#6a80e0" opacity="0.5"/>
<circle cx="417.37" cy="229.17" r="0.5" fill="#2a40c0" opacity="0.5"/>
<circle cx="408.83" cy="231.82" r="0.5" fill="#2a40c0" opacity="0.5"/>
<circle cx="406.49" cy="224.99" r="0.5" fill="#3a5ad8" opacity="0.5"/>
<circle cx="402.96" cy="232.17" r="0.5" fill="#a0b0f0" opacity="0.5"/>
<circle cx="413.27" cy="226.32" r="0.5" fill="#a0b0f0" opacity="0.5"/>
<circle cx="400.68" cy="229.30" r="0.5" fill="#8a9ae8" opacity="0.5"/>
<circle cx="399.29" cy="229.97" r="0.5" fill="#2a40c0" opacity="0.5"/>
<circle cx="410.85" cy="229.12" r="0.5" fill="#8a9ae8" opacity="0.5"/>
<circle cx="413.15" cy="232.05" r="0.5" fill="#2a40c0" opacity="0.5"/>
<circle cx="408.74" cy="232.02" r="0.5" fill="#6a80e0" opacity="0.5"/>
<circle cx="415.38" cy="229.86" r="0.5" fill="#2a40c0" opacity="0.5"/>
<ellipse cx="403.5" cy="227.3" rx="3.8" ry="1.8" fill="#48b078" opacity="0.6"/>
<line x1="419.5" y1="224.5" x2="419.5" y2="233.5" stroke="#5a7ae0" stroke-width="0.6" opacity="0.6"/>
<line x1="421.0" y1="224.8" x2="421.0" y2="233.2" stroke="#5a7ae0" stroke-width="0.6" opacity="0.6"/>
<line x1="422.5" y1="225.1" x2="422.5" y2="232.9" stroke="#5a7ae0" stroke-width="0.6" opacity="0.6"/>
<line x1="424.0" y1="225.4" x2="424.0" y2="232.6" stroke="#5a7ae0" stroke-width="0.6" opacity="0.6"/>
<ellipse cx="406.5" cy="228.8" rx="15.4" ry="7.3" fill="none" stroke="#555" stroke-width="0.9"/>
<text x="396.00" y="249.00" font-size="7.11" font-weight="bold" fill="#000" textLength="19.20" lengthAdjust="spacingAndGlyphs" stroke="#000" stroke-width="0.18">79.6%</text>
<rect x="441.20" y="218.20" width="39.50" height="40.60" fill="none" stroke="#c4c4c4" stroke-width="0.7"/>
<line x1="441.20" y1="218.20" x2="441.20" y2="258.80" stroke="#555" stroke-width="0.7"/>
<line x1="441.20" y1="258.80" x2="480.70" y2="258.80" stroke="#555" stroke-width="0.7"/>
<line x1="440.00" y1="222.26" x2="441.20" y2="222.26" stroke="#666" stroke-width="0.5"/>
<text x="439.20" y="223.06" font-size="2.3" text-anchor="end" fill="#999">10</text>
<line x1="440.00" y1="231.60" x2="441.20" y2="231.60" stroke="#666" stroke-width="0.5"/>
<text x="439.20" y="232.40" font-size="2.3" text-anchor="end" fill="#999">10</text>
<line x1="440.00" y1="240.53" x2="441.20" y2="240.53" stroke="#666" stroke-width="0.5"/>
<text x="439.20" y="241.33" font-size="2.3" text-anchor="end" fill="#999">10</text>
<line x1="440.00" y1="250.68" x2="441.20" y2="250.68" stroke="#666" stroke-width="0.5"/>
<text x="439.20" y="251.48" font-size="2.3" text-anchor="end" fill="#999">10</text>
<line x1="440.00" y1="255.55" x2="441.20" y2="255.55" stroke="#666" stroke-width="0.5"/>
<text x="439.20" y="256.35" font-size="2.3" text-anchor="end" fill="#999">10</text>
<line x1="445.94" y1="258.80" x2="445.94" y2="260.00" stroke="#666" stroke-width="0.5"/>
<text x="445.94" y="262.40" font-size="2.3" text-anchor="middle" fill="#999">10</text>
<line x1="449.10" y1="258.80" x2="449.10" y2="260.00" stroke="#666" stroke-width="0.5"/>
<text x="449.10" y="262.40" font-size="2.3" text-anchor="middle" fill="#999">10</text>
<line x1="457.79" y1="258.80" x2="457.79" y2="260.00" stroke="#666" stroke-width="0.5"/>
<text x="457.79" y="262.40" font-size="2.3" text-anchor="middle" fill="#999">10</text>
<line x1="467.27" y1="258.80" x2="467.27" y2="260.00" stroke="#666" stroke-width="0.5"/>
<text x="467.27" y="262.40" font-size="2.3" text-anchor="middle" fill="#999">10</text>
<line x1="476.75" y1="258.80" x2="476.75" y2="260.00" stroke="#666" stroke-width="0.5"/>
<text x="476.75" y="262.40" font-size="2.3" text-anchor="middle" fill="#999">10</text>
<path d="M444,249 C450,246 455,238 462,236 C467,235 474,236 478,238 L478,249 C470,251 455,252 444,249 Z" fill="#c0c8f4" opacity="0.45"/>
<circle cx="458.64" cy="247.41" r="0.5" fill="#8a9ae8" opacity="0.5"/>
<circle cx="464.66" cy="241.71" r="0.5" fill="#a0b0f0" opacity="0.5"/>
<circle cx="458.58" cy="243.62" r="0.5" fill="#2a40c0" opacity="0.5"/>
<circle cx="457.72" cy="245.67" r="0.5" fill="#2a40c0" opacity="0.5"/>
<circle cx="449.73" cy="242.50" r="0.5" fill="#2a40c0" opacity="0.5"/>
<circle cx="455.78" cy="242.28" r="0.5" fill="#6a80e0" opacity="0.5"/>
<circle cx="463.58" cy="240.69" r="0.5" fill="#3a5ad8" opacity="0.5"/>
<circle cx="457.10" cy="242.73" r="0.5" fill="#a0b0f0" opacity="0.5"/>
<circle cx="468.53" cy="244.84" r="0.5" fill="#8a9ae8" opacity="0.5"/>
<circle cx="447.83" cy="244.31" r="0.5" fill="#2a40c0" opacity="0.5"/>
<circle cx="455.26" cy="237.98" r="0.5" fill="#2a40c0" opacity="0.5"/>
<circle cx="456.79" cy="239.46" r="0.5" fill="#6a80e0" opacity="0.5"/>
<circle cx="459.84" cy="242.69" r="0.5" fill="#6a80e0" opacity="0.5"/>
<circle cx="452.97" cy="243.57" r="0.5" fill="#2a40c0" opacity="0.5"/>
<circle cx="460.11" cy="238.21" r="0.5" fill="#2a40c0" opacity="0.5"/>
<circle cx="451.33" cy="243.36" r="0.5" fill="#8a9ae8" opacity="0.5"/>
<circle cx="451.22" cy="242.82" r="0.5" fill="#6a80e0" opacity="0.5"/>
<circle cx="466.20" cy="240.90" r="0.5" fill="#3a5ad8" opacity="0.5"/>
<circle cx="466.01" cy="238.82" r="0.5" fill="#6a80e0" opacity="0.5"/>
<circle cx="456.12" cy="240.90" r="0.5" fill="#a0b0f0" opacity="0.5"/>
<circle cx="465.24" cy="241.22" r="0.5" fill="#6a80e0" opacity="0.5"/>
<circle cx="449.35" cy="239.09" r="0.5" fill="#8a9ae8" opacity="0.5"/>
<circle cx="457.59" cy="244.35" r="0.5" fill="#2a40c0" opacity="0.5"/>
<circle cx="467.45" cy="246.21" r="0.5" fill="#2a40c0" opacity="0.5"/>
<circle cx="458.67" cy="243.27" r="0.5" fill="#2a40c0" opacity="0.5"/>
<circle cx="459.39" cy="238.08" r="0.5" fill="#3a5ad8" opacity="0.5"/>
<circle cx="449.51" cy="240.46" r="0.5" fill="#2a40c0" opacity="0.5"/>
<circle cx="456.82" cy="240.79" r="0.5" fill="#8a9ae8" opacity="0.5"/>
<circle cx="445.02" cy="243.30" r="0.5" fill="#8a9ae8" opacity="0.5"/>
<circle cx="460.74" cy="243.56" r="0.5" fill="#a0b0f0" opacity="0.5"/>
<circle cx="462.09" cy="243.88" r="0.5" fill="#2a40c0" opacity="0.5"/>
<circle cx="456.68" cy="245.78" r="0.5" fill="#3a5ad8" opacity="0.5"/>
<circle cx="464.06" cy="243.14" r="0.5" fill="#8a9ae8" opacity="0.5"/>
<circle cx="469.64" cy="242.07" r="0.5" fill="#2a40c0" opacity="0.5"/>
<circle cx="449.57" cy="247.31" r="0.5" fill="#2a40c0" opacity="0.5"/>
<circle cx="452.41" cy="240.22" r="0.5" fill="#a0b0f0" opacity="0.5"/>
<circle cx="468.19" cy="247.04" r="0.5" fill="#a0b0f0" opacity="0.5"/>
<circle cx="456.74" cy="247.82" r="0.5" fill="#6a80e0" opacity="0.5"/>
<circle cx="464.71" cy="242.19" r="0.5" fill="#8a9ae8" opacity="0.5"/>
<circle cx="449.54" cy="242.98" r="0.5" fill="#3a5ad8" opacity="0.5"/>
<circle cx="461.08" cy="237.72" r="0.5" fill="#8a9ae8" opacity="0.5"/>
<circle cx="467.19" cy="244.04" r="0.5" fill="#6a80e0" opacity="0.5"/>
<circle cx="466.72" cy="245.10" r="0.5" fill="#2a40c0" opacity="0.5"/>
<circle cx="450.63" cy="248.01" r="0.5" fill="#a0b0f0" opacity="0.5"/>
<circle cx="455.19" cy="238.83" r="0.5" fill="#3a5ad8" opacity="0.5"/>
<circle cx="447.35" cy="240.41" r="0.5" fill="#3a5ad8" opacity="0.5"/>
<circle cx="462.81" cy="242.98" r="0.5" fill="#2a40c0" opacity="0.5"/>
<circle cx="455.26" cy="247.51" r="0.5" fill="#6a80e0" opacity="0.5"/>
<circle cx="454.22" cy="245.51" r="0.5" fill="#8a9ae8" opacity="0.5"/>
<circle cx="460.85" cy="241.54" r="0.5" fill="#2a40c0" opacity="0.5"/>
<circle cx="466.89" cy="246.68" r="0.5" fill="#a0b0f0" opacity="0.5"/>
<circle cx="456.73" cy="242.17" r="0.5" fill="#a0b0f0" opacity="0.5"/>
<circle cx="459.92" cy="248.57" r="0.5" fill="#6a80e0" opacity="0.5"/>
<circle cx="453.35" cy="247.54" r="0.5" fill="#3a5ad8" opacity="0.5"/>
<circle cx="462.72" cy="245.12" r="0.5" fill="#8a9ae8" opacity="0.5"/>
<circle cx="455.92" cy="241.62" r="0.5" fill="#6a80e0" opacity="0.5"/>
<circle cx="467.25" cy="245.84" r="0.5" fill="#6a80e0" opacity="0.5"/>
<circle cx="463.58" cy="241.23" r="0.5" fill="#6a80e0" opacity="0.5"/>
<circle cx="458.28" cy="242.95" r="0.5" fill="#6a80e0" opacity="0.5"/>
<circle cx="453.44" cy="248.36" r="0.5" fill="#a0b0f0" opacity="0.5"/>
<circle cx="460.15" cy="245.74" r="0.5" fill="#3a5ad8" opacity="0.5"/>
<circle cx="460.14" cy="240.83" r="0.5" fill="#6a80e0" opacity="0.5"/>
<circle cx="450.78" cy="245.30" r="0.5" fill="#8a9ae8" opacity="0.5"/>
<circle cx="448.78" cy="244.46" r="0.5" fill="#8a9ae8" opacity="0.5"/>
<circle cx="451.91" cy="245.05" r="0.5" fill="#2a40c0" opacity="0.5"/>
<circle cx="458.17" cy="243.62" r="0.5" fill="#a0b0f0" opacity="0.5"/>
<circle cx="465.23" cy="243.22" r="0.5" fill="#6a80e0" opacity="0.5"/>
<circle cx="465.36" cy="244.20" r="0.5" fill="#a0b0f0" opacity="0.5"/>
<circle cx="466.26" cy="242.61" r="0.5" fill="#6a80e0" opacity="0.5"/>
<circle cx="465.53" cy="239.38" r="0.5" fill="#8a9ae8" opacity="0.5"/>
<circle cx="461.54" cy="245.03" r="0.5" fill="#3a5ad8" opacity="0.5"/>
<circle cx="466.27" cy="240.86" r="0.5" fill="#6a80e0" opacity="0.5"/>
<circle cx="467.61" cy="240.13" r="0.5" fill="#a0b0f0" opacity="0.5"/>
<circle cx="465.42" cy="244.60" r="0.5" fill="#3a5ad8" opacity="0.5"/>
<circle cx="460.64" cy="245.78" r="0.5" fill="#3a5ad8" opacity="0.5"/>
<circle cx="451.08" cy="242.99" r="0.5" fill="#a0b0f0" opacity="0.5"/>
<circle cx="460.30" cy="244.42" r="0.5" fill="#a0b0f0" opacity="0.5"/>
<circle cx="447.16" cy="244.22" r="0.5" fill="#8a9ae8" opacity="0.5"/>
<circle cx="458.54" cy="244.85" r="0.5" fill="#3a5ad8" opacity="0.5"/>
<circle cx="463.24" cy="247.98" r="0.5" fill="#6a80e0" opacity="0.5"/>
<circle cx="458.19" cy="243.33" r="0.5" fill="#a0b0f0" opacity="0.5"/>
<circle cx="459.04" cy="242.94" r="0.5" fill="#8a9ae8" opacity="0.5"/>
<circle cx="458.10" cy="247.78" r="0.5" fill="#a0b0f0" opacity="0.5"/>
<circle cx="451.19" cy="245.15" r="0.5" fill="#3a5ad8" opacity="0.5"/>
<circle cx="464.77" cy="239.57" r="0.5" fill="#3a5ad8" opacity="0.5"/>
<circle cx="459.41" cy="244.15" r="0.5" fill="#3a5ad8" opacity="0.5"/>
<circle cx="459.43" cy="242.65" r="0.5" fill="#a0b0f0" opacity="0.5"/>
<circle cx="454.45" cy="243.60" r="0.5" fill="#3a5ad8" opacity="0.5"/>
<circle cx="452.30" cy="247.06" r="0.5" fill="#a0b0f0" opacity="0.5"/>
<circle cx="456.29" cy="245.73" r="0.5" fill="#8a9ae8" opacity="0.5"/>
<circle cx="455.23" cy="244.12" r="0.5" fill="#3a5ad8" opacity="0.5"/>
<circle cx="456.60" cy="240.52" r="0.5" fill="#3a5ad8" opacity="0.5"/>
<circle cx="456.69" cy="243.23" r="0.5" fill="#2a40c0" opacity="0.5"/>
<circle cx="449.32" cy="240.42" r="0.5" fill="#2a40c0" opacity="0.5"/>
<circle cx="457.05" cy="242.99" r="0.5" fill="#2a40c0" opacity="0.5"/>
<circle cx="466.86" cy="244.92" r="0.5" fill="#8a9ae8" opacity="0.5"/>
<circle cx="449.16" cy="245.73" r="0.5" fill="#2a40c0" opacity="0.5"/>
<circle cx="462.46" cy="243.73" r="0.5" fill="#8a9ae8" opacity="0.5"/>
<circle cx="457.31" cy="242.61" r="0.5" fill="#2a40c0" opacity="0.5"/>
<circle cx="458.50" cy="244.92" r="0.5" fill="#3a5ad8" opacity="0.5"/>
<circle cx="464.02" cy="242.33" r="0.5" fill="#a0b0f0" opacity="0.5"/>
<circle cx="459.29" cy="241.23" r="0.5" fill="#2a40c0" opacity="0.5"/>
<circle cx="453.46" cy="238.15" r="0.5" fill="#a0b0f0" opacity="0.5"/>
<circle cx="460.58" cy="239.14" r="0.5" fill="#8a9ae8" opacity="0.5"/>
<circle cx="455.56" cy="243.02" r="0.5" fill="#a0b0f0" opacity="0.5"/>
<circle cx="456.39" cy="240.02" r="0.5" fill="#6a80e0" opacity="0.5"/>
<circle cx="458.22" cy="242.83" r="0.5" fill="#3a5ad8" opacity="0.5"/>
<circle cx="449.07" cy="241.74" r="0.5" fill="#2a40c0" opacity="0.5"/>
<circle cx="458.41" cy="243.89" r="0.5" fill="#3a5ad8" opacity="0.5"/>
<circle cx="460.83" cy="243.71" r="0.5" fill="#2a40c0" opacity="0.5"/>
<circle cx="464.47" cy="238.53" r="0.5" fill="#a0b0f0" opacity="0.5"/>
<circle cx="457.27" cy="244.55" r="0.5" fill="#a0b0f0" opacity="0.5"/>
<circle cx="447.75" cy="243.16" r="0.5" fill="#3a5ad8" opacity="0.5"/>
<circle cx="455.56" cy="243.10" r="0.5" fill="#a0b0f0" opacity="0.5"/>
<circle cx="463.48" cy="244.52" r="0.5" fill="#a0b0f0" opacity="0.5"/>
<circle cx="458.92" cy="244.41" r="0.5" fill="#6a80e0" opacity="0.5"/>
<circle cx="453.45" cy="240.76" r="0.5" fill="#2a40c0" opacity="0.5"/>
<circle cx="457.84" cy="247.69" r="0.5" fill="#8a9ae8" opacity="0.5"/>
<circle cx="446.10" cy="241.46" r="0.5" fill="#2a40c0" opacity="0.5"/>
<circle cx="445.25" cy="243.49" r="0.5" fill="#2a40c0" opacity="0.5"/>
<circle cx="465.04" cy="238.62" r="0.5" fill="#2a40c0" opacity="0.5"/>
<circle cx="454.12" cy="238.90" r="0.5" fill="#a0b0f0" opacity="0.5"/>
<circle cx="456.60" cy="242.00" r="0.5" fill="#2a40c0" opacity="0.5"/>
<circle cx="460.74" cy="242.55" r="0.5" fill="#3a5ad8" opacity="0.5"/>
<circle cx="450.18" cy="243.55" r="0.5" fill="#a0b0f0" opacity="0.5"/>
<circle cx="466.52" cy="242.24" r="0.5" fill="#6a80e0" opacity="0.5"/>
<circle cx="464.98" cy="247.21" r="0.5" fill="#6a80e0" opacity="0.5"/>
<circle cx="453.03" cy="242.13" r="0.5" fill="#6a80e0" opacity="0.5"/>
<circle cx="463.01" cy="240.38" r="0.5" fill="#8a9ae8" opacity="0.5"/>
<circle cx="452.47" cy="238.77" r="0.5" fill="#a0b0f0" opacity="0.5"/>
<line x1="464.5" y1="236" x2="464.5" y2="249" stroke="#6a80e0" stroke-width="0.7" opacity="0.55"/>
<line x1="467.0" y1="237" x2="467.0" y2="248" stroke="#6a80e0" stroke-width="0.7" opacity="0.55"/>
<line x1="469.5" y1="236" x2="469.5" y2="247" stroke="#6a80e0" stroke-width="0.7" opacity="0.55"/>
<line x1="472.0" y1="237" x2="472.0" y2="249" stroke="#6a80e0" stroke-width="0.7" opacity="0.55"/>
<line x1="474.5" y1="236" x2="474.5" y2="248" stroke="#6a80e0" stroke-width="0.7" opacity="0.55"/>
<ellipse cx="459.8" cy="242.4" rx="17.6" ry="9.4" fill="none" stroke="#555" stroke-width="0.9"/>
<path d="M480.30,236.00 C476.30,237.80 475.90,245.60 478.70,248.00 C479.90,245.00 480.70,239.60 480.30,236.00 Z" fill="#40b0a0" stroke="#1a4ec0" stroke-width="0.9"/>
<ellipse cx="478.8" cy="242" rx="1.0" ry="3.5" fill="#c8d030"/>
<text x="454.20" y="229.10" font-size="6.83" font-weight="bold" fill="#000" textLength="13.01" lengthAdjust="spacingAndGlyphs" stroke="#000" stroke-width="0.17">38%</text>
<rect x="327.50" y="273.80" width="41.20" height="41.40" fill="none" stroke="#c4c4c4" stroke-width="0.7"/>
<line x1="327.50" y1="273.80" x2="327.50" y2="315.20" stroke="#555" stroke-width="0.7"/>
<line x1="327.50" y1="315.20" x2="368.70" y2="315.20" stroke="#555" stroke-width="0.7"/>
<line x1="326.30" y1="277.94" x2="327.50" y2="277.94" stroke="#666" stroke-width="0.5"/>
<text x="325.50" y="278.74" font-size="2.3" text-anchor="end" fill="#999">10</text>
<line x1="326.30" y1="287.46" x2="327.50" y2="287.46" stroke="#666" stroke-width="0.5"/>
<text x="325.50" y="288.26" font-size="2.3" text-anchor="end" fill="#999">10</text>
<line x1="326.30" y1="296.57" x2="327.50" y2="296.57" stroke="#666" stroke-width="0.5"/>
<text x="325.50" y="297.37" font-size="2.3" text-anchor="end" fill="#999">10</text>
<line x1="326.30" y1="306.92" x2="327.50" y2="306.92" stroke="#666" stroke-width="0.5"/>
<text x="325.50" y="307.72" font-size="2.3" text-anchor="end" fill="#999">10</text>
<line x1="326.30" y1="311.89" x2="327.50" y2="311.89" stroke="#666" stroke-width="0.5"/>
<text x="325.50" y="312.69" font-size="2.3" text-anchor="end" fill="#999">10</text>
<line x1="332.44" y1="315.20" x2="332.44" y2="316.40" stroke="#666" stroke-width="0.5"/>
<text x="332.44" y="318.80" font-size="2.3" text-anchor="middle" fill="#999">10</text>
<line x1="335.74" y1="315.20" x2="335.74" y2="316.40" stroke="#666" stroke-width="0.5"/>
<text x="335.74" y="318.80" font-size="2.3" text-anchor="middle" fill="#999">10</text>
<line x1="344.80" y1="315.20" x2="344.80" y2="316.40" stroke="#666" stroke-width="0.5"/>
<text x="344.80" y="318.80" font-size="2.3" text-anchor="middle" fill="#999">10</text>
<line x1="354.69" y1="315.20" x2="354.69" y2="316.40" stroke="#666" stroke-width="0.5"/>
<text x="354.69" y="318.80" font-size="2.3" text-anchor="middle" fill="#999">10</text>
<line x1="364.58" y1="315.20" x2="364.58" y2="316.40" stroke="#666" stroke-width="0.5"/>
<text x="364.58" y="318.80" font-size="2.3" text-anchor="middle" fill="#999">10</text>
<ellipse cx="348.5" cy="286.9" rx="15.2" ry="6.7" fill="none" stroke="#555" stroke-width="0.9"/>
<path d="M367.30,283.20 C363.30,284.34 362.90,289.28 365.70,290.80 C366.90,288.90 367.70,285.48 367.30,283.20 Z" fill="#4aa0e0" stroke="#1a4ec0" stroke-width="0.9"/>
<text x="341.30" y="303.00" font-size="6.68" font-weight="bold" fill="#000" textLength="14.50" lengthAdjust="spacingAndGlyphs" stroke="#000" stroke-width="0.17">0.5%</text>
<rect x="385.40" y="274.40" width="40.40" height="41.80" fill="none" stroke="#c4c4c4" stroke-width="0.7"/>
<line x1="385.40" y1="274.40" x2="385.40" y2="316.20" stroke="#555" stroke-width="0.7"/>
<line x1="385.40" y1="316.20" x2="425.80" y2="316.20" stroke="#555" stroke-width="0.7"/>
<line x1="384.20" y1="278.58" x2="385.40" y2="278.58" stroke="#666" stroke-width="0.5"/>
<text x="383.40" y="279.38" font-size="2.3" text-anchor="end" fill="#999">10</text>
<line x1="384.20" y1="288.19" x2="385.40" y2="288.19" stroke="#666" stroke-width="0.5"/>
<text x="383.40" y="288.99" font-size="2.3" text-anchor="end" fill="#999">10</text>
<line x1="384.20" y1="297.39" x2="385.40" y2="297.39" stroke="#666" stroke-width="0.5"/>
<text x="383.40" y="298.19" font-size="2.3" text-anchor="end" fill="#999">10</text>
<line x1="384.20" y1="307.84" x2="385.40" y2="307.84" stroke="#666" stroke-width="0.5"/>
<text x="383.40" y="308.64" font-size="2.3" text-anchor="end" fill="#999">10</text>
<line x1="384.20" y1="312.86" x2="385.40" y2="312.86" stroke="#666" stroke-width="0.5"/>
<text x="383.40" y="313.66" font-size="2.3" text-anchor="end" fill="#999">10</text>
<line x1="390.25" y1="316.20" x2="390.25" y2="317.40" stroke="#666" stroke-width="0.5"/>
<text x="390.25" y="319.80" font-size="2.3" text-anchor="middle" fill="#999">10</text>
<line x1="393.48" y1="316.20" x2="393.48" y2="317.40" stroke="#666" stroke-width="0.5"/>
<text x="393.48" y="319.80" font-size="2.3" text-anchor="middle" fill="#999">10</text>
<line x1="402.37" y1="316.20" x2="402.37" y2="317.40" stroke="#666" stroke-width="0.5"/>
<text x="402.37" y="319.80" font-size="2.3" text-anchor="middle" fill="#999">10</text>
<line x1="412.06" y1="316.20" x2="412.06" y2="317.40" stroke="#666" stroke-width="0.5"/>
<text x="412.06" y="319.80" font-size="2.3" text-anchor="middle" fill="#999">10</text>
<line x1="421.76" y1="316.20" x2="421.76" y2="317.40" stroke="#666" stroke-width="0.5"/>
<text x="421.76" y="319.80" font-size="2.3" text-anchor="middle" fill="#999">10</text>
<ellipse cx="404.2" cy="287.0" rx="14.8" ry="7.4" fill="none" stroke="#555" stroke-width="0.9"/>
<path d="M424.60,282.50 C420.60,283.70 420.20,288.90 423.00,290.50 C424.20,288.50 425.00,284.90 424.60,282.50 Z" fill="#40b0a0" stroke="#1a4ec0" stroke-width="0.9"/>
<text x="398.80" y="302.70" font-size="6.45" font-weight="bold" fill="#000" textLength="13.99" lengthAdjust="spacingAndGlyphs">1.3%</text>
<rect x="439.20" y="275.20" width="40.40" height="41.00" fill="none" stroke="#c4c4c4" stroke-width="0.7"/>
<line x1="439.20" y1="275.20" x2="439.20" y2="316.20" stroke="#555" stroke-width="0.7"/>
<line x1="439.20" y1="316.20" x2="479.60" y2="316.20" stroke="#555" stroke-width="0.7"/>
<line x1="438.00" y1="279.30" x2="439.20" y2="279.30" stroke="#666" stroke-width="0.5"/>
<text x="437.20" y="280.10" font-size="2.3" text-anchor="end" fill="#999">10</text>
<line x1="438.00" y1="288.73" x2="439.20" y2="288.73" stroke="#666" stroke-width="0.5"/>
<text x="437.20" y="289.53" font-size="2.3" text-anchor="end" fill="#999">10</text>
<line x1="438.00" y1="297.75" x2="439.20" y2="297.75" stroke="#666" stroke-width="0.5"/>
<text x="437.20" y="298.55" font-size="2.3" text-anchor="end" fill="#999">10</text>
<line x1="438.00" y1="308.00" x2="439.20" y2="308.00" stroke="#666" stroke-width="0.5"/>
<text x="437.20" y="308.80" font-size="2.3" text-anchor="end" fill="#999">10</text>
<line x1="438.00" y1="312.92" x2="439.20" y2="312.92" stroke="#666" stroke-width="0.5"/>
<text x="437.20" y="313.72" font-size="2.3" text-anchor="end" fill="#999">10</text>
<line x1="444.05" y1="316.20" x2="444.05" y2="317.40" stroke="#666" stroke-width="0.5"/>
<text x="444.05" y="319.80" font-size="2.3" text-anchor="middle" fill="#999">10</text>
<line x1="447.28" y1="316.20" x2="447.28" y2="317.40" stroke="#666" stroke-width="0.5"/>
<text x="447.28" y="319.80" font-size="2.3" text-anchor="middle" fill="#999">10</text>
<line x1="456.17" y1="316.20" x2="456.17" y2="317.40" stroke="#666" stroke-width="0.5"/>
<text x="456.17" y="319.80" font-size="2.3" text-anchor="middle" fill="#999">10</text>
<line x1="465.86" y1="316.20" x2="465.86" y2="317.40" stroke="#666" stroke-width="0.5"/>
<text x="465.86" y="319.80" font-size="2.3" text-anchor="middle" fill="#999">10</text>
<line x1="475.56" y1="316.20" x2="475.56" y2="317.40" stroke="#666" stroke-width="0.5"/>
<text x="475.56" y="319.80" font-size="2.3" text-anchor="middle" fill="#999">10</text>
<ellipse cx="455.0" cy="300.5" rx="12.0" ry="5.5" fill="#b8c4f2" opacity="0.5"/>
<circle cx="453.20" cy="301.62" r="0.5" fill="#2a40c0" opacity="0.5"/>
<circle cx="450.98" cy="300.64" r="0.5" fill="#3a5ad8" opacity="0.5"/>
<circle cx="444.56" cy="303.50" r="0.5" fill="#3a5ad8" opacity="0.5"/>
<circle cx="454.25" cy="304.00" r="0.5" fill="#8a9ae8" opacity="0.5"/>
<circle cx="454.79" cy="295.77" r="0.5" fill="#8a9ae8" opacity="0.5"/>
<circle cx="455.32" cy="305.59" r="0.5" fill="#8a9ae8" opacity="0.5"/>
<circle cx="454.09" cy="298.85" r="0.5" fill="#8a9ae8" opacity="0.5"/>
<circle cx="450.55" cy="305.32" r="0.5" fill="#8a9ae8" opacity="0.5"/>
<circle cx="459.62" cy="302.51" r="0.5" fill="#2a40c0" opacity="0.5"/>
<circle cx="449.72" cy="300.44" r="0.5" fill="#2a40c0" opacity="0.5"/>
<circle cx="451.02" cy="305.69" r="0.5" fill="#a0b0f0" opacity="0.5"/>
<circle cx="453.19" cy="300.35" r="0.5" fill="#8a9ae8" opacity="0.5"/>
<circle cx="443.95" cy="298.29" r="0.5" fill="#a0b0f0" opacity="0.5"/>
<circle cx="455.04" cy="303.34" r="0.5" fill="#8a9ae8" opacity="0.5"/>
<circle cx="450.22" cy="301.14" r="0.5" fill="#8a9ae8" opacity="0.5"/>
<circle cx="452.43" cy="305.19" r="0.5" fill="#3a5ad8" opacity="0.5"/>
<circle cx="460.59" cy="301.64" r="0.5" fill="#8a9ae8" opacity="0.5"/>
<circle cx="444.94" cy="300.02" r="0.5" fill="#8a9ae8" opacity="0.5"/>
<circle cx="458.11" cy="303.80" r="0.5" fill="#3a5ad8" opacity="0.5"/>
<circle cx="449.93" cy="301.44" r="0.5" fill="#2a40c0" opacity="0.5"/>
<circle cx="452.12" cy="303.13" r="0.5" fill="#a0b0f0" opacity="0.5"/>
<circle cx="449.86" cy="303.80" r="0.5" fill="#8a9ae8" opacity="0.5"/>
<circle cx="454.26" cy="300.96" r="0.5" fill="#6a80e0" opacity="0.5"/>
<circle cx="451.71" cy="304.21" r="0.5" fill="#6a80e0" opacity="0.5"/>
<circle cx="460.55" cy="304.14" r="0.5" fill="#8a9ae8" opacity="0.5"/>
<circle cx="451.83" cy="300.65" r="0.5" fill="#3a5ad8" opacity="0.5"/>
<circle cx="461.45" cy="297.26" r="0.5" fill="#8a9ae8" opacity="0.5"/>
<circle cx="457.58" cy="300.76" r="0.5" fill="#6a80e0" opacity="0.5"/>
<circle cx="453.93" cy="297.59" r="0.5" fill="#a0b0f0" opacity="0.5"/>
<circle cx="452.22" cy="299.67" r="0.5" fill="#a0b0f0" opacity="0.5"/>
<circle cx="455.24" cy="303.41" r="0.5" fill="#6a80e0" opacity="0.5"/>
<circle cx="453.00" cy="304.34" r="0.5" fill="#6a80e0" opacity="0.5"/>
<circle cx="452.80" cy="300.68" r="0.5" fill="#3a5ad8" opacity="0.5"/>
<circle cx="447.78" cy="301.26" r="0.5" fill="#8a9ae8" opacity="0.5"/>
<circle cx="460.43" cy="300.43" r="0.5" fill="#2a40c0" opacity="0.5"/>
<circle cx="458.99" cy="300.15" r="0.5" fill="#6a80e0" opacity="0.5"/>
<circle cx="454.19" cy="301.02" r="0.5" fill="#6a80e0" opacity="0.5"/>
<circle cx="444.11" cy="297.46" r="0.5" fill="#a0b0f0" opacity="0.5"/>
<circle cx="459.46" cy="301.35" r="0.5" fill="#6a80e0" opacity="0.5"/>
<circle cx="452.54" cy="300.98" r="0.5" fill="#a0b0f0" opacity="0.5"/>
<circle cx="450.08" cy="305.79" r="0.5" fill="#6a80e0" opacity="0.5"/>
<circle cx="448.97" cy="300.78" r="0.5" fill="#2a40c0" opacity="0.5"/>
<circle cx="449.20" cy="300.60" r="0.5" fill="#2a40c0" opacity="0.5"/>
<circle cx="453.09" cy="305.57" r="0.5" fill="#6a80e0" opacity="0.5"/>
<circle cx="452.02" cy="300.50" r="0.5" fill="#8a9ae8" opacity="0.5"/>
<circle cx="452.85" cy="304.01" r="0.5" fill="#6a80e0" opacity="0.5"/>
<circle cx="449.27" cy="301.57" r="0.5" fill="#8a9ae8" opacity="0.5"/>
<circle cx="462.90" cy="302.15" r="0.5" fill="#a0b0f0" opacity="0.5"/>
<circle cx="458.51" cy="302.99" r="0.5" fill="#3a5ad8" opacity="0.5"/>
<circle cx="450.92" cy="300.54" r="0.5" fill="#6a80e0" opacity="0.5"/>
<circle cx="459.73" cy="298.91" r="0.5" fill="#6a80e0" opacity="0.5"/>
<circle cx="448.76" cy="304.01" r="0.5" fill="#8a9ae8" opacity="0.5"/>
<circle cx="455.79" cy="297.27" r="0.5" fill="#8a9ae8" opacity="0.5"/>
<circle cx="449.98" cy="302.93" r="0.5" fill="#2a40c0" opacity="0.5"/>
<circle cx="462.62" cy="302.93" r="0.5" fill="#6a80e0" opacity="0.5"/>
<circle cx="462.81" cy="301.91" r="0.5" fill="#6a80e0" opacity="0.5"/>
<circle cx="453.46" cy="298.32" r="0.5" fill="#3a5ad8" opacity="0.5"/>
<circle cx="458.80" cy="297.42" r="0.5" fill="#2a40c0" opacity="0.5"/>
<circle cx="444.87" cy="298.61" r="0.5" fill="#2a40c0" opacity="0.5"/>
<circle cx="453.04" cy="300.60" r="0.5" fill="#6a80e0" opacity="0.5"/>
<circle cx="463.00" cy="300.91" r="0.5" fill="#3a5ad8" opacity="0.5"/>
<circle cx="445.74" cy="303.29" r="0.5" fill="#2a40c0" opacity="0.5"/>
<circle cx="458.21" cy="297.99" r="0.5" fill="#6a80e0" opacity="0.5"/>
<circle cx="457.08" cy="303.80" r="0.5" fill="#a0b0f0" opacity="0.5"/>
<circle cx="453.96" cy="297.29" r="0.5" fill="#a0b0f0" opacity="0.5"/>
<circle cx="451.27" cy="300.84" r="0.5" fill="#a0b0f0" opacity="0.5"/>
<circle cx="458.57" cy="302.89" r="0.5" fill="#8a9ae8" opacity="0.5"/>
<circle cx="450.85" cy="299.63" r="0.5" fill="#8a9ae8" opacity="0.5"/>
<circle cx="461.82" cy="302.91" r="0.5" fill="#3a5ad8" opacity="0.5"/>
<circle cx="451.48" cy="303.01" r="0.5" fill="#3a5ad8" opacity="0.5"/>
<circle cx="459.17" cy="302.33" r="0.5" fill="#2a40c0" opacity="0.5"/>
<circle cx="456.00" cy="305.70" r="0.5" fill="#2a40c0" opacity="0.5"/>
<circle cx="453.68" cy="303.80" r="0.5" fill="#2a40c0" opacity="0.5"/>
<circle cx="454.99" cy="301.18" r="0.5" fill="#a0b0f0" opacity="0.5"/>
<circle cx="454.63" cy="297.90" r="0.5" fill="#2a40c0" opacity="0.5"/>
<circle cx="445.52" cy="302.68" r="0.5" fill="#2a40c0" opacity="0.5"/>
<circle cx="462.19" cy="302.55" r="0.5" fill="#6a80e0" opacity="0.5"/>
<circle cx="446.18" cy="296.54" r="0.5" fill="#2a40c0" opacity="0.5"/>
<circle cx="444.70" cy="302.70" r="0.5" fill="#6a80e0" opacity="0.5"/>
<circle cx="450.86" cy="301.61" r="0.5" fill="#6a80e0" opacity="0.5"/>
<circle cx="448.42" cy="304.89" r="0.5" fill="#8a9ae8" opacity="0.5"/>
<circle cx="443.10" cy="299.17" r="0.5" fill="#6a80e0" opacity="0.5"/>
<circle cx="457.86" cy="300.58" r="0.5" fill="#a0b0f0" opacity="0.5"/>
<circle cx="460.13" cy="303.48" r="0.5" fill="#a0b0f0" opacity="0.5"/>
<circle cx="451.20" cy="300.59" r="0.5" fill="#6a80e0" opacity="0.5"/>
<circle cx="449.04" cy="301.73" r="0.5" fill="#6a80e0" opacity="0.5"/>
<circle cx="454.14" cy="295.08" r="0.5" fill="#3a5ad8" opacity="0.5"/>
<circle cx="449.54" cy="297.02" r="0.5" fill="#8a9ae8" opacity="0.5"/>
<circle cx="443.10" cy="299.09" r="0.5" fill="#a0b0f0" opacity="0.5"/>
<circle cx="449.59" cy="305.18" r="0.5" fill="#2a40c0" opacity="0.5"/>
<circle cx="448.29" cy="298.48" r="0.5" fill="#6a80e0" opacity="0.5"/>
<circle cx="452.92" cy="304.33" r="0.5" fill="#8a9ae8" opacity="0.5"/>
<circle cx="454.28" cy="301.21" r="0.5" fill="#6a80e0" opacity="0.5"/>
<circle cx="449.43" cy="296.98" r="0.5" fill="#8a9ae8" opacity="0.5"/>
<circle cx="457.49" cy="298.91" r="0.5" fill="#a0b0f0" opacity="0.5"/>
<circle cx="455.27" cy="296.48" r="0.5" fill="#3a5ad8" opacity="0.5"/>
<circle cx="460.17" cy="302.38" r="0.5" fill="#6a80e0" opacity="0.5"/>
<circle cx="450.36" cy="302.91" r="0.5" fill="#6a80e0" opacity="0.5"/>
<circle cx="452.75" cy="300.87" r="0.5" fill="#3a5ad8" opacity="0.5"/>
<circle cx="444.07" cy="299.82" r="0.5" fill="#3a5ad8" opacity="0.5"/>
<circle cx="455.99" cy="296.01" r="0.5" fill="#3a5ad8" opacity="0.5"/>
<circle cx="457.11" cy="303.67" r="0.5" fill="#2a40c0" opacity="0.5"/>
<circle cx="447.19" cy="295.86" r="0.5" fill="#3a5ad8" opacity="0.5"/>
<circle cx="453.69" cy="295.13" r="0.5" fill="#3a5ad8" opacity="0.5"/>
<circle cx="456.09" cy="303.40" r="0.5" fill="#6a80e0" opacity="0.5"/>
<circle cx="445.87" cy="297.24" r="0.5" fill="#8a9ae8" opacity="0.5"/>
<circle cx="458.09" cy="297.12" r="0.5" fill="#a0b0f0" opacity="0.5"/>
<circle cx="453.53" cy="303.83" r="0.5" fill="#6a80e0" opacity="0.5"/>
<circle cx="451.56" cy="302.33" r="0.5" fill="#8a9ae8" opacity="0.5"/>
<circle cx="446.14" cy="299.68" r="0.5" fill="#2a40c0" opacity="0.5"/>
<circle cx="457.67" cy="298.78" r="0.5" fill="#2a40c0" opacity="0.5"/>
<circle cx="457.79" cy="300.04" r="0.5" fill="#2a40c0" opacity="0.5"/>
<circle cx="452.55" cy="300.64" r="0.5" fill="#6a80e0" opacity="0.5"/>
<circle cx="458.09" cy="298.58" r="0.5" fill="#a0b0f0" opacity="0.5"/>
<circle cx="448.92" cy="298.71" r="0.5" fill="#2a40c0" opacity="0.5"/>
<circle cx="450.86" cy="299.45" r="0.5" fill="#3a5ad8" opacity="0.5"/>
<circle cx="442.64" cy="301.89" r="0.5" fill="#8a9ae8" opacity="0.5"/>
<circle cx="449.13" cy="299.02" r="0.5" fill="#3a5ad8" opacity="0.5"/>
<circle cx="453.23" cy="297.20" r="0.5" fill="#2a40c0" opacity="0.5"/>
<circle cx="460.20" cy="297.62" r="0.5" fill="#6a80e0" opacity="0.5"/>
<circle cx="454.50" cy="300.11" r="0.5" fill="#6a80e0" opacity="0.5"/>
<circle cx="455.93" cy="300.00" r="0.5" fill="#a0b0f0" opacity="0.5"/>
<circle cx="449.96" cy="297.23" r="0.5" fill="#a0b0f0" opacity="0.5"/>
<circle cx="452.46" cy="303.99" r="0.5" fill="#6a80e0" opacity="0.5"/>
<circle cx="453.03" cy="298.68" r="0.5" fill="#8a9ae8" opacity="0.5"/>
<circle cx="456.83" cy="301.58" r="0.5" fill="#8a9ae8" opacity="0.5"/>
<circle cx="446.85" cy="297.96" r="0.5" fill="#6a80e0" opacity="0.5"/>
<circle cx="452.04" cy="296.44" r="0.5" fill="#6a80e0" opacity="0.5"/>
<circle cx="459.31" cy="297.48" r="0.5" fill="#a0b0f0" opacity="0.5"/>
<circle cx="452.89" cy="300.56" r="0.5" fill="#a0b0f0" opacity="0.5"/>
<ellipse cx="458.0" cy="300.0" rx="17.9" ry="9.4" fill="none" stroke="#555" stroke-width="0.9"/>
<path d="M478.80,293.50 C474.80,295.30 474.40,303.10 477.20,305.50 C478.40,302.50 479.20,297.10 478.80,293.50 Z" fill="#40b0a0" stroke="#1a4ec0" stroke-width="0.9"/>
<ellipse cx="477.3" cy="299.5" rx="1.0" ry="3.5" fill="#78c840"/>
<text x="453.20" y="287.00" font-size="7.5" font-weight="bold" fill="#000" textLength="14.29" lengthAdjust="spacingAndGlyphs" stroke="#000" stroke-width="0.19">31%</text>
<text x="311.30" y="364.80" font-size="11.34" font-weight="bold" fill="#000" textLength="6.60" lengthAdjust="spacingAndGlyphs" stroke="#000" stroke-width="0.28">F</text>
<line x1="352.40" y1="360.80" x2="352.40" y2="448.40" stroke="#000" stroke-width="1.6"/>
<line x1="351.60" y1="447.60" x2="510.50" y2="447.60" stroke="#000" stroke-width="1.8"/>
<line x1="349.40" y1="447.60" x2="352.40" y2="447.60" stroke="#000" stroke-width="1.2"/>
<text x="343.30" y="451.00" font-size="10.08" font-weight="bold" text-anchor="end" fill="#000" textLength="5.34" lengthAdjust="spacingAndGlyphs" stroke="#000" stroke-width="0.25">0</text>
<line x1="349.40" y1="430.40" x2="352.40" y2="430.40" stroke="#000" stroke-width="1.2"/>
<text x="343.30" y="433.80" font-size="10.08" font-weight="bold" text-anchor="end" fill="#000" textLength="5.34" lengthAdjust="spacingAndGlyphs" stroke="#000" stroke-width="0.25">2</text>
<line x1="349.40" y1="413.20" x2="352.40" y2="413.20" stroke="#000" stroke-width="1.2"/>
<text x="343.30" y="416.60" font-size="10.08" font-weight="bold" text-anchor="end" fill="#000" textLength="5.34" lengthAdjust="spacingAndGlyphs" stroke="#000" stroke-width="0.25">4</text>
<line x1="349.40" y1="396.00" x2="352.40" y2="396.00" stroke="#000" stroke-width="1.2"/>
<text x="343.30" y="399.40" font-size="10.08" font-weight="bold" text-anchor="end" fill="#000" textLength="5.34" lengthAdjust="spacingAndGlyphs" stroke="#000" stroke-width="0.25">6</text>
<line x1="349.40" y1="378.80" x2="352.40" y2="378.80" stroke="#000" stroke-width="1.2"/>
<text x="343.30" y="382.20" font-size="10.08" font-weight="bold" text-anchor="end" fill="#000" textLength="5.34" lengthAdjust="spacingAndGlyphs" stroke="#000" stroke-width="0.25">8</text>
<line x1="349.40" y1="361.60" x2="352.40" y2="361.60" stroke="#000" stroke-width="1.2"/>
<text x="343.30" y="365.00" font-size="10.08" font-weight="bold" text-anchor="end" fill="#000" textLength="10.68" lengthAdjust="spacingAndGlyphs" stroke="#000" stroke-width="0.25">10</text>
<line x1="352.50" y1="447.60" x2="352.50" y2="451.00" stroke="#000" stroke-width="1.2"/>
<text x="352.50" y="466.90" font-size="10.08" font-weight="bold" text-anchor="middle" fill="#000" textLength="5.34" lengthAdjust="spacingAndGlyphs" stroke="#000" stroke-width="0.25">0</text>
<line x1="383.91" y1="447.60" x2="383.91" y2="451.00" stroke="#000" stroke-width="1.2"/>
<text x="383.91" y="466.90" font-size="10.08" font-weight="bold" text-anchor="middle" fill="#000" textLength="10.68" lengthAdjust="spacingAndGlyphs" stroke="#000" stroke-width="0.25">20</text>
<line x1="415.32" y1="447.60" x2="415.32" y2="451.00" stroke="#000" stroke-width="1.2"/>
<text x="415.32" y="466.90" font-size="10.08" font-weight="bold" text-anchor="middle" fill="#000" textLength="10.68" lengthAdjust="spacingAndGlyphs" stroke="#000" stroke-width="0.25">40</text>
<line x1="446.73" y1="447.60" x2="446.73" y2="451.00" stroke="#000" stroke-width="1.2"/>
<text x="446.73" y="466.90" font-size="10.08" font-weight="bold" text-anchor="middle" fill="#000" textLength="10.68" lengthAdjust="spacingAndGlyphs" stroke="#000" stroke-width="0.25">60</text>
<line x1="478.14" y1="447.60" x2="478.14" y2="451.00" stroke="#000" stroke-width="1.2"/>
<text x="478.14" y="466.90" font-size="10.08" font-weight="bold" text-anchor="middle" fill="#000" textLength="10.68" lengthAdjust="spacingAndGlyphs" stroke="#000" stroke-width="0.25">80</text>
<line x1="509.55" y1="447.60" x2="509.55" y2="451.00" stroke="#000" stroke-width="1.2"/>
<text x="509.55" y="466.90" font-size="10.08" font-weight="bold" text-anchor="middle" fill="#000" textLength="16.02" lengthAdjust="spacingAndGlyphs" stroke="#000" stroke-width="0.25">100</text>
<text x="320.40" y="405.30" font-size="9.58" font-weight="bold" text-anchor="middle" fill="#000" transform="rotate(-90 320.40 405.30)" textLength="44.59" lengthAdjust="spacingAndGlyphs" stroke="#000" stroke-width="0.24">Combined</text>
<text x="330.00" y="404.30" font-size="9.65" font-weight="bold" text-anchor="middle" fill="#000" transform="rotate(-90 330.00 404.30)" textLength="94.98" lengthAdjust="spacingAndGlyphs" stroke="#000" stroke-width="0.24">Histopathology Score</text>
<text x="350.40" y="480.60" font-size="9.73" font-weight="bold" fill="#000" textLength="164.35" lengthAdjust="spacingAndGlyphs" stroke="#000" stroke-width="0.24">Percent of CD28-/CD95+/CD8+ T cells</text>
<text x="393.70" y="491.20" font-size="9.61" font-weight="bold" fill="#000" textLength="80.33" lengthAdjust="spacingAndGlyphs" stroke="#000" stroke-width="0.24">that are Ki-67-high</text>
<line x1="378.10" y1="435.39" x2="499.97" y2="367.28" stroke="#222" stroke-width="0.8"/>
<circle cx="373.70" cy="439.00" r="2.55" fill="#000"/>
<circle cx="376.06" cy="434.70" r="2.55" fill="#000"/>
<circle cx="387.05" cy="434.70" r="2.55" fill="#000"/>
<circle cx="391.76" cy="434.70" r="2.55" fill="#000"/>
<circle cx="404.33" cy="430.40" r="2.55" fill="#000"/>
<circle cx="416.89" cy="391.70" r="2.55" fill="#000"/>
<circle cx="431.02" cy="383.10" r="2.55" fill="#000"/>
<circle cx="435.74" cy="417.50" r="2.55" fill="#000"/>
<circle cx="500.13" cy="374.50" r="2.55" fill="#000"/>
<text x="456.9" y="370.8" font-size="6.0" font-weight="bold" fill="#222">R<tspan font-size="3.6" dy="-2.3">2</tspan><tspan dy="2.3"> = 0.6557</tspan></text>
</svg></body></html>
